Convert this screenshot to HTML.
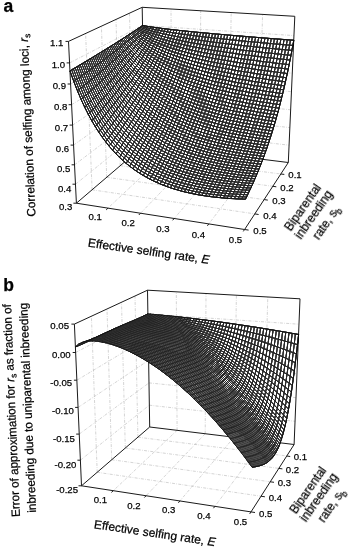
<!DOCTYPE html>
<html><head><meta charset="utf-8"><style>
html,body{margin:0;padding:0;background:#fff;}
svg{display:block;}
.g{stroke:#b0b0b0;stroke-width:0.55;stroke-dasharray:3 1.3 0.7 1.3;fill:none;}
.k{stroke:#1a1a1a;stroke-width:1;fill:none;}
.sf{fill:#fff;stroke:#111;stroke-width:0.6;}
.m{stroke:#000;stroke-width:0.92;fill:none;}
text{font-family:"Liberation Sans",sans-serif;fill:#000;}
.tx{opacity:0.995;}
.tx text{stroke:#000;stroke-width:0.25;}
.t text{font-size:9.6px;}
.ti,.ti text{font-size:12px;}
.pl{font-size:17.5px;font-weight:bold;}
</style></head><body>
<svg width="348" height="550" viewBox="0 0 348 550">
<defs><filter id="dk" x="-0.03" y="-0.03" width="1.06" height="1.06" color-interpolation-filters="sRGB"><feComponentTransfer><feFuncA type="table" tableValues="0 0.62 0.77 0.84 0.88"/></feComponentTransfer><feGaussianBlur stdDeviation="0.45"/></filter></defs>
<path class="g" d="M171.9 148.1L108 208.1M171.9 148.1L171 9M199.9 151.6L140.6 213.2M199.9 151.6L200.7 10.7M228.6 155.1L174.2 218.5M228.6 155.1L231.2 12.5M258.1 158.8L208.8 223.9M258.1 158.8L262.6 14.4M132.8 154.9L280.8 174M132.8 154.9L129.5 13.1M120.2 165.7L272.8 186.3M120.2 165.7L116 19.4M106.7 177.3L264.1 199.6M106.7 177.3L101.4 26.2M92.1 189.8L254.8 213.9M92.1 189.8L85.6 33.5M75.5 184.2L144.4 128.4M144.4 128.4L289.1 145.2M74.6 164.8L144.1 111.9M144.1 111.9L289.9 127.6M73.6 145.1L143.8 95.1M143.8 95.1L290.7 109.8M72.6 125.1L143.5 78M143.5 78L291.5 91.7M71.6 104.7L143.1 60.7M143.1 60.7L292.3 73.2M70.6 84L142.8 43.2M142.8 43.2L293.1 54.6M69.6 62.9L142.5 25.4M142.5 25.4L294 35.6"/>
<path class="k" d="M76.4 203.2L144.7 144.8M144.7 144.8L288.3 162.5M144.7 144.8L142.2 7.3M68.5 41.4L142.2 7.3M142.2 7.3L294.8 16.3M288.3 162.5L294.8 16.3"/>
<path class="sf" d="M97.7 54.2L96.2 55.1L94.6 56L93.1 57L91.5 57.9L89.9 58.9L88.3 59.8L86.7 60.8L85.1 61.8L83.5 62.8L81.8 63.7L80.2 64.7L78.5 65.7L76.8 66.7L75.1 67.7L73.4 68.8L71.7 69.8L70 70.8L70 70.8L70 70.8L69.9 70.8L69.9 70.8L69.9 70.8L69.9 70.8L69.9 70.8L69.9 70.8L69.9 70.9L69.9 70.9L69.9 70.9L69.9 70.9L69.9 70.9L69.9 70.9L73.7 81.4L73.7 81.4L77.4 90.8L77.4 90.8L81.1 99.4L81.1 99.4L84.7 107.2L84.7 107.2L88.2 114.3L88.2 114.3L91.8 120.8L91.8 120.8L95.3 126.7L95.3 126.7L98.8 132.2L98.8 132.2L102.2 137.2L102.2 137.2L105.7 141.9L105.7 141.9L109.1 146.2L109.1 146.2L112.5 150.1L112.5 150.1L115.9 153.8L115.9 153.8L119.3 157.3L119.3 157.3L122.7 160.4L122.7 160.4L126.1 163.4L126.1 163.4L129.5 166.2L129.5 166.2L132.9 168.7L132.9 168.7L136.3 171.1L136.3 171.1L139.7 173.4L139.7 173.4L143.1 175.4L143.1 175.4L146.5 177.4L146.5 177.4L149.9 179.2L149.9 179.2L153.4 180.9L153.4 180.9L156.8 182.5L156.8 182.5L160.2 184L160.2 184L163.6 185.3L163.6 185.3L167.1 186.6L167.1 186.6L170.5 187.8L170.5 187.8L174 189L174 189L177.4 190L177.4 190L180.9 191L180.9 191L184.4 191.9L184.4 191.9L187.9 192.7L187.9 192.7L191.4 193.5L191.4 193.5L194.9 194.2L194.9 194.2L198.4 194.8L198.4 194.8L202 195.4L202 195.4L205.5 196L205.5 196L209.1 196.5L209.1 196.5L212.7 196.9L212.7 196.9L216.3 197.3L216.3 197.3L219.9 197.7L219.9 197.7L223.5 198L223.5 198L227.1 198.3L227.1 198.3L230.7 198.6L230.7 198.6L234.4 198.8L234.4 198.8L238 199L238 199L241.7 199.1L241.7 199.1L245.4 199.2L245.4 199.2L245.4 199.2L245.4 199.2L245.4 199.2L245.4 199.2L245.4 199.2L245.4 199.2L245.5 199.2L245.5 199.2L245.5 199.2L245.5 199.2L245.5 199.2L246.5 197L246.5 197L247.6 194.8L247.6 194.8L248.7 192.6L248.7 192.6L249.7 190.3L249.7 190.3L250.8 188.1L250.8 188.1L251.8 185.8L251.8 185.8L252.9 183.5L252.9 183.5L253.9 181.2L253.9 181.2L254.9 178.8L254.9 178.8L256 176.4L256 176.4L257 174L257 174L258 171.6L258 171.6L259 169.2L259 169.2L260 166.7L260 166.7L261 164.2L261 164.2L262 161.6L262 161.6L262.9 159L262.9 159L263.9 156.4L263.9 156.4L264.9 153.7L264.9 153.7L265.9 151L265.9 151L266.8 148.3L266.8 148.3L267.8 145.5L267.8 145.5L268.7 142.7L268.7 142.7L269.7 139.8L269.7 139.8L270.6 136.9L270.6 136.9L271.6 134L271.6 134L272.5 131L272.5 131L273.5 127.9L273.5 127.9L274.4 124.8L274.4 124.8L275.3 121.6L275.3 121.6L276.2 118.3L276.2 118.3L277.2 115L277.2 115L278.1 111.6L278.1 111.6L279 108.2L279 108.2L279.9 104.7L279.9 104.7L280.9 101.1L280.9 101.1L281.8 97.4L281.8 97.4L282.7 93.7L282.7 93.7L283.6 89.8L283.6 89.8L284.5 85.9L284.5 85.9L285.5 81.8L285.5 81.8L286.4 77.7L286.4 77.7L287.3 73.5L287.3 73.5L288.2 69.1L288.2 69.1L289.2 64.6L289.2 64.6L290.1 60L290.1 60L291 55.3L291 55.3L291.9 50.5L291.9 50.5L292.9 45.4L292.9 45.4L293.8 40.3L293.8 40.3L293.8 40.3L293.8 40.3L293.8 40.3L293.8 40.3L293.8 40.3L293.8 40.3L293.8 40.3L293.8 40.2L293.8 40.2L293.8 40.2L293.8 40.2L293.8 40.2L293.8 40.2L293.8 40.2L293.8 40.2L293.8 40.2L290.5 40L287.3 39.7L284.1 39.5L280.9 39.2L277.7 39L274.5 38.8L271.3 38.5L268.2 38.3L265 38L261.8 37.8L258.7 37.5L255.6 37.3L252.4 37L249.3 36.8L246.2 36.5L243.1 36.2L240 36L236.9 35.7L233.9 35.5L230.8 35.2L227.7 35L224.7 34.7L221.7 34.4L218.6 34.2L215.6 33.9L212.6 33.6L209.6 33.4L206.6 33.1L203.6 32.8L200.6 32.5L197.6 32.2L194.6 32L191.7 31.7L188.7 31.4L185.8 31.1L182.9 30.8L179.9 30.5L177 30.1L174.1 29.8L171.2 29.5L168.3 29.1L165.4 28.8L162.5 28.4L159.6 28.1L156.8 27.7L153.9 27.3L151 26.9L148.2 26.5L145.4 26L142.5 25.5L142.5 25.5L142.5 25.5L142.5 25.5L142.5 25.5L142.5 25.5L142.5 25.5L142.5 25.5L142.5 25.5L141.3 26.4L140.1 27.2L138.8 28L137.6 28.9L136.3 29.7L135.1 30.5L133.8 31.4L132.6 32.2L131.3 33.1L130 33.9L128.7 34.7L127.4 35.6L126.1 36.4L124.8 37.3L123.4 38.1L122.1 39L120.7 39.9L119.4 40.7L118 41.6L116.6 42.5L115.2 43.3L113.8 44.2L112.4 45.1L111 46L109.6 46.9L108.1 47.8L106.7 48.7L105.2 49.6L103.7 50.5L102.2 51.4L100.7 52.3L99.2 53.2L97.7 54.2Z"/>
<g filter="url(#dk)"><path class="m" style="stroke-width:0.920" d="M142.5 25.6L141.3 26.4L140.1 27.2L138.9 28.1L137.6 28.9L136.4 29.7L135.1 30.6L133.9 31.4L132.6 32.3L131.3 33.1L130 33.9L128.7 34.8L127.4 35.6L126.1 36.5L124.8 37.3L123.5 38.2L122.1 39L120.8 39.9L119.4 40.8L118 41.6L116.7 42.5L115.3 43.4L113.9 44.3L112.4 45.1L111 46L109.6 46.9L108.1 47.8L106.7 48.7L105.2 49.6L103.8 50.5L102.3 51.4L100.8 52.3L99.3 53.3L97.7 54.2L96.2 55.1L94.7 56.1L93.1 57L91.5 58L90 58.9L88.4 59.9L86.8 60.8L85.1 61.8L83.5 62.8L81.9 63.8L80.2 64.8L78.5 65.8L76.9 66.8L75.2 67.8L73.4 68.8L71.7 69.8L70 70.9M145.3 26L144.1 27.2L142.9 28.3L141.7 29.4L140.5 30.4L139.3 31.5L138 32.6L136.8 33.7L135.5 34.8L134.3 35.8L133 36.9L131.7 38L130.4 39.1L129.1 40.1L127.8 41.2L126.5 42.3L125.2 43.3L123.8 44.4L122.5 45.5L121.1 46.5L119.8 47.6L118.4 48.7L117 49.8L115.6 50.8L114.2 51.9L112.8 53L111.4 54.1L110 55.2L108.5 56.3L107.1 57.4L105.6 58.5L104.1 59.6L102.6 60.7L101.1 61.8L99.6 62.9L98.1 64L96.5 65.1L95 66.2L93.4 67.4L91.9 68.5L90.3 69.6L88.7 70.8L87.1 71.9L85.5 73.1L83.8 74.3L82.2 75.4L80.5 76.6L78.9 77.8L77.2 79L75.5 80.2L73.8 81.4M148.2 26.5L147 27.9L145.8 29.2L144.6 30.5L143.4 31.9L142.2 33.2L141 34.5L139.7 35.8L138.5 37.1L137.2 38.4L136 39.6L134.7 40.9L133.4 42.2L132.1 43.5L130.9 44.7L129.6 46L128.2 47.3L126.9 48.5L125.6 49.8L124.3 51L122.9 52.3L121.5 53.5L120.2 54.8L118.8 56L117.4 57.3L116 58.5L114.6 59.8L113.2 61.1L111.8 62.3L110.3 63.6L108.9 64.8L107.4 66.1L105.9 67.4L104.5 68.6L103 69.9L101.5 71.2L99.9 72.5L98.4 73.7L96.9 75L95.3 76.3L93.8 77.6L92.2 78.9L90.6 80.2L89 81.5L87.4 82.8L85.8 84.1L84.1 85.5L82.5 86.8L80.8 88.1L79.1 89.5L77.5 90.8M151 26.9L149.9 28.5L148.7 30.1L147.5 31.6L146.3 33.2L145.1 34.7L143.9 36.2L142.7 37.7L141.4 39.2L140.2 40.7L138.9 42.2L137.7 43.6L136.4 45.1L135.2 46.5L133.9 48L132.6 49.4L131.3 50.9L130 52.3L128.7 53.7L127.3 55.1L126 56.6L124.7 58L123.3 59.4L121.9 60.8L120.6 62.2L119.2 63.6L117.8 65L116.4 66.4L115 67.8L113.6 69.2L112.1 70.7L110.7 72.1L109.2 73.5L107.8 74.9L106.3 76.3L104.8 77.7L103.3 79.1L101.8 80.6L100.3 82L98.8 83.4L97.2 84.8L95.7 86.3L94.1 87.7L92.5 89.1L90.9 90.6L89.3 92L87.7 93.5L86.1 95L84.4 96.4L82.8 97.9L81.1 99.4M153.9 27.3L152.7 29.1L151.6 30.9L150.4 32.7L149.2 34.4L148 36.1L146.8 37.8L145.6 39.5L144.4 41.2L143.1 42.9L141.9 44.5L140.7 46.1L139.4 47.8L138.2 49.4L136.9 51L135.6 52.6L134.3 54.2L133 55.8L131.7 57.3L130.4 58.9L129.1 60.5L127.8 62.1L126.4 63.6L125.1 65.2L123.7 66.7L122.4 68.3L121 69.8L119.6 71.4L118.2 72.9L116.8 74.4L115.4 76L114 77.5L112.5 79.1L111.1 80.6L109.6 82.1L108.1 83.7L106.7 85.2L105.2 86.8L103.7 88.3L102.1 89.9L100.6 91.4L99.1 93L97.5 94.5L96 96.1L94.4 97.7L92.8 99.2L91.2 100.8L89.6 102.4L88 104L86.4 105.6L84.7 107.2M156.8 27.7L155.6 29.7L154.4 31.7L153.3 33.6L152.1 35.6L150.9 37.5L149.7 39.3L148.5 41.2L147.3 43L146.1 44.9L144.9 46.7L143.6 48.5L142.4 50.2L141.2 52L139.9 53.8L138.6 55.5L137.4 57.3L136.1 59L134.8 60.7L133.5 62.4L132.2 64.1L130.9 65.8L129.5 67.5L128.2 69.2L126.9 70.9L125.5 72.5L124.2 74.2L122.8 75.9L121.4 77.6L120 79.2L118.6 80.9L117.2 82.5L115.8 84.2L114.3 85.8L112.9 87.5L111.4 89.2L110 90.8L108.5 92.5L107 94.1L105.5 95.8L104 97.5L102.5 99.1L101 100.8L99.4 102.5L97.9 104.1L96.3 105.8L94.7 107.5L93.1 109.2L91.5 110.9L89.9 112.6L88.3 114.3M159.6 28.1L158.5 30.3L157.3 32.4L156.2 34.6L155 36.6L153.8 38.7L152.6 40.7L151.5 42.8L150.3 44.8L149.1 46.7L147.8 48.7L146.6 50.6L145.4 52.6L144.2 54.5L142.9 56.4L141.7 58.2L140.4 60.1L139.1 62L137.9 63.8L136.6 65.6L135.3 67.5L134 69.3L132.7 71.1L131.3 72.9L130 74.7L128.7 76.5L127.3 78.3L126 80.1L124.6 81.8L123.2 83.6L121.8 85.4L120.4 87.1L119 88.9L117.6 90.7L116.2 92.4L114.7 94.2L113.3 96L111.8 97.7L110.3 99.5L108.9 101.2L107.4 103L105.9 104.8L104.4 106.5L102.8 108.3L101.3 110.1L99.7 111.8L98.2 113.6L96.6 115.4L95 117.2L93.4 119L91.8 120.8M162.5 28.5L161.4 30.8L160.2 33.1L159.1 35.4L157.9 37.7L156.7 39.9L155.6 42.1L154.4 44.2L153.2 46.4L152 48.5L150.8 50.6L149.6 52.6L148.4 54.7L147.2 56.7L145.9 58.8L144.7 60.8L143.4 62.8L142.2 64.7L140.9 66.7L139.6 68.6L138.3 70.6L137.1 72.5L135.8 74.4L134.4 76.4L133.1 78.3L131.8 80.2L130.5 82L129.1 83.9L127.8 85.8L126.4 87.7L125 89.5L123.6 91.4L122.2 93.3L120.8 95.1L119.4 97L118 98.8L116.6 100.7L115.1 102.5L113.7 104.4L112.2 106.2L110.7 108.1L109.2 109.9L107.7 111.8L106.2 113.7L104.7 115.5L103.2 117.4L101.6 119.2L100.1 121.1L98.5 123L96.9 124.8L95.3 126.7M165.4 28.8L164.3 31.3L163.1 33.8L162 36.2L160.8 38.6L159.7 41L158.5 43.3L157.3 45.6L156.2 47.9L155 50.1L153.8 52.3L152.6 54.5L151.4 56.7L150.2 58.9L148.9 61L147.7 63.1L146.5 65.2L145.2 67.3L144 69.4L142.7 71.4L141.4 73.5L140.1 75.5L138.9 77.5L137.6 79.6L136.2 81.6L134.9 83.6L133.6 85.5L132.3 87.5L130.9 89.5L129.6 91.4L128.2 93.4L126.8 95.4L125.5 97.3L124.1 99.3L122.7 101.2L121.3 103.1L119.8 105.1L118.4 107L117 108.9L115.5 110.9L114 112.8L112.6 114.7L111.1 116.7L109.6 118.6L108.1 120.5L106.6 122.5L105 124.4L103.5 126.3L101.9 128.3L100.4 130.2L98.8 132.2M168.3 29.2L167.2 31.8L166 34.4L164.9 37L163.7 39.5L162.6 42L161.4 44.5L160.3 46.9L159.1 49.3L157.9 51.7L156.8 54L155.6 56.3L154.4 58.6L153.2 60.9L151.9 63.1L150.7 65.3L149.5 67.5L148.3 69.7L147 71.9L145.8 74.1L144.5 76.2L143.2 78.3L141.9 80.4L140.7 82.5L139.4 84.6L138.1 86.7L136.7 88.8L135.4 90.8L134.1 92.9L132.8 95L131.4 97L130 99L128.7 101.1L127.3 103.1L125.9 105.1L124.5 107.1L123.1 109.1L121.7 111.1L120.3 113.1L118.8 115.1L117.4 117.1L115.9 119.1L114.4 121.1L112.9 123.2L111.5 125.2L110 127.2L108.4 129.2L106.9 131.2L105.4 133.2L103.8 135.2L102.3 137.2M171.2 29.5L170.1 32.3L168.9 35.1L167.8 37.8L166.7 40.4L165.5 43L164.4 45.6L163.2 48.1L162.1 50.6L160.9 53.1L159.7 55.6L158.5 58L157.4 60.4L156.2 62.7L155 65.1L153.7 67.4L152.5 69.7L151.3 72L150.1 74.3L148.8 76.5L147.6 78.7L146.3 80.9L145 83.1L143.8 85.3L142.5 87.5L141.2 89.7L139.9 91.8L138.6 94L137.3 96.1L135.9 98.2L134.6 100.3L133.2 102.4L131.9 104.5L130.5 106.6L129.1 108.7L127.8 110.8L126.4 112.9L124.9 115L123.5 117L122.1 119.1L120.7 121.2L119.2 123.2L117.8 125.3L116.3 127.4L114.8 129.4L113.3 131.5L111.8 133.6L110.3 135.6L108.8 137.7L107.2 139.8L105.7 141.8M174.1 29.9L173 32.8L171.9 35.6L170.7 38.5L169.6 41.2L168.5 44L167.3 46.6L166.2 49.3L165 51.9L163.9 54.5L162.7 57L161.5 59.6L160.4 62L159.2 64.5L158 66.9L156.8 69.4L155.6 71.8L154.3 74.1L153.1 76.5L151.9 78.8L150.6 81.1L149.4 83.4L148.1 85.7L146.9 87.9L145.6 90.2L144.3 92.4L143 94.6L141.7 96.9L140.4 99.1L139.1 101.3L137.8 103.4L136.4 105.6L135.1 107.8L133.7 109.9L132.4 112.1L131 114.2L129.6 116.4L128.2 118.5L126.8 120.6L125.4 122.8L124 124.9L122.5 127L121.1 129.2L119.6 131.3L118.2 133.4L116.7 135.5L115.2 137.6L113.7 139.8L112.2 141.9L110.7 144L109.1 146.1M177 30.2L175.9 33.2L174.8 36.2L173.7 39.1L172.6 42L171.4 44.9L170.3 47.7L169.2 50.4L168 53.1L166.9 55.8L165.7 58.4L164.5 61.1L163.4 63.6L162.2 66.2L161 68.7L159.8 71.2L158.6 73.7L157.4 76.1L156.2 78.5L155 80.9L153.7 83.3L152.5 85.7L151.2 88.1L150 90.4L148.7 92.7L147.4 95L146.2 97.3L144.9 99.6L143.6 101.8L142.3 104.1L140.9 106.3L139.6 108.6L138.3 110.8L136.9 113L135.6 115.2L134.2 117.4L132.8 119.6L131.5 121.8L130.1 124L128.7 126.2L127.3 128.4L125.8 130.6L124.4 132.7L123 134.9L121.5 137.1L120 139.3L118.6 141.4L117.1 143.6L115.6 145.8L114.1 147.9L112.6 150.1M179.9 30.5L178.8 33.7L177.7 36.8L176.6 39.8L175.5 42.8L174.4 45.7L173.3 48.6L172.1 51.5L171 54.3L169.8 57L168.7 59.8L167.5 62.5L166.4 65.1L165.2 67.8L164 70.4L162.8 72.9L161.6 75.5L160.4 78L159.2 80.5L158 83L156.8 85.4L155.6 87.9L154.3 90.3L153.1 92.7L151.8 95.1L150.6 97.4L149.3 99.8L148 102.1L146.7 104.4L145.4 106.8L144.1 109.1L142.8 111.3L141.5 113.6L140.1 115.9L138.8 118.2L137.5 120.4L136.1 122.7L134.7 124.9L133.3 127.2L131.9 129.4L130.5 131.6L129.1 133.8L127.7 136.1L126.3 138.3L124.8 140.5L123.4 142.7L121.9 144.9L120.5 147.2L119 149.4L117.5 151.6L116 153.8M182.8 30.8L181.8 34.1L180.7 37.3L179.6 40.4L178.5 43.5L177.3 46.5L176.2 49.5L175.1 52.5L174 55.4L172.8 58.2L171.7 61L170.5 63.8L169.4 66.5L168.2 69.3L167 71.9L165.9 74.6L164.7 77.2L163.5 79.8L162.3 82.3L161.1 84.9L159.9 87.4L158.7 89.9L157.4 92.4L156.2 94.8L154.9 97.3L153.7 99.7L152.4 102.1L151.2 104.5L149.9 106.9L148.6 109.3L147.3 111.6L146 114L144.7 116.3L143.4 118.6L142 120.9L140.7 123.2L139.3 125.5L138 127.8L136.6 130.1L135.2 132.4L133.8 134.6L132.4 136.9L131 139.2L129.6 141.4L128.2 143.7L126.7 146L125.3 148.2L123.8 150.5L122.3 152.7L120.9 155L119.4 157.2M185.8 31.1L184.7 34.5L183.6 37.8L182.5 41L181.4 44.2L180.3 47.3L179.2 50.4L178.1 53.4L177 56.4L175.8 59.3L174.7 62.2L173.5 65.1L172.4 67.9L171.2 70.7L170.1 73.4L168.9 76.1L167.7 78.8L166.6 81.5L165.4 84.1L164.2 86.7L163 89.3L161.7 91.8L160.5 94.4L159.3 96.9L158.1 99.4L156.8 101.9L155.6 104.3L154.3 106.8L153 109.2L151.8 111.6L150.5 114L149.2 116.4L147.9 118.8L146.6 121.1L145.2 123.5L143.9 125.8L142.6 128.2L141.2 130.5L139.9 132.8L138.5 135.2L137.1 137.5L135.7 139.8L134.3 142.1L132.9 144.4L131.5 146.7L130.1 149L128.6 151.3L127.2 153.5L125.7 155.8L124.3 158.1L122.8 160.4M188.7 31.4L187.7 34.9L186.6 38.3L185.5 41.6L184.4 44.9L183.3 48.1L182.2 51.2L181.1 54.3L180 57.4L178.8 60.4L177.7 63.4L176.6 66.3L175.4 69.2L174.3 72L173.1 74.8L172 77.6L170.8 80.3L169.6 83.1L168.4 85.8L167.2 88.4L166 91L164.8 93.7L163.6 96.2L162.4 98.8L161.2 101.4L159.9 103.9L158.7 106.4L157.5 108.9L156.2 111.3L154.9 113.8L153.6 116.3L152.4 118.7L151.1 121.1L149.8 123.5L148.5 125.9L147.1 128.3L145.8 130.7L144.5 133L143.1 135.4L141.8 137.8L140.4 140.1L139 142.4L137.6 144.8L136.2 147.1L134.8 149.4L133.4 151.8L132 154.1L130.5 156.4L129.1 158.7L127.6 161L126.2 163.4M191.7 31.7L190.6 35.3L189.5 38.7L188.4 42.2L187.4 45.5L186.3 48.8L185.2 52L184.1 55.2L183 58.3L181.8 61.4L180.7 64.5L179.6 67.4L178.5 70.4L177.3 73.3L176.2 76.2L175 79L173.8 81.8L172.7 84.6L171.5 87.3L170.3 90L169.1 92.7L167.9 95.4L166.7 98L165.5 100.6L164.3 103.2L163.1 105.8L161.8 108.3L160.6 110.9L159.4 113.4L158.1 115.9L156.8 118.4L155.6 120.8L154.3 123.3L153 125.7L151.7 128.2L150.4 130.6L149.1 133L147.7 135.4L146.4 137.8L145 140.2L143.7 142.6L142.3 144.9L140.9 147.3L139.6 149.7L138.2 152L136.8 154.4L135.3 156.7L133.9 159.1L132.5 161.4L131 163.8L129.6 166.1M194.6 32L193.6 35.6L192.5 39.2L191.4 42.7L190.3 46.1L189.3 49.5L188.2 52.8L187.1 56.1L186 59.3L184.8 62.4L183.7 65.5L182.6 68.5L181.5 71.6L180.4 74.5L179.2 77.5L178.1 80.3L176.9 83.2L175.8 86L174.6 88.8L173.4 91.6L172.2 94.3L171 97L169.9 99.7L168.6 102.4L167.4 105L166.2 107.6L165 110.2L163.8 112.8L162.5 115.3L161.3 117.9L160 120.4L158.8 122.9L157.5 125.4L156.2 127.8L154.9 130.3L153.6 132.8L152.3 135.2L151 137.6L149.6 140.1L148.3 142.5L147 144.9L145.6 147.3L144.2 149.7L142.9 152.1L141.5 154.5L140.1 156.8L138.7 159.2L137.3 161.6L135.8 164L134.4 166.3L133 168.7M197.6 32.3L196.5 36L195.5 39.7L194.4 43.2L193.3 46.7L192.2 50.2L191.2 53.6L190.1 56.9L189 60.1L187.9 63.3L186.8 66.5L185.6 69.6L184.5 72.7L183.4 75.7L182.3 78.7L181.1 81.6L180 84.5L178.8 87.4L177.7 90.2L176.5 93L175.3 95.8L174.2 98.6L173 101.3L171.8 104L170.6 106.7L169.4 109.3L168.1 111.9L166.9 114.5L165.7 117.1L164.5 119.7L163.2 122.3L161.9 124.8L160.7 127.3L159.4 129.8L158.1 132.3L156.8 134.8L155.5 137.3L154.2 139.7L152.9 142.2L151.6 144.6L150.3 147.1L148.9 149.5L147.6 151.9L146.2 154.3L144.8 156.7L143.4 159.1L142 161.5L140.6 163.9L139.2 166.3L137.8 168.7L136.4 171.1M200.6 32.6L199.5 36.4L198.5 40.1L197.4 43.7L196.3 47.3L195.3 50.8L194.2 54.3L193.1 57.6L192 61L190.9 64.2L189.8 67.5L188.7 70.6L187.6 73.7L186.5 76.8L185.3 79.8L184.2 82.8L183.1 85.8L181.9 88.7L180.8 91.6L179.6 94.4L178.4 97.3L177.3 100L176.1 102.8L174.9 105.5L173.7 108.2L172.5 110.9L171.3 113.6L170.1 116.2L168.9 118.9L167.6 121.5L166.4 124L165.2 126.6L163.9 129.2L162.6 131.7L161.4 134.2L160.1 136.7L158.8 139.2L157.5 141.7L156.2 144.2L154.9 146.7L153.5 149.1L152.2 151.6L150.9 154L149.5 156.4L148.1 158.9L146.8 161.3L145.4 163.7L144 166.1L142.6 168.5L141.2 170.9L139.8 173.3M203.6 32.9L202.5 36.7L201.5 40.5L200.4 44.2L199.3 47.9L198.3 51.5L197.2 55L196.1 58.4L195 61.8L193.9 65.1L192.8 68.4L191.7 71.6L190.6 74.8L189.5 77.9L188.4 81L187.3 84L186.1 87L185 90L183.9 92.9L182.7 95.8L181.6 98.6L180.4 101.4L179.2 104.2L178 107L176.9 109.8L175.7 112.5L174.5 115.2L173.3 117.8L172 120.5L170.8 123.1L169.6 125.7L168.4 128.3L167.1 130.9L165.9 133.5L164.6 136L163.3 138.5L162 141.1L160.8 143.6L159.5 146.1L158.2 148.5L156.8 151L155.5 153.5L154.2 155.9L152.8 158.4L151.5 160.8L150.1 163.3L148.7 165.7L147.4 168.1L146 170.6L144.6 173L143.2 175.4M206.6 33.1L205.5 37.1L204.5 40.9L203.4 44.7L202.3 48.4L201.3 52.1L200.2 55.6L199.1 59.1L198.1 62.6L197 65.9L195.9 69.3L194.8 72.5L193.7 75.7L192.6 78.9L191.5 82L190.4 85.1L189.2 88.1L188.1 91.1L187 94.1L185.8 97L184.7 99.9L183.5 102.8L182.4 105.6L181.2 108.4L180 111.2L178.8 113.9L177.6 116.7L176.4 119.4L175.2 122L174 124.7L172.8 127.3L171.6 129.9L170.3 132.5L169.1 135.1L167.8 137.7L166.6 140.2L165.3 142.8L164 145.3L162.7 147.8L161.4 150.3L160.1 152.8L158.8 155.3L157.5 157.8L156.2 160.3L154.8 162.7L153.5 165.2L152.1 167.6L150.7 170L149.4 172.5L148 174.9L146.6 177.3M209.6 33.4L208.5 37.4L207.5 41.4L206.4 45.2L205.4 49L204.3 52.7L203.2 56.3L202.2 59.8L201.1 63.3L200 66.7L198.9 70.1L197.8 73.4L196.8 76.7L195.7 79.9L194.5 83.1L193.4 86.2L192.3 89.3L191.2 92.3L190.1 95.3L188.9 98.2L187.8 101.2L186.6 104.1L185.5 106.9L184.3 109.7L183.2 112.5L182 115.3L180.8 118.1L179.6 120.8L178.4 123.5L177.2 126.2L176 128.8L174.8 131.5L173.6 134.1L172.3 136.7L171.1 139.3L169.8 141.9L168.6 144.4L167.3 147L166 149.5L164.7 152L163.4 154.5L162.1 157L160.8 159.5L159.5 162L158.2 164.5L156.8 166.9L155.5 169.4L154.1 171.8L152.7 174.3L151.4 176.7L150 179.2M212.6 33.7L211.5 37.8L210.5 41.8L209.4 45.7L208.4 49.5L207.3 53.2L206.3 56.9L205.2 60.5L204.1 64L203.1 67.5L202 70.9L200.9 74.3L199.8 77.6L198.7 80.8L197.6 84L196.5 87.2L195.4 90.3L194.3 93.4L193.2 96.4L192.1 99.4L190.9 102.4L189.8 105.3L188.6 108.2L187.5 111L186.3 113.8L185.2 116.6L184 119.4L182.8 122.2L181.6 124.9L180.4 127.6L179.2 130.3L178 132.9L176.8 135.6L175.6 138.2L174.3 140.8L173.1 143.4L171.8 146L170.6 148.5L169.3 151.1L168 153.6L166.7 156.1L165.5 158.6L164.1 161.1L162.8 163.6L161.5 166.1L160.2 168.6L158.8 171L157.5 173.5L156.1 176L154.8 178.4L153.4 180.9M215.6 34L214.6 38.1L213.5 42.2L212.5 46.1L211.4 50L210.4 53.8L209.3 57.5L208.3 61.2L207.2 64.8L206.1 68.3L205.1 71.7L204 75.1L202.9 78.5L201.8 81.8L200.7 85L199.6 88.2L198.5 91.3L197.4 94.4L196.3 97.5L195.2 100.5L194.1 103.5L192.9 106.4L191.8 109.4L190.7 112.2L189.5 115.1L188.3 117.9L187.2 120.7L186 123.5L184.8 126.2L183.6 128.9L182.4 131.6L181.2 134.3L180 137L178.8 139.6L177.6 142.2L176.4 144.8L175.1 147.4L173.9 150L172.6 152.5L171.3 155.1L170.1 157.6L168.8 160.1L167.5 162.7L166.2 165.2L164.9 167.6L163.5 170.1L162.2 172.6L160.9 175.1L159.5 177.5L158.2 180L156.8 182.4M218.6 34.2L217.6 38.4L216.5 42.5L215.5 46.6L214.5 50.5L213.4 54.3L212.4 58.1L211.3 61.8L210.3 65.4L209.2 69L208.1 72.5L207.1 75.9L206 79.3L204.9 82.6L203.8 85.9L202.7 89.1L201.7 92.3L200.6 95.4L199.4 98.5L198.3 101.6L197.2 104.6L196.1 107.6L195 110.5L193.8 113.4L192.7 116.3L191.5 119.1L190.4 121.9L189.2 124.7L188 127.5L186.9 130.2L185.7 132.9L184.5 135.6L183.3 138.3L182.1 140.9L180.9 143.6L179.6 146.2L178.4 148.8L177.2 151.4L175.9 153.9L174.7 156.5L173.4 159L172.1 161.6L170.8 164.1L169.5 166.6L168.2 169.1L166.9 171.6L165.6 174.1L164.3 176.5L162.9 179L161.6 181.5L160.2 183.9M221.6 34.5L220.6 38.7L219.6 42.9L218.6 47L217.5 51L216.5 54.9L215.4 58.7L214.4 62.4L213.3 66.1L212.3 69.7L211.2 73.2L210.2 76.7L209.1 80.1L208 83.5L206.9 86.8L205.9 90L204.8 93.2L203.7 96.4L202.6 99.5L201.5 102.6L200.4 105.6L199.3 108.6L198.1 111.6L197 114.5L195.9 117.4L194.7 120.3L193.6 123.1L192.4 125.9L191.3 128.7L190.1 131.4L188.9 134.2L187.7 136.9L186.5 139.6L185.3 142.2L184.1 144.9L182.9 147.5L181.7 150.1L180.5 152.7L179.2 155.3L178 157.8L176.7 160.4L175.4 162.9L174.2 165.4L172.9 168L171.6 170.5L170.3 173L169 175.4L167.7 177.9L166.3 180.4L165 182.8L163.7 185.3M224.7 34.7L223.7 39.1L222.6 43.3L221.6 47.4L220.6 51.4L219.5 55.4L218.5 59.2L217.5 63L216.4 66.7L215.4 70.4L214.3 74L213.3 77.5L212.2 80.9L211.1 84.3L210.1 87.6L209 90.9L207.9 94.1L206.8 97.3L205.7 100.5L204.6 103.6L203.5 106.6L202.4 109.6L201.3 112.6L200.2 115.6L199.1 118.5L197.9 121.4L196.8 124.2L195.6 127L194.5 129.8L193.3 132.6L192.2 135.3L191 138.1L189.8 140.7L188.6 143.4L187.4 146.1L186.2 148.7L185 151.3L183.8 153.9L182.5 156.5L181.3 159.1L180 161.6L178.8 164.2L177.5 166.7L176.3 169.2L175 171.7L173.7 174.2L172.4 176.7L171.1 179.2L169.8 181.7L168.4 184.1L167.1 186.6M227.7 35L226.7 39.4L225.7 43.7L224.7 47.8L223.6 51.9L222.6 55.9L221.6 59.8L220.5 63.6L219.5 67.4L218.5 71L217.4 74.6L216.4 78.2L215.3 81.7L214.3 85.1L213.2 88.5L212.1 91.8L211 95L210 98.2L208.9 101.4L207.8 104.5L206.7 107.6L205.6 110.6L204.5 113.6L203.4 116.6L202.3 119.5L201.1 122.4L200 125.3L198.9 128.1L197.7 130.9L196.6 133.7L195.4 136.4L194.2 139.2L193.1 141.9L191.9 144.6L190.7 147.2L189.5 149.9L188.3 152.5L187.1 155.1L185.9 157.7L184.6 160.3L183.4 162.8L182.1 165.4L180.9 167.9L179.6 170.4L178.4 172.9L177.1 175.4L175.8 177.9L174.5 180.4L173.2 182.9L171.9 185.3L170.5 187.8M230.8 35.3L229.8 39.7L228.8 44L227.7 48.2L226.7 52.4L225.7 56.4L224.7 60.3L223.6 64.2L222.6 68L221.6 71.7L220.5 75.3L219.5 78.9L218.4 82.4L217.4 85.9L216.3 89.2L215.3 92.6L214.2 95.9L213.1 99.1L212 102.3L211 105.4L209.9 108.5L208.8 111.6L207.7 114.6L206.6 117.6L205.5 120.5L204.3 123.4L203.2 126.3L202.1 129.1L201 132L199.8 134.7L198.7 137.5L197.5 140.2L196.3 143L195.2 145.7L194 148.3L192.8 151L191.6 153.6L190.4 156.2L189.2 158.8L188 161.4L186.7 163.9L185.5 166.5L184.3 169L183 171.6L181.8 174.1L180.5 176.6L179.2 179L177.9 181.5L176.6 184L175.3 186.5L174 188.9M233.9 35.5L232.9 40L231.8 44.4L230.8 48.6L229.8 52.8L228.8 56.9L227.8 60.9L226.7 64.7L225.7 68.6L224.7 72.3L223.6 76L222.6 79.6L221.6 83.1L220.5 86.6L219.5 90L218.4 93.4L217.3 96.7L216.3 99.9L215.2 103.1L214.1 106.3L213.1 109.4L212 112.5L210.9 115.5L209.8 118.5L208.7 121.5L207.6 124.4L206.5 127.3L205.3 130.1L204.2 133L203.1 135.8L201.9 138.5L200.8 141.3L199.6 144L198.5 146.7L197.3 149.4L196.1 152L194.9 154.6L193.7 157.3L192.5 159.9L191.3 162.4L190.1 165L188.9 167.6L187.6 170.1L186.4 172.6L185.2 175.1L183.9 177.6L182.6 180.1L181.3 182.6L180.1 185L178.8 187.5L177.5 189.9M236.9 35.8L235.9 40.3L234.9 44.7L233.9 49L232.9 53.2L231.9 57.3L230.9 61.4L229.8 65.3L228.8 69.1L227.8 72.9L226.8 76.6L225.7 80.2L224.7 83.8L223.7 87.3L222.6 90.7L221.6 94.1L220.5 97.5L219.5 100.7L218.4 104L217.3 107.1L216.3 110.3L215.2 113.3L214.1 116.4L213 119.4L211.9 122.4L210.8 125.3L209.7 128.2L208.6 131.1L207.5 133.9L206.3 136.7L205.2 139.5L204.1 142.2L202.9 145L201.8 147.7L200.6 150.3L199.4 153L198.3 155.6L197.1 158.3L195.9 160.9L194.7 163.4L193.5 166L192.3 168.5L191 171.1L189.8 173.6L188.6 176.1L187.3 178.6L186.1 181.1L184.8 183.6L183.5 186L182.2 188.5L180.9 190.9M240 36L239 40.6L238 45.1L237 49.4L236 53.7L235 57.8L234 61.9L233 65.8L231.9 69.7L230.9 73.5L229.9 77.2L228.9 80.9L227.8 84.5L226.8 88L225.8 91.5L224.7 94.9L223.7 98.2L222.6 101.5L221.6 104.7L220.5 107.9L219.5 111.1L218.4 114.2L217.3 117.2L216.2 120.3L215.1 123.2L214 126.2L212.9 129.1L211.8 132L210.7 134.8L209.6 137.6L208.5 140.4L207.4 143.2L206.2 145.9L205.1 148.6L203.9 151.3L202.8 153.9L201.6 156.6L200.4 159.2L199.2 161.8L198.1 164.4L196.9 166.9L195.6 169.5L194.4 172L193.2 174.5L192 177L190.7 179.5L189.5 182L188.2 184.5L187 186.9L185.7 189.4L184.4 191.8M243.1 36.3L242.1 40.9L241.1 45.4L240.1 49.8L239.1 54.1L238.1 58.3L237.1 62.3L236.1 66.3L235.1 70.3L234.1 74.1L233 77.8L232 81.5L231 85.1L230 88.7L228.9 92.2L227.9 95.6L226.9 98.9L225.8 102.3L224.8 105.5L223.7 108.7L222.7 111.9L221.6 115L220.5 118.1L219.5 121.1L218.4 124.1L217.3 127L216.2 129.9L215.1 132.8L214 135.7L212.9 138.5L211.8 141.3L210.7 144L209.5 146.8L208.4 149.5L207.3 152.2L206.1 154.8L204.9 157.5L203.8 160.1L202.6 162.7L201.4 165.3L200.2 167.8L199 170.4L197.8 172.9L196.6 175.4L195.4 177.9L194.2 180.4L192.9 182.9L191.7 185.3L190.4 187.8L189.2 190.2L187.9 192.6M246.2 36.5L245.2 41.2L244.2 45.7L243.2 50.2L242.2 54.5L241.2 58.7L240.2 62.8L239.2 66.9L238.2 70.8L237.2 74.7L236.2 78.4L235.2 82.1L234.2 85.8L233.1 89.3L232.1 92.8L231.1 96.3L230.1 99.7L229 103L228 106.3L226.9 109.5L225.9 112.6L224.8 115.8L223.8 118.8L222.7 121.9L221.6 124.9L220.6 127.8L219.5 130.8L218.4 133.7L217.3 136.5L216.2 139.3L215.1 142.1L214 144.9L212.8 147.6L211.7 150.3L210.6 153L209.5 155.7L208.3 158.3L207.1 160.9L206 163.5L204.8 166.1L203.6 168.7L202.5 171.2L201.3 173.7L200.1 176.2L198.9 178.7L197.6 181.2L196.4 183.7L195.2 186.1L193.9 188.6L192.7 191L191.4 193.4M249.3 36.8L248.3 41.5L247.3 46.1L246.3 50.5L245.3 54.9L244.4 59.1L243.4 63.3L242.4 67.3L241.4 71.3L240.4 75.2L239.3 79L238.3 82.7L237.3 86.4L236.3 90L235.3 93.5L234.3 96.9L233.3 100.3L232.2 103.7L231.2 107L230.1 110.2L229.1 113.4L228.1 116.5L227 119.6L225.9 122.7L224.9 125.7L223.8 128.6L222.7 131.6L221.7 134.4L220.6 137.3L219.5 140.1L218.4 142.9L217.3 145.7L216.2 148.4L215.1 151.1L213.9 153.8L212.8 156.5L211.7 159.1L210.5 161.7L209.4 164.3L208.2 166.9L207 169.4L205.9 172L204.7 174.5L203.5 177L202.3 179.5L201.1 181.9L199.9 184.4L198.7 186.9L197.4 189.3L196.2 191.7L194.9 194.1M252.4 37.1L251.5 41.8L250.5 46.4L249.5 50.9L248.5 55.3L247.5 59.6L246.5 63.8L245.5 67.8L244.5 71.8L243.5 75.7L242.5 79.6L241.5 83.3L240.5 87L239.5 90.6L238.5 94.1L237.5 97.6L236.5 101L235.4 104.4L234.4 107.7L233.4 110.9L232.3 114.1L231.3 117.2L230.3 120.3L229.2 123.4L228.2 126.4L227.1 129.4L226 132.3L225 135.2L223.9 138.1L222.8 140.9L221.7 143.7L220.6 146.5L219.5 149.2L218.4 151.9L217.3 154.6L216.2 157.2L215 159.9L213.9 162.5L212.8 165.1L211.6 167.6L210.5 170.2L209.3 172.7L208.1 175.2L206.9 177.7L205.8 180.2L204.6 182.7L203.4 185.1L202.1 187.5L200.9 190L199.7 192.4L198.5 194.8M255.6 37.3L254.6 42.1L253.6 46.7L252.6 51.3L251.6 55.7L250.6 60L249.7 64.2L248.7 68.3L247.7 72.3L246.7 76.3L245.7 80.1L244.7 83.9L243.7 87.6L242.7 91.2L241.7 94.7L240.7 98.2L239.7 101.7L238.7 105L237.6 108.3L236.6 111.6L235.6 114.8L234.6 117.9L233.5 121L232.5 124.1L231.4 127.1L230.4 130.1L229.3 133L228.3 135.9L227.2 138.8L226.1 141.6L225 144.4L224 147.2L222.9 149.9L221.8 152.6L220.7 155.3L219.6 158L218.4 160.6L217.3 163.2L216.2 165.8L215 168.3L213.9 170.9L212.7 173.4L211.6 175.9L210.4 178.4L209.2 180.9L208 183.3L206.9 185.7L205.6 188.2L204.4 190.6L203.2 193L202 195.4M258.7 37.6L257.7 42.4L256.7 47.1L255.8 51.6L254.8 56.1L253.8 60.4L252.8 64.6L251.8 68.8L250.8 72.8L249.9 76.8L248.9 80.6L247.9 84.4L246.9 88.1L245.9 91.8L244.9 95.4L243.9 98.9L242.9 102.3L241.9 105.7L240.9 109L239.9 112.2L238.8 115.5L237.8 118.6L236.8 121.7L235.8 124.8L234.7 127.8L233.7 130.8L232.6 133.7L231.6 136.6L230.5 139.5L229.5 142.3L228.4 145.1L227.3 147.9L226.2 150.6L225.1 153.3L224 156L222.9 158.6L221.8 161.3L220.7 163.9L219.6 166.4L218.5 169L217.3 171.5L216.2 174L215 176.5L213.9 179L212.7 181.5L211.5 183.9L210.4 186.3L209.2 188.8L208 191.2L206.8 193.5L205.5 195.9M261.8 37.8L260.9 42.7L259.9 47.4L258.9 52L257.9 56.5L257 60.8L256 65.1L255 69.2L254 73.3L253.1 77.3L252.1 81.2L251.1 85L250.1 88.7L249.1 92.4L248.1 95.9L247.1 99.4L246.1 102.9L245.1 106.3L244.1 109.6L243.1 112.9L242.1 116.1L241.1 119.3L240.1 122.4L239 125.4L238 128.5L237 131.5L235.9 134.4L234.9 137.3L233.8 140.2L232.8 143L231.7 145.8L230.7 148.5L229.6 151.3L228.5 154L227.4 156.6L226.3 159.3L225.2 161.9L224.1 164.5L223 167.1L221.9 169.6L220.8 172.1L219.6 174.6L218.5 177.1L217.4 179.6L216.2 182L215 184.5L213.9 186.9L212.7 189.3L211.5 191.7L210.3 194.1L209.1 196.4M265 38.1L264 42.9L263.1 47.7L262.1 52.3L261.1 56.8L260.1 61.2L259.2 65.5L258.2 69.7L257.2 73.8L256.2 77.8L255.3 81.7L254.3 85.5L253.3 89.2L252.3 92.9L251.3 96.5L250.4 100L249.4 103.5L248.4 106.9L247.4 110.2L246.4 113.5L245.4 116.7L244.4 119.9L243.4 123L242.3 126.1L241.3 129.1L240.3 132.1L239.3 135L238.2 137.9L237.2 140.8L236.1 143.6L235.1 146.4L234 149.2L233 151.9L231.9 154.6L230.8 157.3L229.7 159.9L228.7 162.5L227.6 165.1L226.5 167.7L225.4 170.2L224.2 172.7L223.1 175.2L222 177.7L220.9 180.1L219.7 182.6L218.6 185L217.4 187.4L216.2 189.8L215.1 192.2L213.9 194.5L212.7 196.9M268.2 38.3L267.2 43.2L266.2 48L265.3 52.7L264.3 57.2L263.3 61.6L262.4 65.9L261.4 70.1L260.4 74.2L259.5 78.3L258.5 82.2L257.5 86L256.5 89.8L255.6 93.5L254.6 97.1L253.6 100.6L252.6 104.1L251.6 107.5L250.6 110.8L249.7 114.1L248.7 117.3L247.7 120.5L246.7 123.6L245.6 126.7L244.6 129.7L243.6 132.7L242.6 135.7L241.6 138.6L240.5 141.4L239.5 144.2L238.5 147L237.4 149.8L236.4 152.5L235.3 155.2L234.2 157.8L233.2 160.5L232.1 163.1L231 165.7L229.9 168.2L228.8 170.7L227.7 173.2L226.6 175.7L225.5 178.2L224.4 180.6L223.2 183.1L222.1 185.5L220.9 187.9L219.8 190.2L218.6 192.6L217.4 194.9L216.3 197.3M271.3 38.6L270.4 43.5L269.4 48.3L268.4 53L267.5 57.6L266.5 62L265.6 66.3L264.6 70.6L263.6 74.7L262.7 78.7L261.7 82.7L260.7 86.5L259.8 90.3L258.8 94L257.8 97.6L256.9 101.2L255.9 104.6L254.9 108L253.9 111.4L252.9 114.7L252 117.9L251 121.1L250 124.2L249 127.3L248 130.3L247 133.3L245.9 136.2L244.9 139.1L243.9 142L242.9 144.8L241.8 147.6L240.8 150.4L239.8 153.1L238.7 155.8L237.7 158.4L236.6 161L235.5 163.6L234.5 166.2L233.4 168.7L232.3 171.3L231.2 173.8L230.1 176.2L229 178.7L227.9 181.1L226.8 183.5L225.6 185.9L224.5 188.3L223.3 190.7L222.2 193L221 195.3L219.9 197.6M274.5 38.8L273.5 43.8L272.6 48.6L271.6 53.3L270.7 57.9L269.7 62.4L268.8 66.8L267.8 71L266.8 75.1L265.9 79.2L264.9 83.2L264 87L263 90.8L262.1 94.5L261.1 98.1L260.1 101.7L259.2 105.2L258.2 108.6L257.2 112L256.2 115.2L255.3 118.5L254.3 121.7L253.3 124.8L252.3 127.9L251.3 130.9L250.3 133.9L249.3 136.8L248.3 139.7L247.3 142.6L246.3 145.4L245.2 148.2L244.2 150.9L243.2 153.6L242.1 156.3L241.1 158.9L240 161.6L239 164.1L237.9 166.7L236.9 169.2L235.8 171.7L234.7 174.2L233.6 176.7L232.5 179.1L231.4 181.5L230.3 183.9L229.2 186.3L228 188.7L226.9 191L225.8 193.4L224.6 195.7L223.5 198M277.7 39L276.7 44.1L275.8 48.9L274.8 53.7L273.9 58.3L272.9 62.8L272 67.2L271 71.4L270.1 75.6L269.1 79.7L268.2 83.6L267.2 87.5L266.3 91.3L265.3 95L264.4 98.7L263.4 102.2L262.4 105.7L261.5 109.1L260.5 112.5L259.5 115.8L258.6 119L257.6 122.2L256.6 125.3L255.6 128.4L254.6 131.5L253.7 134.4L252.7 137.4L251.7 140.3L250.7 143.1L249.7 145.9L248.6 148.7L247.6 151.4L246.6 154.1L245.6 156.8L244.5 159.4L243.5 162L242.4 164.6L241.4 167.2L240.3 169.7L239.3 172.2L238.2 174.7L237.1 177.1L236 179.5L234.9 181.9L233.8 184.3L232.7 186.7L231.6 189L230.5 191.4L229.4 193.7L228.2 196L227.1 198.3M280.9 39.3L279.9 44.3L279 49.2L278 54L277.1 58.6L276.1 63.2L275.2 67.6L274.3 71.8L273.3 76L272.4 80.1L271.4 84.1L270.5 88L269.5 91.8L268.6 95.5L267.6 99.2L266.7 102.7L265.7 106.2L264.8 109.7L263.8 113L262.8 116.3L261.9 119.6L260.9 122.8L260 125.9L259 129L258 132L257 135L256 137.9L255 140.8L254.1 143.6L253.1 146.4L252.1 149.2L251 151.9L250 154.6L249 157.3L248 159.9L247 162.5L245.9 165.1L244.9 167.6L243.8 170.1L242.8 172.6L241.7 175.1L240.7 177.5L239.6 179.9L238.5 182.3L237.4 184.7L236.3 187L235.2 189.4L234.1 191.7L233 194L231.9 196.2L230.7 198.5M284.1 39.5L283.2 44.6L282.2 49.5L281.3 54.3L280.3 59L279.4 63.5L278.4 67.9L277.5 72.3L276.6 76.5L275.6 80.5L274.7 84.5L273.7 88.5L272.8 92.3L271.9 96L270.9 99.7L270 103.2L269 106.7L268.1 110.2L267.1 113.5L266.2 116.8L265.2 120.1L264.3 123.3L263.3 126.4L262.3 129.5L261.4 132.5L260.4 135.5L259.4 138.4L258.4 141.3L257.5 144.1L256.5 146.9L255.5 149.7L254.5 152.4L253.5 155.1L252.5 157.8L251.5 160.4L250.4 163L249.4 165.5L248.4 168L247.3 170.5L246.3 173L245.3 175.5L244.2 177.9L243.1 180.3L242.1 182.6L241 185L239.9 187.3L238.8 189.6L237.7 191.9L236.6 194.2L235.5 196.5L234.4 198.7M287.3 39.8L286.4 44.9L285.4 49.8L284.5 54.7L283.5 59.3L282.6 63.9L281.7 68.3L280.7 72.7L279.8 76.9L278.9 81L277.9 85L277 88.9L276.1 92.7L275.1 96.5L274.2 100.1L273.3 103.7L272.3 107.2L271.4 110.7L270.4 114L269.5 117.4L268.6 120.6L267.6 123.8L266.7 126.9L265.7 130L264.7 133L263.8 136L262.8 138.9L261.8 141.8L260.9 144.6L259.9 147.4L258.9 150.2L257.9 152.9L256.9 155.5L255.9 158.2L254.9 160.8L253.9 163.4L252.9 165.9L251.9 168.4L250.9 170.9L249.8 173.4L248.8 175.8L247.8 178.2L246.7 180.6L245.6 183L244.6 185.3L243.5 187.6L242.4 189.9L241.3 192.2L240.3 194.4L239.2 196.7L238 198.9M290.5 40L289.6 45.2L288.7 50.1L287.7 55L286.8 59.7L285.9 64.3L284.9 68.7L284 73.1L283.1 77.3L282.1 81.4L281.2 85.4L280.3 89.4L279.4 93.2L278.4 96.9L277.5 100.6L276.6 104.2L275.6 107.7L274.7 111.2L273.8 114.5L272.8 117.8L271.9 121.1L271 124.3L270 127.4L269.1 130.5L268.1 133.5L267.2 136.5L266.2 139.4L265.3 142.2L264.3 145.1L263.3 147.9L262.4 150.6L261.4 153.3L260.4 156L259.4 158.6L258.4 161.2L257.4 163.8L256.4 166.3L255.4 168.8L254.4 171.3L253.4 173.7L252.3 176.1L251.3 178.5L250.3 180.9L249.2 183.2L248.2 185.6L247.1 187.8L246.1 190.1L245 192.4L243.9 194.6L242.8 196.8L241.7 199M293.8 40.3L292.8 45.4L291.9 50.4L291 55.3L290 60L289.1 64.6L288.2 69.1L287.3 73.5L286.3 77.7L285.4 81.8L284.5 85.9L283.6 89.8L282.7 93.6L281.7 97.4L280.8 101.1L279.9 104.7L279 108.2L278.1 111.6L277.1 115L276.2 118.3L275.3 121.6L274.3 124.7L273.4 127.9L272.5 130.9L271.5 134L270.6 136.9L269.6 139.8L268.7 142.7L267.7 145.5L266.8 148.3L265.8 151L264.8 153.7L263.9 156.4L262.9 159L261.9 161.6L260.9 164.1L259.9 166.7L258.9 169.1L257.9 171.6L256.9 174L255.9 176.4L254.9 178.8L253.9 181.2L252.8 183.5L251.8 185.8L250.8 188.1L249.7 190.3L248.6 192.6L247.6 194.8L246.5 197L245.4 199.2M142.5 25.6L145.3 26L148.2 26.5L151 26.9L153.9 27.3L156.8 27.7L159.6 28.1L162.5 28.5L165.4 28.8L168.3 29.2L171.2 29.5L174.1 29.9L177 30.2L179.9 30.5L182.8 30.8L185.8 31.1L188.7 31.4L191.7 31.7L194.6 32L197.6 32.3L200.6 32.6L203.6 32.9L206.6 33.1L209.6 33.4L212.6 33.7L215.6 34L218.6 34.2L221.6 34.5L224.7 34.7L227.7 35L230.8 35.3L233.9 35.5L236.9 35.8L240 36L243.1 36.3L246.2 36.5L249.3 36.8L252.4 37.1L255.6 37.3L258.7 37.6L261.8 37.8L265 38.1L268.2 38.3L271.3 38.6L274.5 38.8L277.7 39L280.9 39.3L284.1 39.5L287.3 39.8L290.5 40L293.8 40.3M141.3 26.4L144.1 27.2L147 27.9L149.9 28.5L152.7 29.1L155.6 29.7L158.5 30.3L161.4 30.8L164.3 31.3L167.2 31.8L170.1 32.3L173 32.8L175.9 33.2L178.8 33.7L181.8 34.1L184.7 34.5L187.7 34.9L190.6 35.3L193.6 35.6L196.5 36L199.5 36.4L202.5 36.7L205.5 37.1L208.5 37.4L211.5 37.8L214.6 38.1L217.6 38.4L220.6 38.7L223.7 39.1L226.7 39.4L229.8 39.7L232.9 40L235.9 40.3L239 40.6L242.1 40.9L245.2 41.2L248.3 41.5L251.5 41.8L254.6 42.1L257.7 42.4L260.9 42.7L264 42.9L267.2 43.2L270.4 43.5L273.5 43.8L276.7 44.1L279.9 44.3L283.2 44.6L286.4 44.9L289.6 45.2L292.8 45.4M140.1 27.2L142.9 28.3L145.8 29.2L148.7 30.1L151.6 30.9L154.4 31.7L157.3 32.4L160.2 33.1L163.1 33.8L166 34.4L168.9 35.1L171.9 35.6L174.8 36.2L177.7 36.8L180.7 37.3L183.6 37.8L186.6 38.3L189.5 38.7L192.5 39.2L195.5 39.7L198.5 40.1L201.5 40.5L204.5 40.9L207.5 41.4L210.5 41.8L213.5 42.2L216.5 42.5L219.6 42.9L222.6 43.3L225.7 43.7L228.8 44L231.8 44.4L234.9 44.7L238 45.1L241.1 45.4L244.2 45.7L247.3 46.1L250.5 46.4L253.6 46.7L256.7 47.1L259.9 47.4L263.1 47.7L266.2 48L269.4 48.3L272.6 48.6L275.8 48.9L279 49.2L282.2 49.5L285.4 49.8L288.7 50.1L291.9 50.4M138.9 28.1L141.7 29.4L144.6 30.5L147.5 31.6L150.4 32.7L153.3 33.6L156.2 34.6L159.1 35.4L162 36.2L164.9 37L167.8 37.8L170.7 38.5L173.7 39.1L176.6 39.8L179.6 40.4L182.5 41L185.5 41.6L188.4 42.2L191.4 42.7L194.4 43.2L197.4 43.7L200.4 44.2L203.4 44.7L206.4 45.2L209.4 45.7L212.5 46.1L215.5 46.6L218.6 47L221.6 47.4L224.7 47.8L227.7 48.2L230.8 48.6L233.9 49L237 49.4L240.1 49.8L243.2 50.2L246.3 50.5L249.5 50.9L252.6 51.3L255.8 51.6L258.9 52L262.1 52.3L265.3 52.7L268.4 53L271.6 53.3L274.8 53.7L278 54L281.3 54.3L284.5 54.7L287.7 55L291 55.3M137.6 28.9L140.5 30.4L143.4 31.9L146.3 33.2L149.2 34.4L152.1 35.6L155 36.6L157.9 37.7L160.8 38.6L163.7 39.5L166.7 40.4L169.6 41.2L172.6 42L175.5 42.8L178.5 43.5L181.4 44.2L184.4 44.9L187.4 45.5L190.3 46.1L193.3 46.7L196.3 47.3L199.3 47.9L202.3 48.4L205.4 49L208.4 49.5L211.4 50L214.5 50.5L217.5 51L220.6 51.4L223.6 51.9L226.7 52.4L229.8 52.8L232.9 53.2L236 53.7L239.1 54.1L242.2 54.5L245.3 54.9L248.5 55.3L251.6 55.7L254.8 56.1L257.9 56.5L261.1 56.8L264.3 57.2L267.5 57.6L270.7 57.9L273.9 58.3L277.1 58.6L280.3 59L283.5 59.3L286.8 59.7L290 60M136.4 29.7L139.3 31.5L142.2 33.2L145.1 34.7L148 36.1L150.9 37.5L153.8 38.7L156.7 39.9L159.7 41L162.6 42L165.5 43L168.5 44L171.4 44.9L174.4 45.7L177.3 46.5L180.3 47.3L183.3 48.1L186.3 48.8L189.3 49.5L192.2 50.2L195.3 50.8L198.3 51.5L201.3 52.1L204.3 52.7L207.3 53.2L210.4 53.8L213.4 54.3L216.5 54.9L219.5 55.4L222.6 55.9L225.7 56.4L228.8 56.9L231.9 57.3L235 57.8L238.1 58.3L241.2 58.7L244.4 59.1L247.5 59.6L250.6 60L253.8 60.4L257 60.8L260.1 61.2L263.3 61.6L266.5 62L269.7 62.4L272.9 62.8L276.1 63.2L279.4 63.5L282.6 63.9L285.9 64.3L289.1 64.6M135.1 30.6L138 32.6L141 34.5L143.9 36.2L146.8 37.8L149.7 39.3L152.6 40.7L155.6 42.1L158.5 43.3L161.4 44.5L164.4 45.6L167.3 46.6L170.3 47.7L173.3 48.6L176.2 49.5L179.2 50.4L182.2 51.2L185.2 52L188.2 52.8L191.2 53.6L194.2 54.3L197.2 55L200.2 55.6L203.2 56.3L206.3 56.9L209.3 57.5L212.4 58.1L215.4 58.7L218.5 59.2L221.6 59.8L224.7 60.3L227.8 60.9L230.9 61.4L234 61.9L237.1 62.3L240.2 62.8L243.4 63.3L246.5 63.8L249.7 64.2L252.8 64.6L256 65.1L259.2 65.5L262.4 65.9L265.6 66.3L268.8 66.8L272 67.2L275.2 67.6L278.4 67.9L281.7 68.3L284.9 68.7L288.2 69.1M133.9 31.4L136.8 33.7L139.7 35.8L142.7 37.7L145.6 39.5L148.5 41.2L151.5 42.8L154.4 44.2L157.3 45.6L160.3 46.9L163.2 48.1L166.2 49.3L169.2 50.4L172.1 51.5L175.1 52.5L178.1 53.4L181.1 54.3L184.1 55.2L187.1 56.1L190.1 56.9L193.1 57.6L196.1 58.4L199.1 59.1L202.2 59.8L205.2 60.5L208.3 61.2L211.3 61.8L214.4 62.4L217.5 63L220.5 63.6L223.6 64.2L226.7 64.7L229.8 65.3L233 65.8L236.1 66.3L239.2 66.9L242.4 67.3L245.5 67.8L248.7 68.3L251.8 68.8L255 69.2L258.2 69.7L261.4 70.1L264.6 70.6L267.8 71L271 71.4L274.3 71.8L277.5 72.3L280.7 72.7L284 73.1L287.3 73.5M132.6 32.3L135.5 34.8L138.5 37.1L141.4 39.2L144.4 41.2L147.3 43L150.3 44.8L153.2 46.4L156.2 47.9L159.1 49.3L162.1 50.6L165 51.9L168 53.1L171 54.3L174 55.4L177 56.4L180 57.4L183 58.3L186 59.3L189 60.1L192 61L195 61.8L198.1 62.6L201.1 63.3L204.1 64L207.2 64.8L210.3 65.4L213.3 66.1L216.4 66.7L219.5 67.4L222.6 68L225.7 68.6L228.8 69.1L231.9 69.7L235.1 70.3L238.2 70.8L241.4 71.3L244.5 71.8L247.7 72.3L250.8 72.8L254 73.3L257.2 73.8L260.4 74.2L263.6 74.7L266.8 75.1L270.1 75.6L273.3 76L276.6 76.5L279.8 76.9L283.1 77.3L286.3 77.7M131.3 33.1L134.3 35.8L137.2 38.4L140.2 40.7L143.1 42.9L146.1 44.9L149.1 46.7L152 48.5L155 50.1L157.9 51.7L160.9 53.1L163.9 54.5L166.9 55.8L169.8 57L172.8 58.2L175.8 59.3L178.8 60.4L181.8 61.4L184.8 62.4L187.9 63.3L190.9 64.2L193.9 65.1L197 65.9L200 66.7L203.1 67.5L206.1 68.3L209.2 69L212.3 69.7L215.4 70.4L218.5 71L221.6 71.7L224.7 72.3L227.8 72.9L230.9 73.5L234.1 74.1L237.2 74.7L240.4 75.2L243.5 75.7L246.7 76.3L249.9 76.8L253.1 77.3L256.2 77.8L259.5 78.3L262.7 78.7L265.9 79.2L269.1 79.7L272.4 80.1L275.6 80.5L278.9 81L282.1 81.4L285.4 81.8M130 33.9L133 36.9L136 39.6L138.9 42.2L141.9 44.5L144.9 46.7L147.8 48.7L150.8 50.6L153.8 52.3L156.8 54L159.7 55.6L162.7 57L165.7 58.4L168.7 59.8L171.7 61L174.7 62.2L177.7 63.4L180.7 64.5L183.7 65.5L186.8 66.5L189.8 67.5L192.8 68.4L195.9 69.3L198.9 70.1L202 70.9L205.1 71.7L208.1 72.5L211.2 73.2L214.3 74L217.4 74.6L220.5 75.3L223.6 76L226.8 76.6L229.9 77.2L233 77.8L236.2 78.4L239.3 79L242.5 79.6L245.7 80.1L248.9 80.6L252.1 81.2L255.3 81.7L258.5 82.2L261.7 82.7L264.9 83.2L268.2 83.6L271.4 84.1L274.7 84.5L277.9 85L281.2 85.4L284.5 85.9M128.7 34.8L131.7 38L134.7 40.9L137.7 43.6L140.7 46.1L143.6 48.5L146.6 50.6L149.6 52.6L152.6 54.5L155.6 56.3L158.5 58L161.5 59.6L164.5 61.1L167.5 62.5L170.5 63.8L173.5 65.1L176.6 66.3L179.6 67.4L182.6 68.5L185.6 69.6L188.7 70.6L191.7 71.6L194.8 72.5L197.8 73.4L200.9 74.3L204 75.1L207.1 75.9L210.2 76.7L213.3 77.5L216.4 78.2L219.5 78.9L222.6 79.6L225.7 80.2L228.9 80.9L232 81.5L235.2 82.1L238.3 82.7L241.5 83.3L244.7 83.9L247.9 84.4L251.1 85L254.3 85.5L257.5 86L260.7 86.5L264 87L267.2 87.5L270.5 88L273.7 88.5L277 88.9L280.3 89.4L283.6 89.8M127.4 35.6L130.4 39.1L133.4 42.2L136.4 45.1L139.4 47.8L142.4 50.2L145.4 52.6L148.4 54.7L151.4 56.7L154.4 58.6L157.4 60.4L160.4 62L163.4 63.6L166.4 65.1L169.4 66.5L172.4 67.9L175.4 69.2L178.5 70.4L181.5 71.6L184.5 72.7L187.6 73.7L190.6 74.8L193.7 75.7L196.8 76.7L199.8 77.6L202.9 78.5L206 79.3L209.1 80.1L212.2 80.9L215.3 81.7L218.4 82.4L221.6 83.1L224.7 83.8L227.8 84.5L231 85.1L234.2 85.8L237.3 86.4L240.5 87L243.7 87.6L246.9 88.1L250.1 88.7L253.3 89.2L256.5 89.8L259.8 90.3L263 90.8L266.3 91.3L269.5 91.8L272.8 92.3L276.1 92.7L279.4 93.2L282.7 93.6M126.1 36.5L129.1 40.1L132.1 43.5L135.2 46.5L138.2 49.4L141.2 52L144.2 54.5L147.2 56.7L150.2 58.9L153.2 60.9L156.2 62.7L159.2 64.5L162.2 66.2L165.2 67.8L168.2 69.3L171.2 70.7L174.3 72L177.3 73.3L180.4 74.5L183.4 75.7L186.5 76.8L189.5 77.9L192.6 78.9L195.7 79.9L198.7 80.8L201.8 81.8L204.9 82.6L208 83.5L211.1 84.3L214.3 85.1L217.4 85.9L220.5 86.6L223.7 87.3L226.8 88L230 88.7L233.1 89.3L236.3 90L239.5 90.6L242.7 91.2L245.9 91.8L249.1 92.4L252.3 92.9L255.6 93.5L258.8 94L262.1 94.5L265.3 95L268.6 95.5L271.9 96L275.1 96.5L278.4 96.9L281.7 97.4M124.8 37.3L127.8 41.2L130.9 44.7L133.9 48L136.9 51L139.9 53.8L142.9 56.4L145.9 58.8L148.9 61L151.9 63.1L155 65.1L158 66.9L161 68.7L164 70.4L167 71.9L170.1 73.4L173.1 74.8L176.2 76.2L179.2 77.5L182.3 78.7L185.3 79.8L188.4 81L191.5 82L194.5 83.1L197.6 84L200.7 85L203.8 85.9L206.9 86.8L210.1 87.6L213.2 88.5L216.3 89.2L219.5 90L222.6 90.7L225.8 91.5L228.9 92.2L232.1 92.8L235.3 93.5L238.5 94.1L241.7 94.7L244.9 95.4L248.1 95.9L251.3 96.5L254.6 97.1L257.8 97.6L261.1 98.1L264.4 98.7L267.6 99.2L270.9 99.7L274.2 100.1L277.5 100.6L280.8 101.1M123.5 38.2L126.5 42.3L129.6 46L132.6 49.4L135.6 52.6L138.6 55.5L141.7 58.2L144.7 60.8L147.7 63.1L150.7 65.3L153.7 67.4L156.8 69.4L159.8 71.2L162.8 72.9L165.9 74.6L168.9 76.1L172 77.6L175 79L178.1 80.3L181.1 81.6L184.2 82.8L187.3 84L190.4 85.1L193.4 86.2L196.5 87.2L199.6 88.2L202.7 89.1L205.9 90L209 90.9L212.1 91.8L215.3 92.6L218.4 93.4L221.6 94.1L224.7 94.9L227.9 95.6L231.1 96.3L234.3 96.9L237.5 97.6L240.7 98.2L243.9 98.9L247.1 99.4L250.4 100L253.6 100.6L256.9 101.2L260.1 101.7L263.4 102.2L266.7 102.7L270 103.2L273.3 103.7L276.6 104.2L279.9 104.7M122.1 39L125.2 43.3L128.2 47.3L131.3 50.9L134.3 54.2L137.4 57.3L140.4 60.1L143.4 62.8L146.5 65.2L149.5 67.5L152.5 69.7L155.6 71.8L158.6 73.7L161.6 75.5L164.7 77.2L167.7 78.8L170.8 80.3L173.8 81.8L176.9 83.2L180 84.5L183.1 85.8L186.1 87L189.2 88.1L192.3 89.3L195.4 90.3L198.5 91.3L201.7 92.3L204.8 93.2L207.9 94.1L211 95L214.2 95.9L217.3 96.7L220.5 97.5L223.7 98.2L226.9 98.9L230.1 99.7L233.3 100.3L236.5 101L239.7 101.7L242.9 102.3L246.1 102.9L249.4 103.5L252.6 104.1L255.9 104.6L259.2 105.2L262.4 105.7L265.7 106.2L269 106.7L272.3 107.2L275.6 107.7L279 108.2M120.8 39.9L123.8 44.4L126.9 48.5L130 52.3L133 55.8L136.1 59L139.1 62L142.2 64.7L145.2 67.3L148.3 69.7L151.3 72L154.3 74.1L157.4 76.1L160.4 78L163.5 79.8L166.6 81.5L169.6 83.1L172.7 84.6L175.8 86L178.8 87.4L181.9 88.7L185 90L188.1 91.1L191.2 92.3L194.3 93.4L197.4 94.4L200.6 95.4L203.7 96.4L206.8 97.3L210 98.2L213.1 99.1L216.3 99.9L219.5 100.7L222.6 101.5L225.8 102.3L229 103L232.2 103.7L235.4 104.4L238.7 105L241.9 105.7L245.1 106.3L248.4 106.9L251.6 107.5L254.9 108L258.2 108.6L261.5 109.1L264.8 109.7L268.1 110.2L271.4 110.7L274.7 111.2L278.1 111.6M119.4 40.8L122.5 45.5L125.6 49.8L128.7 53.7L131.7 57.3L134.8 60.7L137.9 63.8L140.9 66.7L144 69.4L147 71.9L150.1 74.3L153.1 76.5L156.2 78.5L159.2 80.5L162.3 82.3L165.4 84.1L168.4 85.8L171.5 87.3L174.6 88.8L177.7 90.2L180.8 91.6L183.9 92.9L187 94.1L190.1 95.3L193.2 96.4L196.3 97.5L199.4 98.5L202.6 99.5L205.7 100.5L208.9 101.4L212 102.3L215.2 103.1L218.4 104L221.6 104.7L224.8 105.5L228 106.3L231.2 107L234.4 107.7L237.6 108.3L240.9 109L244.1 109.6L247.4 110.2L250.6 110.8L253.9 111.4L257.2 112L260.5 112.5L263.8 113L267.1 113.5L270.4 114L273.8 114.5L277.1 115M118 41.6L121.1 46.5L124.3 51L127.3 55.1L130.4 58.9L133.5 62.4L136.6 65.6L139.6 68.6L142.7 71.4L145.8 74.1L148.8 76.5L151.9 78.8L155 80.9L158 83L161.1 84.9L164.2 86.7L167.2 88.4L170.3 90L173.4 91.6L176.5 93L179.6 94.4L182.7 95.8L185.8 97L188.9 98.2L192.1 99.4L195.2 100.5L198.3 101.6L201.5 102.6L204.6 103.6L207.8 104.5L211 105.4L214.1 106.3L217.3 107.1L220.5 107.9L223.7 108.7L226.9 109.5L230.1 110.2L233.4 110.9L236.6 111.6L239.9 112.2L243.1 112.9L246.4 113.5L249.7 114.1L252.9 114.7L256.2 115.2L259.5 115.8L262.8 116.3L266.2 116.8L269.5 117.4L272.8 117.8L276.2 118.3M116.7 42.5L119.8 47.6L122.9 52.3L126 56.6L129.1 60.5L132.2 64.1L135.3 67.5L138.3 70.6L141.4 73.5L144.5 76.2L147.6 78.7L150.6 81.1L153.7 83.3L156.8 85.4L159.9 87.4L163 89.3L166 91L169.1 92.7L172.2 94.3L175.3 95.8L178.4 97.3L181.6 98.6L184.7 99.9L187.8 101.2L190.9 102.4L194.1 103.5L197.2 104.6L200.4 105.6L203.5 106.6L206.7 107.6L209.9 108.5L213.1 109.4L216.3 110.3L219.5 111.1L222.7 111.9L225.9 112.6L229.1 113.4L232.3 114.1L235.6 114.8L238.8 115.5L242.1 116.1L245.4 116.7L248.7 117.3L252 117.9L255.3 118.5L258.6 119L261.9 119.6L265.2 120.1L268.6 120.6L271.9 121.1L275.3 121.6M115.3 43.4L118.4 48.7L121.5 53.5L124.7 58L127.8 62.1L130.9 65.8L134 69.3L137.1 72.5L140.1 75.5L143.2 78.3L146.3 80.9L149.4 83.4L152.5 85.7L155.6 87.9L158.7 89.9L161.7 91.8L164.8 93.7L167.9 95.4L171 97L174.2 98.6L177.3 100L180.4 101.4L183.5 102.8L186.6 104.1L189.8 105.3L192.9 106.4L196.1 107.6L199.3 108.6L202.4 109.6L205.6 110.6L208.8 111.6L212 112.5L215.2 113.3L218.4 114.2L221.6 115L224.8 115.8L228.1 116.5L231.3 117.2L234.6 117.9L237.8 118.6L241.1 119.3L244.4 119.9L247.7 120.5L251 121.1L254.3 121.7L257.6 122.2L260.9 122.8L264.3 123.3L267.6 123.8L271 124.3L274.3 124.7M113.9 44.3L117 49.8L120.2 54.8L123.3 59.4L126.4 63.6L129.5 67.5L132.7 71.1L135.8 74.4L138.9 77.5L141.9 80.4L145 83.1L148.1 85.7L151.2 88.1L154.3 90.3L157.4 92.4L160.5 94.4L163.6 96.2L166.7 98L169.9 99.7L173 101.3L176.1 102.8L179.2 104.2L182.4 105.6L185.5 106.9L188.6 108.2L191.8 109.4L195 110.5L198.1 111.6L201.3 112.6L204.5 113.6L207.7 114.6L210.9 115.5L214.1 116.4L217.3 117.2L220.5 118.1L223.8 118.8L227 119.6L230.3 120.3L233.5 121L236.8 121.7L240.1 122.4L243.4 123L246.7 123.6L250 124.2L253.3 124.8L256.6 125.3L260 125.9L263.3 126.4L266.7 126.9L270 127.4L273.4 127.9M112.4 45.1L115.6 50.8L118.8 56L121.9 60.8L125.1 65.2L128.2 69.2L131.3 72.9L134.4 76.4L137.6 79.6L140.7 82.5L143.8 85.3L146.9 87.9L150 90.4L153.1 92.7L156.2 94.8L159.3 96.9L162.4 98.8L165.5 100.6L168.6 102.4L171.8 104L174.9 105.5L178 107L181.2 108.4L184.3 109.7L187.5 111L190.7 112.2L193.8 113.4L197 114.5L200.2 115.6L203.4 116.6L206.6 117.6L209.8 118.5L213 119.4L216.2 120.3L219.5 121.1L222.7 121.9L225.9 122.7L229.2 123.4L232.5 124.1L235.8 124.8L239 125.4L242.3 126.1L245.6 126.7L249 127.3L252.3 127.9L255.6 128.4L259 129L262.3 129.5L265.7 130L269.1 130.5L272.5 130.9M111 46L114.2 51.9L117.4 57.3L120.6 62.2L123.7 66.7L126.9 70.9L130 74.7L133.1 78.3L136.2 81.6L139.4 84.6L142.5 87.5L145.6 90.2L148.7 92.7L151.8 95.1L154.9 97.3L158.1 99.4L161.2 101.4L164.3 103.2L167.4 105L170.6 106.7L173.7 108.2L176.9 109.8L180 111.2L183.2 112.5L186.3 113.8L189.5 115.1L192.7 116.3L195.9 117.4L199.1 118.5L202.3 119.5L205.5 120.5L208.7 121.5L211.9 122.4L215.1 123.2L218.4 124.1L221.6 124.9L224.9 125.7L228.2 126.4L231.4 127.1L234.7 127.8L238 128.5L241.3 129.1L244.6 129.7L248 130.3L251.3 130.9L254.6 131.5L258 132L261.4 132.5L264.7 133L268.1 133.5L271.5 134M109.6 46.9L112.8 53L116 58.5L119.2 63.6L122.4 68.3L125.5 72.5L128.7 76.5L131.8 80.2L134.9 83.6L138.1 86.7L141.2 89.7L144.3 92.4L147.4 95L150.6 97.4L153.7 99.7L156.8 101.9L159.9 103.9L163.1 105.8L166.2 107.6L169.4 109.3L172.5 110.9L175.7 112.5L178.8 113.9L182 115.3L185.2 116.6L188.3 117.9L191.5 119.1L194.7 120.3L197.9 121.4L201.1 122.4L204.3 123.4L207.6 124.4L210.8 125.3L214 126.2L217.3 127L220.6 127.8L223.8 128.6L227.1 129.4L230.4 130.1L233.7 130.8L237 131.5L240.3 132.1L243.6 132.7L247 133.3L250.3 133.9L253.7 134.4L257 135L260.4 135.5L263.8 136L267.2 136.5L270.6 136.9M108.1 47.8L111.4 54.1L114.6 59.8L117.8 65L121 69.8L124.2 74.2L127.3 78.3L130.5 82L133.6 85.5L136.7 88.8L139.9 91.8L143 94.6L146.2 97.3L149.3 99.8L152.4 102.1L155.6 104.3L158.7 106.4L161.8 108.3L165 110.2L168.1 111.9L171.3 113.6L174.5 115.2L177.6 116.7L180.8 118.1L184 119.4L187.2 120.7L190.4 121.9L193.6 123.1L196.8 124.2L200 125.3L203.2 126.3L206.5 127.3L209.7 128.2L212.9 129.1L216.2 129.9L219.5 130.8L222.7 131.6L226 132.3L229.3 133L232.6 133.7L235.9 134.4L239.3 135L242.6 135.7L245.9 136.2L249.3 136.8L252.7 137.4L256 137.9L259.4 138.4L262.8 138.9L266.2 139.4L269.6 139.8M106.7 48.7L110 55.2L113.2 61.1L116.4 66.4L119.6 71.4L122.8 75.9L126 80.1L129.1 83.9L132.3 87.5L135.4 90.8L138.6 94L141.7 96.9L144.9 99.6L148 102.1L151.2 104.5L154.3 106.8L157.5 108.9L160.6 110.9L163.8 112.8L166.9 114.5L170.1 116.2L173.3 117.8L176.4 119.4L179.6 120.8L182.8 122.2L186 123.5L189.2 124.7L192.4 125.9L195.6 127L198.9 128.1L202.1 129.1L205.3 130.1L208.6 131.1L211.8 132L215.1 132.8L218.4 133.7L221.7 134.4L225 135.2L228.3 135.9L231.6 136.6L234.9 137.3L238.2 137.9L241.6 138.6L244.9 139.1L248.3 139.7L251.7 140.3L255 140.8L258.4 141.3L261.8 141.8L265.3 142.2L268.7 142.7M105.2 49.6L108.5 56.3L111.8 62.3L115 67.8L118.2 72.9L121.4 77.6L124.6 81.8L127.8 85.8L130.9 89.5L134.1 92.9L137.3 96.1L140.4 99.1L143.6 101.8L146.7 104.4L149.9 106.9L153 109.2L156.2 111.3L159.4 113.4L162.5 115.3L165.7 117.1L168.9 118.9L172 120.5L175.2 122L178.4 123.5L181.6 124.9L184.8 126.2L188 127.5L191.3 128.7L194.5 129.8L197.7 130.9L201 132L204.2 133L207.5 133.9L210.7 134.8L214 135.7L217.3 136.5L220.6 137.3L223.9 138.1L227.2 138.8L230.5 139.5L233.8 140.2L237.2 140.8L240.5 141.4L243.9 142L247.3 142.6L250.7 143.1L254.1 143.6L257.5 144.1L260.9 144.6L264.3 145.1L267.7 145.5M103.8 50.5L107.1 57.4L110.3 63.6L113.6 69.2L116.8 74.4L120 79.2L123.2 83.6L126.4 87.7L129.6 91.4L132.8 95L135.9 98.2L139.1 101.3L142.3 104.1L145.4 106.8L148.6 109.3L151.8 111.6L154.9 113.8L158.1 115.9L161.3 117.9L164.5 119.7L167.6 121.5L170.8 123.1L174 124.7L177.2 126.2L180.4 127.6L183.6 128.9L186.9 130.2L190.1 131.4L193.3 132.6L196.6 133.7L199.8 134.7L203.1 135.8L206.3 136.7L209.6 137.6L212.9 138.5L216.2 139.3L219.5 140.1L222.8 140.9L226.1 141.6L229.5 142.3L232.8 143L236.1 143.6L239.5 144.2L242.9 144.8L246.3 145.4L249.7 145.9L253.1 146.4L256.5 146.9L259.9 147.4L263.3 147.9L266.8 148.3M102.3 51.4L105.6 58.5L108.9 64.8L112.1 70.7L115.4 76L118.6 80.9L121.8 85.4L125 89.5L128.2 93.4L131.4 97L134.6 100.3L137.8 103.4L140.9 106.3L144.1 109.1L147.3 111.6L150.5 114L153.6 116.3L156.8 118.4L160 120.4L163.2 122.3L166.4 124L169.6 125.7L172.8 127.3L176 128.8L179.2 130.3L182.4 131.6L185.7 132.9L188.9 134.2L192.2 135.3L195.4 136.4L198.7 137.5L201.9 138.5L205.2 139.5L208.5 140.4L211.8 141.3L215.1 142.1L218.4 142.9L221.7 143.7L225 144.4L228.4 145.1L231.7 145.8L235.1 146.4L238.5 147L241.8 147.6L245.2 148.2L248.6 148.7L252.1 149.2L255.5 149.7L258.9 150.2L262.4 150.6L265.8 151M100.8 52.3L104.1 59.6L107.4 66.1L110.7 72.1L114 77.5L117.2 82.5L120.4 87.1L123.6 91.4L126.8 95.4L130 99L133.2 102.4L136.4 105.6L139.6 108.6L142.8 111.3L146 114L149.2 116.4L152.4 118.7L155.6 120.8L158.8 122.9L161.9 124.8L165.2 126.6L168.4 128.3L171.6 129.9L174.8 131.5L178 132.9L181.2 134.3L184.5 135.6L187.7 136.9L191 138.1L194.2 139.2L197.5 140.2L200.8 141.3L204.1 142.2L207.4 143.2L210.7 144L214 144.9L217.3 145.7L220.6 146.5L224 147.2L227.3 147.9L230.7 148.5L234 149.2L237.4 149.8L240.8 150.4L244.2 150.9L247.6 151.4L251 151.9L254.5 152.4L257.9 152.9L261.4 153.3L264.8 153.7M99.3 53.3L102.6 60.7L105.9 67.4L109.2 73.5L112.5 79.1L115.8 84.2L119 88.9L122.2 93.3L125.5 97.3L128.7 101.1L131.9 104.5L135.1 107.8L138.3 110.8L141.5 113.6L144.7 116.3L147.9 118.8L151.1 121.1L154.3 123.3L157.5 125.4L160.7 127.3L163.9 129.2L167.1 130.9L170.3 132.5L173.6 134.1L176.8 135.6L180 137L183.3 138.3L186.5 139.6L189.8 140.7L193.1 141.9L196.3 143L199.6 144L202.9 145L206.2 145.9L209.5 146.8L212.8 147.6L216.2 148.4L219.5 149.2L222.9 149.9L226.2 150.6L229.6 151.3L233 151.9L236.4 152.5L239.8 153.1L243.2 153.6L246.6 154.1L250 154.6L253.5 155.1L256.9 155.5L260.4 156L263.9 156.4M97.7 54.2L101.1 61.8L104.5 68.6L107.8 74.9L111.1 80.6L114.3 85.8L117.6 90.7L120.8 95.1L124.1 99.3L127.3 103.1L130.5 106.6L133.7 109.9L136.9 113L140.1 115.9L143.4 118.6L146.6 121.1L149.8 123.5L153 125.7L156.2 127.8L159.4 129.8L162.6 131.7L165.9 133.5L169.1 135.1L172.3 136.7L175.6 138.2L178.8 139.6L182.1 140.9L185.3 142.2L188.6 143.4L191.9 144.6L195.2 145.7L198.5 146.7L201.8 147.7L205.1 148.6L208.4 149.5L211.7 150.3L215.1 151.1L218.4 151.9L221.8 152.6L225.1 153.3L228.5 154L231.9 154.6L235.3 155.2L238.7 155.8L242.1 156.3L245.6 156.8L249 157.3L252.5 157.8L255.9 158.2L259.4 158.6L262.9 159M96.2 55.1L99.6 62.9L103 69.9L106.3 76.3L109.6 82.1L112.9 87.5L116.2 92.4L119.4 97L122.7 101.2L125.9 105.1L129.1 108.7L132.4 112.1L135.6 115.2L138.8 118.2L142 120.9L145.2 123.5L148.5 125.9L151.7 128.2L154.9 130.3L158.1 132.3L161.4 134.2L164.6 136L167.8 137.7L171.1 139.3L174.3 140.8L177.6 142.2L180.9 143.6L184.1 144.9L187.4 146.1L190.7 147.2L194 148.3L197.3 149.4L200.6 150.3L203.9 151.3L207.3 152.2L210.6 153L213.9 153.8L217.3 154.6L220.7 155.3L224 156L227.4 156.6L230.8 157.3L234.2 157.8L237.7 158.4L241.1 158.9L244.5 159.4L248 159.9L251.5 160.4L254.9 160.8L258.4 161.2L261.9 161.6M94.7 56.1L98.1 64L101.5 71.2L104.8 77.7L108.1 83.7L111.4 89.2L114.7 94.2L118 98.8L121.3 103.1L124.5 107.1L127.8 110.8L131 114.2L134.2 117.4L137.5 120.4L140.7 123.2L143.9 125.8L147.1 128.3L150.4 130.6L153.6 132.8L156.8 134.8L160.1 136.7L163.3 138.5L166.6 140.2L169.8 141.9L173.1 143.4L176.4 144.8L179.6 146.2L182.9 147.5L186.2 148.7L189.5 149.9L192.8 151L196.1 152L199.4 153L202.8 153.9L206.1 154.8L209.5 155.7L212.8 156.5L216.2 157.2L219.6 158L222.9 158.6L226.3 159.3L229.7 159.9L233.2 160.5L236.6 161L240 161.6L243.5 162L247 162.5L250.4 163L253.9 163.4L257.4 163.8L260.9 164.1M93.1 57L96.5 65.1L99.9 72.5L103.3 79.1L106.7 85.2L110 90.8L113.3 96L116.6 100.7L119.8 105.1L123.1 109.1L126.4 112.9L129.6 116.4L132.8 119.6L136.1 122.7L139.3 125.5L142.6 128.2L145.8 130.7L149.1 133L152.3 135.2L155.5 137.3L158.8 139.2L162 141.1L165.3 142.8L168.6 144.4L171.8 146L175.1 147.4L178.4 148.8L181.7 150.1L185 151.3L188.3 152.5L191.6 153.6L194.9 154.6L198.3 155.6L201.6 156.6L204.9 157.5L208.3 158.3L211.7 159.1L215 159.9L218.4 160.6L221.8 161.3L225.2 161.9L228.7 162.5L232.1 163.1L235.5 163.6L239 164.1L242.4 164.6L245.9 165.1L249.4 165.5L252.9 165.9L256.4 166.3L259.9 166.7M91.5 58L95 66.2L98.4 73.7L101.8 80.6L105.2 86.8L108.5 92.5L111.8 97.7L115.1 102.5L118.4 107L121.7 111.1L124.9 115L128.2 118.5L131.5 121.8L134.7 124.9L138 127.8L141.2 130.5L144.5 133L147.7 135.4L151 137.6L154.2 139.7L157.5 141.7L160.8 143.6L164 145.3L167.3 147L170.6 148.5L173.9 150L177.2 151.4L180.5 152.7L183.8 153.9L187.1 155.1L190.4 156.2L193.7 157.3L197.1 158.3L200.4 159.2L203.8 160.1L207.1 160.9L210.5 161.7L213.9 162.5L217.3 163.2L220.7 163.9L224.1 164.5L227.6 165.1L231 165.7L234.5 166.2L237.9 166.7L241.4 167.2L244.9 167.6L248.4 168L251.9 168.4L255.4 168.8L258.9 169.1M90 58.9L93.4 67.4L96.9 75L100.3 82L103.7 88.3L107 94.1L110.3 99.5L113.7 104.4L117 108.9L120.3 113.1L123.5 117L126.8 120.6L130.1 124L133.3 127.2L136.6 130.1L139.9 132.8L143.1 135.4L146.4 137.8L149.6 140.1L152.9 142.2L156.2 144.2L159.5 146.1L162.7 147.8L166 149.5L169.3 151.1L172.6 152.5L175.9 153.9L179.2 155.3L182.5 156.5L185.9 157.7L189.2 158.8L192.5 159.9L195.9 160.9L199.2 161.8L202.6 162.7L206 163.5L209.4 164.3L212.8 165.1L216.2 165.8L219.6 166.4L223 167.1L226.5 167.7L229.9 168.2L233.4 168.7L236.9 169.2L240.3 169.7L243.8 170.1L247.3 170.5L250.9 170.9L254.4 171.3L257.9 171.6M88.4 59.9L91.9 68.5L95.3 76.3L98.8 83.4L102.1 89.9L105.5 95.8L108.9 101.2L112.2 106.2L115.5 110.9L118.8 115.1L122.1 119.1L125.4 122.8L128.7 126.2L131.9 129.4L135.2 132.4L138.5 135.2L141.8 137.8L145 140.2L148.3 142.5L151.6 144.6L154.9 146.7L158.2 148.5L161.4 150.3L164.7 152L168 153.6L171.3 155.1L174.7 156.5L178 157.8L181.3 159.1L184.6 160.3L188 161.4L191.3 162.4L194.7 163.4L198.1 164.4L201.4 165.3L204.8 166.1L208.2 166.9L211.6 167.6L215 168.3L218.5 169L221.9 169.6L225.4 170.2L228.8 170.7L232.3 171.3L235.8 171.7L239.3 172.2L242.8 172.6L246.3 173L249.8 173.4L253.4 173.7L256.9 174M86.8 60.8L90.3 69.6L93.8 77.6L97.2 84.8L100.6 91.4L104 97.5L107.4 103L110.7 108.1L114 112.8L117.4 117.1L120.7 121.2L124 124.9L127.3 128.4L130.5 131.6L133.8 134.6L137.1 137.5L140.4 140.1L143.7 142.6L147 144.9L150.3 147.1L153.5 149.1L156.8 151L160.1 152.8L163.4 154.5L166.7 156.1L170.1 157.6L173.4 159L176.7 160.4L180 161.6L183.4 162.8L186.7 163.9L190.1 165L193.5 166L196.9 166.9L200.2 167.8L203.6 168.7L207 169.4L210.5 170.2L213.9 170.9L217.3 171.5L220.8 172.1L224.2 172.7L227.7 173.2L231.2 173.8L234.7 174.2L238.2 174.7L241.7 175.1L245.3 175.5L248.8 175.8L252.3 176.1L255.9 176.4M85.1 61.8L88.7 70.8L92.2 78.9L95.7 86.3L99.1 93L102.5 99.1L105.9 104.8L109.2 109.9L112.6 114.7L115.9 119.1L119.2 123.2L122.5 127L125.8 130.6L129.1 133.8L132.4 136.9L135.7 139.8L139 142.4L142.3 144.9L145.6 147.3L148.9 149.5L152.2 151.6L155.5 153.5L158.8 155.3L162.1 157L165.5 158.6L168.8 160.1L172.1 161.6L175.4 162.9L178.8 164.2L182.1 165.4L185.5 166.5L188.9 167.6L192.3 168.5L195.6 169.5L199 170.4L202.5 171.2L205.9 172L209.3 172.7L212.7 173.4L216.2 174L219.6 174.6L223.1 175.2L226.6 175.7L230.1 176.2L233.6 176.7L237.1 177.1L240.7 177.5L244.2 177.9L247.8 178.2L251.3 178.5L254.9 178.8M83.5 62.8L87.1 71.9L90.6 80.2L94.1 87.7L97.5 94.5L101 100.8L104.4 106.5L107.7 111.8L111.1 116.7L114.4 121.1L117.8 125.3L121.1 129.2L124.4 132.7L127.7 136.1L131 139.2L134.3 142.1L137.6 144.8L140.9 147.3L144.2 149.7L147.6 151.9L150.9 154L154.2 155.9L157.5 157.8L160.8 159.5L164.1 161.1L167.5 162.7L170.8 164.1L174.2 165.4L177.5 166.7L180.9 167.9L184.3 169L187.6 170.1L191 171.1L194.4 172L197.8 172.9L201.3 173.7L204.7 174.5L208.1 175.2L211.6 175.9L215 176.5L218.5 177.1L222 177.7L225.5 178.2L229 178.7L232.5 179.1L236 179.5L239.6 179.9L243.1 180.3L246.7 180.6L250.3 180.9L253.9 181.2M81.9 63.8L85.5 73.1L89 81.5L92.5 89.1L96 96.1L99.4 102.5L102.8 108.3L106.2 113.7L109.6 118.6L112.9 123.2L116.3 127.4L119.6 131.3L123 134.9L126.3 138.3L129.6 141.4L132.9 144.4L136.2 147.1L139.6 149.7L142.9 152.1L146.2 154.3L149.5 156.4L152.8 158.4L156.2 160.3L159.5 162L162.8 163.6L166.2 165.2L169.5 166.6L172.9 168L176.3 169.2L179.6 170.4L183 171.6L186.4 172.6L189.8 173.6L193.2 174.5L196.6 175.4L200.1 176.2L203.5 177L206.9 177.7L210.4 178.4L213.9 179L217.4 179.6L220.9 180.1L224.4 180.6L227.9 181.1L231.4 181.5L234.9 181.9L238.5 182.3L242.1 182.6L245.6 183L249.2 183.2L252.8 183.5M80.2 64.8L83.8 74.3L87.4 82.8L90.9 90.6L94.4 97.7L97.9 104.1L101.3 110.1L104.7 115.5L108.1 120.5L111.5 125.2L114.8 129.4L118.2 133.4L121.5 137.1L124.8 140.5L128.2 143.7L131.5 146.7L134.8 149.4L138.2 152L141.5 154.5L144.8 156.7L148.1 158.9L151.5 160.8L154.8 162.7L158.2 164.5L161.5 166.1L164.9 167.6L168.2 169.1L171.6 170.5L175 171.7L178.4 172.9L181.8 174.1L185.2 175.1L188.6 176.1L192 177L195.4 177.9L198.9 178.7L202.3 179.5L205.8 180.2L209.2 180.9L212.7 181.5L216.2 182L219.7 182.6L223.2 183.1L226.8 183.5L230.3 183.9L233.8 184.3L237.4 184.7L241 185L244.6 185.3L248.2 185.6L251.8 185.8M78.5 65.8L82.2 75.4L85.8 84.1L89.3 92L92.8 99.2L96.3 105.8L99.7 111.8L103.2 117.4L106.6 122.5L110 127.2L113.3 131.5L116.7 135.5L120 139.3L123.4 142.7L126.7 146L130.1 149L133.4 151.8L136.8 154.4L140.1 156.8L143.4 159.1L146.8 161.3L150.1 163.3L153.5 165.2L156.8 166.9L160.2 168.6L163.5 170.1L166.9 171.6L170.3 173L173.7 174.2L177.1 175.4L180.5 176.6L183.9 177.6L187.3 178.6L190.7 179.5L194.2 180.4L197.6 181.2L201.1 181.9L204.6 182.7L208 183.3L211.5 183.9L215 184.5L218.6 185L222.1 185.5L225.6 185.9L229.2 186.3L232.7 186.7L236.3 187L239.9 187.3L243.5 187.6L247.1 187.8L250.8 188.1M76.9 66.8L80.5 76.6L84.1 85.5L87.7 93.5L91.2 100.8L94.7 107.5L98.2 113.6L101.6 119.2L105 124.4L108.4 129.2L111.8 133.6L115.2 137.6L118.6 141.4L121.9 144.9L125.3 148.2L128.6 151.3L132 154.1L135.3 156.7L138.7 159.2L142 161.5L145.4 163.7L148.7 165.7L152.1 167.6L155.5 169.4L158.8 171L162.2 172.6L165.6 174.1L169 175.4L172.4 176.7L175.8 177.9L179.2 179L182.6 180.1L186.1 181.1L189.5 182L192.9 182.9L196.4 183.7L199.9 184.4L203.4 185.1L206.9 185.7L210.4 186.3L213.9 186.9L217.4 187.4L220.9 187.9L224.5 188.3L228 188.7L231.6 189L235.2 189.4L238.8 189.6L242.4 189.9L246.1 190.1L249.7 190.3M75.2 67.8L78.9 77.8L82.5 86.8L86.1 95L89.6 102.4L93.1 109.2L96.6 115.4L100.1 121.1L103.5 126.3L106.9 131.2L110.3 135.6L113.7 139.8L117.1 143.6L120.5 147.2L123.8 150.5L127.2 153.5L130.5 156.4L133.9 159.1L137.3 161.6L140.6 163.9L144 166.1L147.4 168.1L150.7 170L154.1 171.8L157.5 173.5L160.9 175.1L164.3 176.5L167.7 177.9L171.1 179.2L174.5 180.4L177.9 181.5L181.3 182.6L184.8 183.6L188.2 184.5L191.7 185.3L195.2 186.1L198.7 186.9L202.1 187.5L205.6 188.2L209.2 188.8L212.7 189.3L216.2 189.8L219.8 190.2L223.3 190.7L226.9 191L230.5 191.4L234.1 191.7L237.7 191.9L241.3 192.2L245 192.4L248.6 192.6M73.4 68.8L77.2 79L80.8 88.1L84.4 96.4L88 104L91.5 110.9L95 117.2L98.5 123L101.9 128.3L105.4 133.2L108.8 137.7L112.2 141.9L115.6 145.8L119 149.4L122.3 152.7L125.7 155.8L129.1 158.7L132.5 161.4L135.8 164L139.2 166.3L142.6 168.5L146 170.6L149.4 172.5L152.7 174.3L156.1 176L159.5 177.5L162.9 179L166.3 180.4L169.8 181.7L173.2 182.9L176.6 184L180.1 185L183.5 186L187 186.9L190.4 187.8L193.9 188.6L197.4 189.3L200.9 190L204.4 190.6L208 191.2L211.5 191.7L215.1 192.2L218.6 192.6L222.2 193L225.8 193.4L229.4 193.7L233 194L236.6 194.2L240.3 194.4L243.9 194.6L247.6 194.8M71.7 69.8L75.5 80.2L79.1 89.5L82.8 97.9L86.4 105.6L89.9 112.6L93.4 119L96.9 124.8L100.4 130.2L103.8 135.2L107.2 139.8L110.7 144L114.1 147.9L117.5 151.6L120.9 155L124.3 158.1L127.6 161L131 163.8L134.4 166.3L137.8 168.7L141.2 170.9L144.6 173L148 174.9L151.4 176.7L154.8 178.4L158.2 180L161.6 181.5L165 182.8L168.4 184.1L171.9 185.3L175.3 186.5L178.8 187.5L182.2 188.5L185.7 189.4L189.2 190.2L192.7 191L196.2 191.7L199.7 192.4L203.2 193L206.8 193.5L210.3 194.1L213.9 194.5L217.4 194.9L221 195.3L224.6 195.7L228.2 196L231.9 196.2L235.5 196.5L239.2 196.7L242.8 196.8L246.5 197M70 70.9L73.8 81.4L77.5 90.8L81.1 99.4L84.7 107.2L88.3 114.3L91.8 120.8L95.3 126.7L98.8 132.2L102.3 137.2L105.7 141.8L109.1 146.1L112.6 150.1L116 153.8L119.4 157.2L122.8 160.4L126.2 163.4L129.6 166.1L133 168.7L136.4 171.1L139.8 173.3L143.2 175.4L146.6 177.3L150 179.2L153.4 180.9L156.8 182.4L160.2 183.9L163.7 185.3L167.1 186.6L170.5 187.8L174 188.9L177.5 189.9L180.9 190.9L184.4 191.8L187.9 192.6L191.4 193.4L194.9 194.1L198.5 194.8L202 195.4L205.5 195.9L209.1 196.4L212.7 196.9L216.3 197.3L219.9 197.6L223.5 198L227.1 198.3L230.7 198.5L234.4 198.7L238 198.9L241.7 199L245.4 199.2"/></g>
<path class="k" d="M76.4 203.2L68.5 41.4M76.4 203.2L244.6 229.5M244.6 229.5L288.3 162.5M108 208.1L106.2 209.9M140.6 213.2L138.8 215M174.2 218.5L172.6 220.3M208.8 223.9L207.4 225.8M244.6 229.5L243.3 231.4M280.8 174L284.3 174.4M272.8 186.3L276.3 186.8M264.1 199.6L267.8 200.1M254.8 213.9L258.6 214.5M244.6 229.5L248.6 230.1M76.4 203.2h-3M75.5 184.2h-3M74.6 164.8h-3M73.6 145.1h-3M72.6 125.1h-3M71.6 104.7h-3M70.6 84h-3M69.6 62.9h-3M68.5 41.4h-3"/>
<path class="g" d="M177.1 430.3L113.3 490.7M177.1 430.3L176.3 291.8M205.2 433.7L146.1 495.7M205.2 433.7L206 293.5M234.1 437.2L179.9 500.9M234.1 437.2L236.4 295.2M263.7 440.8L214.9 506.3M263.7 440.8L267.8 297M137.9 437.2L286.8 456M137.9 437.2L135 296M125.3 448L278.8 468.4M125.3 448L121.5 302.2M111.7 459.7L270.3 481.8M111.7 459.7L107 308.9M97.2 472.3L261 496.2M97.2 472.3L91.4 316.2M80.4 460.2L149.3 405.2M149.3 405.2L295.1 421.3M79.2 434.1L149 382.9M149 382.9L296 397.7M78.1 407.4L148.6 360.3M148.6 360.3L297 373.7M76.9 380.2L148.2 337.4M148.2 337.4L298 349.2M75.7 352.5L147.9 314M147.9 314L299 324.2"/>
<path class="k" d="M81.5 485.8L149.7 427M149.7 427L294.1 444.5M149.7 427L147.5 290.2M74.4 324.1L147.5 290.2M147.5 290.2L300 298.8M294.1 444.5L300 298.8"/>
<path class="sf" d="M100.1 335.2L98.5 336L96.9 336.7L95.3 337.4L93.7 338.1L92.1 338.8L90.5 339.5L90.3 339.6L88.7 340.2L87 340.8L85.3 341.4L83.6 341.9L81.8 342.5L81.8 342.5L81.8 342.5L78.6 344.1L78.6 344.1L78.6 344.1L78.6 344.1L75.4 346.9L75.4 346.9L75.4 346.9L75.4 346.9L75.4 346.9L75.4 346.9L75.4 346.9L75.4 346.9L75.4 346.9L75.4 346.9L75.4 347L75.4 347L75.4 347L75.4 347L75.4 347L75.4 347L75.4 347L75.4 347L75.4 347L75.4 347L75.4 347L75.4 347L75.4 347L75.4 347L75.4 347L75.4 347L75.4 347L75.4 347L75.4 347L75.4 347L77.2 346.3L77.2 346.3L78.9 345.6L78.9 345.6L80.6 344.8L80.6 344.8L82.4 344.1L82.4 344.1L84 343.4L84 343.4L85.7 342.6L85.7 342.6L87.4 341.8L87.4 341.8L88.9 341.1L91.8 341L95.1 341.2L98.5 341.5L101.9 342.1L105.3 342.8L108.7 343.6L112.1 344.6L115.6 345.8L119.1 347L122.5 348.4L126 349.9L129.5 351.5L133 353.3L136.5 355.1L140.1 357L143.6 359.1L147.1 361.3L150.7 363.5L154.3 365.9L157.8 368.4L161.4 370.9L165 373.6L168.6 376.4L172.2 379.3L175.8 382.3L179.4 385.3L183 388.5L186.6 391.8L190.2 395.2L193.9 398.6L197.5 402.2L201.1 405.9L204.8 409.6L208.4 413.5L212 417.5L215.7 421.5L219.3 425.7L222.9 429.9L226.6 434.3L230.2 438.7L233.9 443.2L237.5 447.8L241.1 452.5L244.8 457.3L248.4 462.2L252 467.2L252 467.2L252 467.2L252 467.2L252.1 467.2L252.1 467.2L252.1 467.2L252.1 467.2L252.1 467.2L252.1 467.2L252.1 467.2L252.1 467.2L253.1 467.1L253.1 467.1L254.1 467L254.1 467L255.1 466.8L255.1 466.8L256.1 466.6L256.1 466.6L257.1 466.4L257.1 466.4L258.1 466.2L258.1 466.2L259.1 466L259.1 466L260 465.7L260 465.7L261 465.4L261 465.4L261.9 465.1L261.9 465.1L262.9 464.7L262.9 464.7L263.8 464.3L263.8 464.3L264.7 463.9L264.7 463.9L265.6 463.4L265.6 463.4L266.6 462.8L266.6 462.8L267.5 462.3L267.5 462.2L268.4 461.6L268.4 461.6L269.3 460.9L269.3 460.9L270.2 460.1L270.2 460.1L271 459.2L271 459.2L271.9 458.2L271.9 458.2L272.8 457.2L272.8 457.2L273.7 456L273.7 456L274.5 454.7L274.5 454.7L275.4 453.3L275.4 453.3L276.3 451.8L276.3 451.8L277.1 450.1L277.1 450.1L278 448.3L278 448.3L278.9 446.3L278.9 446.3L279.7 444.1L279.7 444.1L280.6 441.7L280.6 441.7L281.5 439.1L281.5 439.1L282.3 436.3L282.3 436.3L283.2 433.3L283.2 433.3L284.1 430L284.1 430L285 426.4L285 426.4L285.9 422.6L285.9 422.6L286.8 418.4L286.8 418.4L287.7 413.9L287.7 413.9L288.6 409L288.6 409L289.5 403.7L289.5 403.7L290.4 398.1L290.4 398.1L291.4 392L291.4 392L292.4 385.4L292.4 385.4L293.4 378.4L293.4 378.4L294.4 370.8L294.4 370.8L295.4 362.7L295.4 362.7L296.4 354L296.4 354L297.5 344.6L297.5 344.6L298.6 334.5L298.6 334.5L298.6 334.5L298.6 334.5L298.6 334.5L298.6 334.5L298.6 334.5L298.6 334.5L298.6 334.5L298.6 334.5L298.6 334.5L298.6 334.5L298.6 334.5L298.6 334.5L298.6 334.5L298.6 334.5L295.4 333.9L295.4 333.9L292.2 333.3L292.2 333.3L289 332.7L289 332.7L285.8 332.2L285.8 332.2L282.6 331.6L282.6 331.6L279.4 331.1L279.4 331.1L276.3 330.6L276.3 330.6L273.1 330L273.1 330L270 329.5L270 329.5L266.9 329L266.9 329L263.7 328.5L263.7 328.5L260.6 328L260.6 328L257.5 327.5L257.5 327.5L254.4 327L254.4 327L251.3 326.5L251.3 326.5L248.2 326L248.2 326L245.1 325.6L245.1 325.6L242.1 325.1L242.1 325.1L239 324.7L239 324.7L236 324.2L236 324.2L232.9 323.8L232.9 323.8L229.9 323.3L229.9 323.3L226.8 322.9L226.8 322.9L223.8 322.5L223.8 322.5L220.8 322.1L220.8 322.1L217.8 321.7L217.8 321.7L214.8 321.3L214.8 321.3L211.8 320.9L211.8 320.9L208.8 320.5L208.8 320.5L205.8 320.1L205.8 320.1L202.9 319.7L202.9 319.7L199.9 319.4L199.9 319.4L196.9 319L196.9 319L194 318.6L194 318.6L191.1 318.3L191.1 318.3L188.1 317.9L188.1 317.9L185.2 317.6L185.2 317.6L182.3 317.3L182.3 317.3L179.4 317L179.4 317L176.5 316.6L176.5 316.6L173.6 316.3L173.6 316.3L170.7 316L170.7 316L167.8 315.7L167.8 315.7L164.9 315.5L164.9 315.5L162.1 315.2L162.1 315.2L159.2 314.9L159.2 314.9L156.4 314.6L156.4 314.6L153.5 314.4L153.5 314.4L150.7 314.1L150.7 314.1L147.9 313.9L147.9 313.9L147.9 313.9L147.9 313.9L147.9 313.9L147.9 313.9L147.8 313.9L146.6 314.5L145.4 315.1L144.2 315.7L143 316.3L141.8 316.9L140.5 317.4L139.3 317.9L138 318.5L136.7 319L135.4 319.6L134.1 320.1L132.8 320.7L131.5 321.2L130.2 321.8L130.2 321.8L128.9 322.3L128.9 322.3L127.6 322.9L127.6 322.9L126.2 323.5L126.2 323.5L124.8 324L124.8 324L123.5 324.6L123.5 324.6L122.1 325.2L122.1 325.2L120.7 325.9L120.7 325.9L119.3 326.5L119.3 326.5L117.9 327.1L117.9 327.1L116.5 327.8L116.5 327.8L115.5 328.2L115.2 328.4L115.2 328.4L113.7 329L113.7 329L112.3 329.6L112.3 329.6L110.8 330.3L110.8 330.3L109.3 331L109.3 331L107.8 331.7L107.8 331.7L106.3 332.4L106.3 332.4L104.7 333.1L104.7 333.1L103.2 333.8L101.7 334.5L100.1 335.2Z"/>
<g filter="url(#dk)"><path class="m" style="stroke-width:0.920" d="M147.9 314L146.7 314.6L145.5 315.2L144.2 315.8L143 316.3L141.8 316.9M150.7 314.2L149.5 314.8L148.3 315.4L147.1 316L145.9 316.5L144.6 317.1M153.5 314.4L152.3 315.1L151.2 315.7L149.9 316.3L148.7 316.8L147.5 317.4L146.3 317.8M156.4 314.7L155.2 315.4L154 316.1L152.8 316.7L151.6 317.2L150.4 317.8L149.2 318.2L148 318.7L146.7 319.1M159.2 314.9L158 315.7L156.9 316.4L155.7 317.1L154.5 317.7L153.3 318.2L152.1 318.7L150.9 319.2L149.6 319.6L148.4 320.1L147.1 320.5L145.9 320.8M162.1 315.2L160.9 316.1L159.7 316.8L158.6 317.5L157.4 318.2L156.2 318.7L155 319.3L153.8 319.8L152.6 320.2L151.3 320.6L150.1 321L148.8 321.4L147.6 321.8L146.3 322.2L145 322.5L143.7 322.9L142.5 323.2L141.1 323.6L139.8 323.9L138.5 324.3L137.2 324.7L135.8 325.1L134.5 325.5L133.1 325.9L131.7 326.4L130.3 326.8L128.9 327.3L127.5 327.8L126.1 328.3L124.7 328.8L123.2 329.4L121.8 329.9L120.3 330.5L118.8 331.1L117.3 331.7L115.8 332.3L114.3 333L112.8 333.6L111.3 334.2L109.7 334.8L108.2 335.5M164.9 315.5L163.8 316.4L162.6 317.3L161.5 318L160.3 318.7L159.1 319.3L157.9 319.9L156.7 320.4L155.5 320.9L154.3 321.3L153 321.7L151.8 322.1L150.6 322.5L149.3 322.9L148 323.2L146.8 323.6L145.5 323.9L144.2 324.2L142.9 324.6L141.5 325L140.2 325.3L138.9 325.7L137.5 326.1L136.2 326.5L134.8 326.9L133.4 327.4L132 327.8L130.6 328.3L129.2 328.8L127.8 329.3L126.4 329.8L124.9 330.4L123.5 330.9L122 331.5L120.5 332.1L119 332.7L117.5 333.3L116 333.9L114.5 334.5L113 335.1L111.4 335.7L109.8 336.3L108.3 337L106.7 337.6L105.1 338.1L103.4 338.7M167.8 315.8L166.7 316.8L165.5 317.7L164.4 318.5L163.2 319.3L162 319.9L160.8 320.5L159.6 321.1L158.4 321.6L157.2 322.1L156 322.5L154.8 322.9L153.5 323.3L152.3 323.7L151 324L149.8 324.4L148.5 324.7L147.2 325L145.9 325.4L144.6 325.7L143.3 326.1L141.9 326.4L140.6 326.8L139.3 327.2L137.9 327.6L136.5 328L135.2 328.5L133.8 328.9L132.4 329.4L131 329.9L129.5 330.4L128.1 330.9L126.6 331.5L125.2 332L123.7 332.6L122.2 333.2L120.8 333.8L119.3 334.4L117.7 335L116.2 335.6L114.7 336.2L113.1 336.8L111.5 337.4L110 338L108.4 338.5L106.8 339.1L105.1 339.6L103.5 340.1L101.8 340.6M170.7 316.1L169.6 317.2L168.4 318.2L167.3 319L166.1 319.9L164.9 320.6L163.8 321.2L162.6 321.8L161.4 322.4L160.2 322.9L159 323.3L157.8 323.8L156.5 324.2L155.3 324.5L154 324.9L152.8 325.3L151.5 325.6L150.2 325.9L149 326.3L147.7 326.6L146.3 327L145 327.3L143.7 327.7L142.4 328.1L141 328.5L139.7 328.9L138.3 329.3L136.9 329.7L135.5 330.2L134.1 330.7L132.7 331.2L131.3 331.7L129.8 332.2L128.4 332.7L126.9 333.3L125.5 333.9L124 334.4L122.5 335L121 335.6L119.5 336.2L117.9 336.8L116.4 337.4L114.8 338L113.3 338.5L111.7 339.1L110.1 339.7L108.5 340.2L106.9 340.7L105.2 341.2L103.6 341.6L101.9 342M173.6 316.4L172.4 317.6L171.3 318.6L170.2 319.6L169 320.5L167.9 321.3L166.7 322L165.5 322.6L164.4 323.2L163.2 323.7L162 324.2L160.8 324.7L159.5 325.1L158.3 325.5L157.1 325.9L155.8 326.2L154.6 326.6L153.3 326.9L152 327.3L150.7 327.6L149.4 328L148.1 328.3L146.8 328.7L145.5 329.1L144.1 329.4L142.8 329.8L141.4 330.2L140.1 330.7L138.7 331.1L137.3 331.6L135.9 332.1L134.5 332.6L133 333.1L131.6 333.6L130.2 334.1L128.7 334.7L127.2 335.2L125.8 335.8L124.3 336.4L122.8 337L121.2 337.6L119.7 338.1L118.2 338.7L116.6 339.3L115 339.8L113.4 340.4L111.8 340.9L110.2 341.4L108.6 341.9L107 342.3L105.3 342.7M176.5 316.7L175.4 318L174.2 319.1L173.1 320.2L172 321.1L170.8 322L169.7 322.8L168.5 323.5L167.3 324.1L166.1 324.7L164.9 325.2L163.7 325.7L162.5 326.1L161.3 326.6L160.1 327L158.9 327.3L157.6 327.7L156.3 328L155.1 328.4L153.8 328.7L152.5 329.1L151.2 329.4L149.9 329.8L148.6 330.1L147.3 330.5L145.9 330.9L144.6 331.3L143.2 331.7L141.9 332.2L140.5 332.6L139.1 333.1L137.7 333.6L136.3 334.1L134.8 334.6L133.4 335.1L132 335.6L130.5 336.2L129 336.8L127.5 337.3L126.1 337.9L124.5 338.5L123 339L121.5 339.6L119.9 340.2L118.4 340.7L116.8 341.3L115.2 341.8L113.6 342.3L112 342.7L110.4 343.2L108.7 343.6M179.4 317L178.3 318.4L177.1 319.7L176 320.8L174.9 321.8L173.8 322.8L172.6 323.6L171.5 324.4L170.3 325L169.1 325.7L167.9 326.2L166.8 326.8L165.6 327.2L164.3 327.7L163.1 328.1L161.9 328.5L160.7 328.9L159.4 329.2L158.2 329.6L156.9 329.9L155.6 330.3L154.3 330.6L153 331L151.7 331.4L150.4 331.7L149.1 332.1L147.7 332.5L146.4 332.9L145 333.3L143.7 333.8L142.3 334.2L140.9 334.7L139.5 335.2L138.1 335.7L136.7 336.2L135.2 336.7L133.8 337.3L132.3 337.8L130.8 338.4L129.4 338.9L127.9 339.5L126.4 340.1L124.8 340.6L123.3 341.2L121.7 341.7L120.2 342.3L118.6 342.8L117 343.3L115.4 343.7L113.8 344.2L112.2 344.6M182.3 317.3L181.2 318.8L180.1 320.2L179 321.4L177.8 322.6L176.7 323.6L175.6 324.5L174.4 325.3L173.3 326L172.1 326.7L170.9 327.3L169.8 327.9L168.6 328.4L167.4 328.9L166.2 329.3L165 329.7L163.7 330.1L162.5 330.5L161.2 330.9L160 331.2L158.7 331.6L157.4 331.9L156.2 332.3L154.9 332.7L153.6 333L152.2 333.4L150.9 333.8L149.6 334.2L148.2 334.6L146.9 335.1L145.5 335.5L144.1 336L142.7 336.4L141.3 336.9L139.9 337.4L138.5 338L137.1 338.5L135.6 339L134.1 339.6L132.7 340.1L131.2 340.7L129.7 341.2L128.2 341.8L126.7 342.3L125.1 342.9L123.6 343.4L122 343.9L120.4 344.4L118.8 344.9L117.2 345.3L115.6 345.7M185.2 317.7L184.1 319.3L183 320.8L181.9 322.1L180.8 323.3L179.7 324.4L178.5 325.4L177.4 326.3L176.3 327.1L175.1 327.8L174 328.5L172.8 329.1L171.6 329.6L170.4 330.2L169.2 330.6L168 331.1L166.8 331.5L165.6 331.9L164.3 332.3L163.1 332.6L161.8 333L160.6 333.4L159.3 333.7L158 334.1L156.7 334.4L155.4 334.8L154.1 335.2L152.8 335.6L151.4 336L150.1 336.4L148.7 336.9L147.4 337.3L146 337.8L144.6 338.3L143.2 338.8L141.8 339.3L140.3 339.8L138.9 340.3L137.5 340.9L136 341.4L134.5 342L133 342.5L131.5 343.1L130 343.6L128.5 344.1L127 344.7L125.4 345.2L123.9 345.7L122.3 346.1L120.7 346.6L119.1 347M188.1 318L187 319.7L185.9 321.3L184.9 322.8L183.7 324.1L182.6 325.3L181.5 326.3L180.4 327.3L179.3 328.2L178.1 329L177 329.7L175.8 330.3L174.6 330.9L173.5 331.5L172.3 332L171.1 332.5L169.9 332.9L168.7 333.3L167.4 333.7L166.2 334.1L165 334.5L163.7 334.9L162.4 335.2L161.2 335.6L159.9 336L158.6 336.3L157.3 336.7L156 337.1L154.6 337.5L153.3 337.9L152 338.4L150.6 338.8L149.2 339.3L147.9 339.8L146.5 340.2L145.1 340.7L143.6 341.3L142.2 341.8L140.8 342.3L139.3 342.8L137.9 343.4L136.4 343.9L134.9 344.5L133.4 345L131.9 345.5L130.4 346.1L128.8 346.6L127.3 347.1L125.7 347.5L124.1 348L122.6 348.4M191 318.3L190 320.2L188.9 321.9L187.8 323.5L186.7 324.9L185.6 326.2L184.5 327.3L183.4 328.4L182.3 329.3L181.1 330.2L180 331L178.8 331.7L177.7 332.3L176.5 332.9L175.3 333.4L174.1 334L173 334.4L171.8 334.9L170.5 335.3L169.3 335.7L168.1 336.1L166.8 336.5L165.6 336.8L164.3 337.2L163 337.6L161.8 338L160.5 338.3L159.2 338.7L157.9 339.1L156.5 339.6L155.2 340L153.9 340.4L152.5 340.9L151.1 341.3L149.7 341.8L148.4 342.3L147 342.8L145.5 343.3L144.1 343.8L142.7 344.4L141.2 344.9L139.8 345.4L138.3 346L136.8 346.5L135.3 347L133.8 347.6L132.3 348.1L130.7 348.6L129.2 349L127.6 349.5L126 349.9M194 318.7L192.9 320.7L191.8 322.5L190.8 324.2L189.7 325.7L188.6 327.1L187.5 328.3L186.4 329.5L185.3 330.5L184.1 331.4L183 332.3L181.9 333L180.7 333.7L179.6 334.4L178.4 335L177.2 335.5L176 336L174.9 336.5L173.6 336.9L172.4 337.3L171.2 337.8L170 338.1L168.7 338.5L167.5 338.9L166.2 339.3L165 339.7L163.7 340.1L162.4 340.5L161.1 340.9L159.8 341.3L158.4 341.7L157.1 342.1L155.8 342.6L154.4 343L153 343.5L151.7 344L150.3 344.5L148.9 345L147.5 345.5L146 346L144.6 346.5L143.2 347.1L141.7 347.6L140.2 348.1L138.7 348.7L137.2 349.2L135.7 349.7L134.2 350.2L132.7 350.6L131.1 351.1L129.5 351.5M196.9 319L195.9 321.2L194.8 323.2L193.7 325L192.7 326.6L191.6 328.1L190.5 329.4L189.4 330.6L188.3 331.7L187.2 332.7L186 333.6L184.9 334.5L183.8 335.2L182.6 335.9L181.5 336.5L180.3 337.1L179.1 337.7L178 338.2L176.8 338.6L175.6 339.1L174.4 339.5L173.1 339.9L171.9 340.3L170.7 340.7L169.4 341.1L168.2 341.5L166.9 341.9L165.6 342.3L164.3 342.7L163 343.1L161.7 343.5L160.4 343.9L159 344.4L157.7 344.8L156.3 345.3L155 345.8L153.6 346.3L152.2 346.8L150.8 347.3L149.4 347.8L148 348.3L146.5 348.8L145.1 349.4L143.6 349.9L142.2 350.4L140.7 350.9L139.2 351.4L137.7 351.9L136.1 352.4L134.6 352.8L133 353.2M199.9 319.4L198.8 321.7L197.8 323.8L196.7 325.7L195.6 327.5L194.6 329.1L193.5 330.5L192.4 331.8L191.3 333L190.2 334.1L189.1 335.1L188 336L186.8 336.8L185.7 337.5L184.6 338.2L183.4 338.8L182.2 339.4L181.1 339.9L179.9 340.4L178.7 340.9L177.5 341.4L176.3 341.8L175.1 342.2L173.8 342.6L172.6 343L171.4 343.4L170.1 343.8L168.8 344.2L167.6 344.6L166.3 345L165 345.4L163.7 345.9L162.3 346.3L161 346.7L159.7 347.2L158.3 347.7L156.9 348.2L155.6 348.7L154.2 349.1L152.8 349.7L151.4 350.2L149.9 350.7L148.5 351.2L147.1 351.7L145.6 352.2L144.1 352.7L142.6 353.2L141.1 353.7L139.6 354.2L138.1 354.6L136.6 355.1M202.8 319.8L201.8 322.2L200.8 324.5L199.7 326.5L198.6 328.4L197.6 330.1L196.5 331.7L195.4 333.1L194.3 334.3L193.2 335.5L192.1 336.6L191 337.5L189.9 338.4L188.8 339.2L187.6 339.9L186.5 340.6L185.3 341.2L184.2 341.8L183 342.3L181.8 342.8L180.7 343.3L179.5 343.8L178.2 344.2L177 344.6L175.8 345L174.6 345.4L173.3 345.8L172.1 346.2L170.8 346.6L169.5 347L168.2 347.5L166.9 347.9L165.6 348.3L164.3 348.8L163 349.2L161.6 349.7L160.3 350.2L158.9 350.6L157.5 351.1L156.2 351.6L154.8 352.1L153.4 352.7L151.9 353.2L150.5 353.7L149 354.2L147.6 354.7L146.1 355.2L144.6 355.7L143.1 356.1L141.6 356.6L140.1 357M205.8 320.1L204.8 322.8L203.7 325.2L202.7 327.4L201.6 329.4L200.6 331.2L199.5 332.8L198.4 334.3L197.4 335.7L196.3 337L195.2 338.1L194.1 339.1L193 340.1L191.9 340.9L190.7 341.7L189.6 342.4L188.5 343.1L187.3 343.7L186.2 344.3L185 344.8L183.8 345.3L182.6 345.8L181.4 346.3L180.2 346.7L179 347.1L177.8 347.5L176.5 347.9L175.3 348.4L174.1 348.8L172.8 349.2L171.5 349.6L170.2 350L168.9 350.5L167.6 350.9L166.3 351.3L165 351.8L163.6 352.3L162.3 352.8L160.9 353.2L159.6 353.7L158.2 354.2L156.8 354.7L155.4 355.2L153.9 355.7L152.5 356.3L151.1 356.8L149.6 357.2L148.1 357.7L146.6 358.2L145.1 358.6L143.6 359.1M208.8 320.5L207.8 323.3L206.7 325.9L205.7 328.2L204.6 330.3L203.6 332.3L202.5 334L201.5 335.7L200.4 337.1L199.3 338.5L198.2 339.7L197.2 340.8L196.1 341.8L194.9 342.7L193.8 343.6L192.7 344.4L191.6 345.1L190.4 345.7L189.3 346.3L188.1 346.9L187 347.4L185.8 347.9L184.6 348.4L183.4 348.9L182.2 349.3L181 349.7L179.8 350.2L178.6 350.6L177.3 351L176.1 351.4L174.8 351.8L173.5 352.3L172.2 352.7L170.9 353.1L169.6 353.6L168.3 354L167 354.5L165.7 355L164.3 355.4L162.9 355.9L161.6 356.4L160.2 356.9L158.8 357.4L157.4 357.9L156 358.4L154.5 358.9L153.1 359.4L151.6 359.9L150.2 360.4L148.7 360.8L147.2 361.2M211.8 320.9L210.8 323.9L209.7 326.6L208.7 329.1L207.7 331.3L206.6 333.4L205.6 335.3L204.5 337L203.4 338.6L202.4 340L201.3 341.3L200.2 342.5L199.1 343.6L198 344.6L196.9 345.5L195.8 346.3L194.7 347.1L193.6 347.8L192.4 348.5L191.3 349.1L190.1 349.6L189 350.2L187.8 350.7L186.6 351.1L185.4 351.6L184.2 352L183 352.5L181.8 352.9L180.6 353.3L179.3 353.7L178.1 354.2L176.8 354.6L175.5 355L174.3 355.5L173 355.9L171.7 356.4L170.4 356.8L169 357.3L167.7 357.8L166.3 358.2L165 358.7L163.6 359.2L162.2 359.7L160.8 360.2L159.4 360.7L158 361.2L156.6 361.7L155.1 362.2L153.7 362.6L152.2 363.1L150.7 363.5M214.8 321.3L213.8 324.4L212.7 327.3L211.7 329.9L210.7 332.4L209.6 334.6L208.6 336.6L207.5 338.4L206.5 340.1L205.4 341.6L204.4 343L203.3 344.3L202.2 345.5L201.1 346.5L200 347.5L198.9 348.4L197.8 349.2L196.7 350L195.6 350.7L194.5 351.3L193.3 351.9L192.2 352.5L191 353L189.8 353.5L188.7 354L187.5 354.4L186.3 354.9L185.1 355.3L183.8 355.7L182.6 356.2L181.4 356.6L180.1 357L178.9 357.5L177.6 357.9L176.3 358.3L175 358.8L173.7 359.3L172.4 359.7L171.1 360.2L169.8 360.7L168.4 361.1L167.1 361.6L165.7 362.1L164.3 362.6L162.9 363.1L161.5 363.6L160.1 364.1L158.7 364.5L157.2 365L155.8 365.4L154.3 365.9M217.8 321.7L216.8 325L215.7 328.1L214.7 330.9L213.7 333.4L212.7 335.8L211.6 337.9L210.6 339.9L209.5 341.7L208.5 343.3L207.4 344.8L206.4 346.2L205.3 347.4L204.2 348.5L203.2 349.6L202.1 350.5L201 351.4L199.9 352.2L198.7 352.9L197.6 353.6L196.5 354.3L195.3 354.9L194.2 355.4L193 355.9L191.9 356.4L190.7 356.9L189.5 357.4L188.3 357.8L187.1 358.3L185.9 358.7L184.7 359.1L183.4 359.6L182.2 360L180.9 360.4L179.7 360.9L178.4 361.3L177.1 361.8L175.8 362.2L174.5 362.7L173.2 363.2L171.8 363.7L170.5 364.1L169.1 364.6L167.8 365.1L166.4 365.6L165 366.1L163.6 366.5L162.2 367L160.8 367.5L159.3 367.9L157.9 368.3M220.8 322.1L219.8 325.6L218.8 328.8L217.7 331.8L216.7 334.5L215.7 337L214.7 339.3L213.6 341.4L212.6 343.3L211.6 345L210.5 346.6L209.5 348.1L208.4 349.4L207.3 350.6L206.3 351.7L205.2 352.7L204.1 353.7L203 354.5L201.9 355.3L200.8 356L199.7 356.7L198.5 357.3L197.4 357.9L196.3 358.5L195.1 359L193.9 359.5L192.8 360L191.6 360.4L190.4 360.9L189.2 361.3L188 361.8L186.8 362.2L185.5 362.7L184.3 363.1L183 363.5L181.8 364L180.5 364.4L179.2 364.9L177.9 365.3L176.6 365.8L175.3 366.3L173.9 366.8L172.6 367.2L171.3 367.7L169.9 368.2L168.5 368.7L167.1 369.1L165.7 369.6L164.3 370L162.9 370.5L161.4 370.9M223.8 322.5L222.8 326.2L221.8 329.6L220.8 332.8L219.8 335.6L218.7 338.3L217.7 340.7L216.7 342.9L215.7 344.9L214.6 346.8L213.6 348.5L212.6 350L211.5 351.4L210.4 352.7L209.4 353.9L208.3 355L207.2 356L206.2 356.9L205.1 357.7L204 358.5L202.9 359.2L201.7 359.9L200.6 360.5L199.5 361.1L198.3 361.7L197.2 362.2L196 362.7L194.9 363.2L193.7 363.6L192.5 364.1L191.3 364.5L190.1 365L188.9 365.4L187.6 365.8L186.4 366.3L185.1 366.7L183.9 367.2L182.6 367.6L181.3 368.1L180 368.5L178.7 369L177.4 369.5L176.1 369.9L174.7 370.4L173.4 370.9L172 371.4L170.6 371.8L169.3 372.3L167.9 372.7L166.4 373.2L165 373.6M226.8 323L225.8 326.8L224.8 330.4L223.8 333.7L222.8 336.8L221.8 339.6L220.8 342.1L219.8 344.5L218.7 346.6L217.7 348.6L216.7 350.4L215.7 352L214.6 353.5L213.6 354.9L212.5 356.2L211.4 357.3L210.4 358.4L209.3 359.4L208.2 360.3L207.1 361.1L206 361.8L204.9 362.5L203.8 363.2L202.7 363.8L201.6 364.4L200.4 364.9L199.3 365.5L198.1 366L197 366.4L195.8 366.9L194.6 367.4L193.4 367.8L192.2 368.3L191 368.7L189.7 369.1L188.5 369.6L187.3 370L186 370.5L184.7 370.9L183.5 371.4L182.2 371.8L180.9 372.3L179.5 372.8L178.2 373.2L176.9 373.7L175.5 374.2L174.2 374.6L172.8 375.1L171.4 375.5L170 375.9L168.6 376.4M229.9 323.4L228.9 327.5L227.9 331.3L226.9 334.7L225.9 337.9L224.8 340.9L223.8 343.6L222.8 346.1L221.8 348.3L220.8 350.4L219.8 352.4L218.7 354.1L217.7 355.7L216.7 357.2L215.6 358.5L214.6 359.7L213.5 360.9L212.5 361.9L211.4 362.9L210.3 363.7L209.2 364.5L208.1 365.3L207 366L205.9 366.6L204.8 367.2L203.7 367.8L202.5 368.3L201.4 368.9L200.2 369.4L199.1 369.8L197.9 370.3L196.7 370.8L195.5 371.2L194.3 371.7L193.1 372.1L191.9 372.5L190.7 373L189.4 373.4L188.2 373.9L186.9 374.3L185.6 374.8L184.3 375.2L183 375.7L181.7 376.1L180.4 376.6L179.1 377.1L177.7 377.5L176.4 378L175 378.4L173.6 378.8L172.2 379.2M232.9 323.8L231.9 328.1L230.9 332.1L229.9 335.8L228.9 339.1L227.9 342.2L226.9 345.1L225.9 347.7L224.9 350.1L223.9 352.3L222.9 354.4L221.9 356.2L220.8 357.9L219.8 359.5L218.8 360.9L217.7 362.2L216.7 363.4L215.6 364.5L214.6 365.5L213.5 366.5L212.4 367.3L211.3 368.1L210.3 368.8L209.2 369.5L208 370.2L206.9 370.7L205.8 371.3L204.7 371.9L203.5 372.4L202.4 372.9L201.2 373.3L200.1 373.8L198.9 374.3L197.7 374.7L196.5 375.2L195.3 375.6L194.1 376L192.8 376.5L191.6 376.9L190.3 377.4L189.1 377.8L187.8 378.3L186.5 378.7L185.2 379.2L183.9 379.6L182.6 380.1L181.3 380.5L179.9 381L178.6 381.4L177.2 381.8L175.8 382.2M235.9 324.3L234.9 328.8L234 333L233 336.8L232 340.4L231 343.6L230 346.6L229 349.4L228 352L227 354.3L226 356.4L225 358.4L223.9 360.2L222.9 361.9L221.9 363.4L220.9 364.8L219.8 366L218.8 367.2L217.7 368.3L216.7 369.3L215.6 370.2L214.6 371L213.5 371.8L212.4 372.5L211.3 373.2L210.2 373.8L209.1 374.4L208 374.9L206.8 375.5L205.7 376L204.5 376.5L203.4 376.9L202.2 377.4L201 377.9L199.9 378.3L198.7 378.8L197.5 379.2L196.2 379.6L195 380.1L193.8 380.5L192.5 381L191.3 381.4L190 381.9L188.7 382.3L187.4 382.7L186.1 383.2L184.8 383.6L183.5 384.1L182.1 384.5L180.8 384.9L179.4 385.3M239 324.7L238 329.4L237 333.8L236 337.9L235 341.6L234 345.1L233.1 348.2L232.1 351.2L231.1 353.8L230.1 356.3L229.1 358.6L228.1 360.7L227.1 362.6L226.1 364.3L225 365.9L224 367.4L223 368.7L222 370L220.9 371.1L219.9 372.1L218.8 373.1L217.8 374L216.7 374.8L215.6 375.6L214.5 376.3L213.4 376.9L212.4 377.5L211.2 378.1L210.1 378.7L209 379.2L207.9 379.7L206.7 380.2L205.6 380.7L204.4 381.1L203.2 381.6L202.1 382L200.9 382.5L199.7 382.9L198.4 383.3L197.2 383.8L196 384.2L194.7 384.7L193.5 385.1L192.2 385.5L190.9 386L189.7 386.4L188.4 386.8L187 387.3L185.7 387.7L184.4 388.1L183 388.5M242.1 325.2L241.1 330.1L240.1 334.7L239.1 339L238.1 342.9L237.1 346.5L236.1 349.9L235.1 352.9L234.2 355.8L233.2 358.4L232.2 360.8L231.2 363L230.2 365L229.2 366.8L228.2 368.5L227.2 370.1L226.1 371.5L225.1 372.8L224.1 374L223.1 375.1L222 376.1L221 377.1L219.9 377.9L218.9 378.7L217.8 379.5L216.7 380.2L215.6 380.8L214.5 381.4L213.4 382L212.3 382.5L211.2 383L210.1 383.5L208.9 384L207.8 384.5L206.6 384.9L205.4 385.4L204.3 385.8L203.1 386.3L201.9 386.7L200.7 387.1L199.5 387.6L198.2 388L197 388.4L195.7 388.9L194.5 389.3L193.2 389.7L191.9 390.1L190.6 390.6L189.3 391L188 391.4L186.6 391.7M245.1 325.6L244.1 330.8L243.2 335.6L242.2 340.1L241.2 344.2L240.2 348L239.2 351.5L238.2 354.8L237.3 357.7L236.3 360.5L235.3 363L234.3 365.3L233.3 367.4L232.3 369.4L231.3 371.2L230.3 372.8L229.3 374.3L228.3 375.7L227.3 377L226.3 378.2L225.2 379.2L224.2 380.2L223.1 381.1L222.1 382L221 382.7L220 383.5L218.9 384.1L217.8 384.8L216.7 385.4L215.6 385.9L214.5 386.5L213.4 387L212.3 387.5L211.1 387.9L210 388.4L208.8 388.9L207.7 389.3L206.5 389.7L205.3 390.2L204.1 390.6L202.9 391L201.7 391.4L200.5 391.9L199.2 392.3L198 392.7L196.7 393.1L195.5 393.5L194.2 394L192.9 394.4L191.6 394.7L190.3 395.1M248.2 326.1L247.2 331.5L246.2 336.6L245.2 341.2L244.3 345.6L243.3 349.5L242.3 353.2L241.3 356.6L240.4 359.7L239.4 362.6L238.4 365.3L237.4 367.7L236.4 370L235.5 372L234.5 373.9L233.5 375.7L232.5 377.2L231.5 378.7L230.5 380L229.5 381.3L228.4 382.4L227.4 383.5L226.4 384.4L225.3 385.3L224.3 386.1L223.2 386.9L222.2 387.6L221.1 388.2L220 388.9L218.9 389.4L217.8 390L216.7 390.5L215.6 391L214.5 391.5L213.4 392L212.2 392.4L211.1 392.9L209.9 393.3L208.8 393.7L207.6 394.2L206.4 394.6L205.2 395L204 395.4L202.8 395.8L201.5 396.2L200.3 396.6L199 397.1L197.8 397.5L196.5 397.8L195.2 398.2L193.9 398.6M251.3 326.6L250.3 332.2L249.3 337.5L248.3 342.4L247.4 346.9L246.4 351.1L245.4 355L244.4 358.5L243.5 361.8L242.5 364.8L241.5 367.6L240.5 370.2L239.6 372.5L238.6 374.7L237.6 376.7L236.6 378.5L235.6 380.2L234.6 381.8L233.6 383.2L232.6 384.5L231.6 385.7L230.6 386.8L229.6 387.8L228.6 388.7L227.5 389.6L226.5 390.4L225.5 391.1L224.4 391.8L223.3 392.4L222.3 393L221.2 393.6L220.1 394.1L219 394.7L217.9 395.2L216.8 395.6L215.6 396.1L214.5 396.5L213.4 397L212.2 397.4L211 397.8L209.9 398.2L208.7 398.7L207.5 399.1L206.3 399.5L205.1 399.9L203.8 400.3L202.6 400.7L201.3 401.1L200.1 401.4L198.8 401.8L197.5 402.2M254.4 327L253.4 333L252.4 338.5L251.4 343.6L250.5 348.3L249.5 352.7L248.5 356.7L247.5 360.5L246.6 363.9L245.6 367.1L244.6 370L243.7 372.7L242.7 375.2L241.7 377.5L240.8 379.6L239.8 381.5L238.8 383.3L237.8 384.9L236.8 386.4L235.8 387.8L234.8 389L233.8 390.2L232.8 391.2L231.8 392.2L230.8 393.1L229.8 394L228.7 394.7L227.7 395.4L226.6 396.1L225.6 396.7L224.5 397.3L223.4 397.9L222.3 398.4L221.3 398.9L220.2 399.4L219 399.9L217.9 400.3L216.8 400.7L215.6 401.2L214.5 401.6L213.3 402L212.2 402.4L211 402.8L209.8 403.2L208.6 403.6L207.4 404L206.2 404.4L204.9 404.8L203.7 405.1L202.4 405.5L201.2 405.8M257.5 327.5L256.5 333.7L255.5 339.5L254.5 344.8L253.6 349.7L252.6 354.3L251.6 358.5L250.6 362.4L249.7 366L248.7 369.4L247.8 372.5L246.8 375.3L245.8 377.9L244.9 380.3L243.9 382.5L242.9 384.5L242 386.4L241 388.1L240 389.7L239 391.1L238.1 392.4L237.1 393.7L236.1 394.8L235.1 395.8L234 396.8L233 397.6L232 398.4L231 399.2L229.9 399.9L228.9 400.5L227.8 401.1L226.8 401.7L225.7 402.2L224.6 402.8L223.5 403.2L222.4 403.7L221.3 404.2L220.2 404.6L219.1 405L218 405.5L216.8 405.9L215.7 406.3L214.5 406.7L213.3 407L212.1 407.4L210.9 407.8L209.7 408.2L208.5 408.6L207.3 408.9L206 409.3L204.8 409.6M260.6 328L259.6 334.5L258.6 340.5L257.6 346L256.7 351.2L255.7 356L254.7 360.4L253.8 364.5L252.8 368.2L251.8 371.7L250.9 374.9L249.9 377.9L249 380.7L248 383.2L247.1 385.5L246.1 387.6L245.1 389.6L244.2 391.4L243.2 393L242.2 394.6L241.3 395.9L240.3 397.2L239.3 398.4L238.3 399.5L237.3 400.5L236.3 401.4L235.3 402.2L234.3 403L233.2 403.7L232.2 404.4L231.2 405L230.1 405.6L229.1 406.2L228 406.7L226.9 407.2L225.8 407.7L224.8 408.1L223.6 408.6L222.5 409L221.4 409.4L220.3 409.8L219.2 410.2L218 410.6L216.8 411L215.7 411.4L214.5 411.7L213.3 412.1L212.1 412.5L210.9 412.8L209.7 413.1L208.4 413.5M263.7 328.5L262.7 335.3L261.7 341.5L260.7 347.3L259.8 352.7L258.8 357.6L257.8 362.3L256.9 366.5L255.9 370.5L255 374.1L254 377.5L253.1 380.6L252.1 383.5L251.2 386.1L250.2 388.5L249.3 390.8L248.3 392.8L247.4 394.7L246.4 396.5L245.4 398.1L244.5 399.5L243.5 400.9L242.5 402.1L241.5 403.2L240.6 404.3L239.6 405.2L238.6 406.1L237.6 406.9L236.5 407.7L235.5 408.4L234.5 409L233.5 409.7L232.4 410.2L231.4 410.8L230.3 411.3L229.2 411.7L228.2 412.2L227.1 412.6L226 413.1L224.9 413.5L223.8 413.9L222.6 414.3L221.5 414.7L220.4 415L219.2 415.4L218 415.8L216.9 416.1L215.7 416.5L214.5 416.8L213.3 417.1L212.1 417.4M266.9 329L265.8 336L264.8 342.5L263.9 348.6L262.9 354.2L261.9 359.4L260.9 364.2L260 368.6L259 372.8L258.1 376.6L257.1 380.1L256.2 383.4L255.3 386.4L254.3 389.1L253.4 391.7L252.4 394L251.5 396.2L250.5 398.2L249.6 400L248.6 401.7L247.7 403.2L246.7 404.6L245.8 405.9L244.8 407.1L243.8 408.2L242.8 409.2L241.8 410.1L240.8 411L239.8 411.7L238.8 412.5L237.8 413.1L236.8 413.8L235.8 414.4L234.7 414.9L233.7 415.4L232.6 415.9L231.6 416.4L230.5 416.8L229.4 417.2L228.3 417.6L227.2 418L226.1 418.4L225 418.8L223.9 419.2L222.7 419.5L221.6 419.9L220.4 420.2L219.3 420.5L218.1 420.9L216.9 421.2L215.7 421.5M270 329.6L269 336.8L268 343.6L267 349.9L266 355.7L265 361.1L264.1 366.1L263.1 370.8L262.2 375.1L261.2 379.1L260.3 382.8L259.3 386.2L258.4 389.3L257.5 392.2L256.5 394.9L255.6 397.3L254.7 399.6L253.7 401.7L252.8 403.6L251.8 405.3L250.9 406.9L249.9 408.4L249 409.8L248 411L247.1 412.2L246.1 413.2L245.1 414.2L244.1 415.1L243.1 415.9L242.2 416.6L241.2 417.3L240.1 418L239.1 418.6L238.1 419.1L237.1 419.7L236 420.2L235 420.6L233.9 421.1L232.9 421.5L231.8 421.9L230.7 422.3L229.6 422.7L228.5 423L227.4 423.4L226.3 423.8L225.2 424.1L224 424.4L222.9 424.7L221.7 425L220.5 425.3L219.3 425.6M273.1 330.1L272.1 337.6L271.1 344.7L270.1 351.2L269.1 357.3L268.2 362.9L267.2 368.1L266.2 373L265.3 377.5L264.3 381.6L263.4 385.5L262.5 389L261.5 392.3L260.6 395.3L259.7 398.1L258.8 400.7L257.8 403L256.9 405.2L256 407.2L255 409.1L254.1 410.8L253.2 412.3L252.2 413.7L251.3 415L250.3 416.2L249.4 417.3L248.4 418.3L247.4 419.3L246.4 420.1L245.5 420.9L244.5 421.6L243.5 422.3L242.5 422.9L241.5 423.5L240.5 424L239.4 424.5L238.4 425L237.4 425.4L236.3 425.9L235.3 426.3L234.2 426.7L233.1 427L232 427.4L230.9 427.7L229.8 428.1L228.7 428.4L227.6 428.7L226.5 429L225.3 429.3L224.1 429.6L223 429.9M276.3 330.6L275.3 338.5L274.2 345.8L273.2 352.6L272.3 358.9L271.3 364.7L270.3 370.2L269.4 375.2L268.4 379.9L267.5 384.2L266.5 388.2L265.6 391.9L264.7 395.3L263.8 398.5L262.8 401.4L261.9 404.1L261 406.6L260.1 408.9L259.1 411L258.2 412.9L257.3 414.7L256.4 416.3L255.4 417.8L254.5 419.1L253.6 420.4L252.6 421.5L251.7 422.6L250.7 423.5L249.7 424.4L248.8 425.2L247.8 426L246.8 426.7L245.8 427.3L244.8 427.9L243.8 428.5L242.8 429L241.8 429.5L240.8 429.9L239.8 430.3L238.7 430.7L237.7 431.1L236.6 431.5L235.5 431.8L234.5 432.2L233.4 432.5L232.3 432.8L231.2 433.1L230 433.4L228.9 433.7L227.8 434L226.6 434.2M279.4 331.1L278.4 339.3L277.4 346.9L276.4 353.9L275.4 360.5L274.4 366.6L273.5 372.2L272.5 377.5L271.6 382.3L270.6 386.9L269.7 391L268.8 394.9L267.8 398.5L266.9 401.8L266 404.8L265.1 407.6L264.2 410.2L263.2 412.6L262.3 414.8L261.4 416.8L260.5 418.6L259.6 420.3L258.7 421.9L257.7 423.3L256.8 424.6L255.9 425.8L254.9 426.9L254 427.9L253 428.8L252.1 429.7L251.1 430.5L250.2 431.2L249.2 431.8L248.2 432.4L247.2 433L246.2 433.5L245.2 434L244.2 434.5L243.2 434.9L242.2 435.3L241.1 435.7L240.1 436L239 436.4L238 436.7L236.9 437L235.8 437.3L234.7 437.6L233.6 437.9L232.5 438.2L231.4 438.4L230.3 438.7M282.6 331.7L281.6 340.1L280.5 348L279.5 355.3L278.5 362.1L277.6 368.5L276.6 374.3L275.6 379.8L274.7 384.9L273.8 389.5L272.8 393.9L271.9 397.9L271 401.6L270.1 405.1L269.1 408.2L268.2 411.2L267.3 413.9L266.4 416.4L265.5 418.6L264.6 420.7L263.7 422.7L262.8 424.5L261.9 426.1L261 427.6L260 428.9L259.1 430.2L258.2 431.3L257.3 432.4L256.3 433.3L255.4 434.2L254.4 435L253.5 435.8L252.5 436.4L251.6 437.1L250.6 437.6L249.6 438.2L248.6 438.7L247.6 439.1L246.6 439.5L245.6 439.9L244.6 440.3L243.6 440.7L242.5 441L241.5 441.3L240.4 441.6L239.4 441.9L238.3 442.2L237.2 442.5L236.1 442.7L235 443L233.9 443.2M285.8 332.2L284.7 341L283.7 349.2L282.7 356.8L281.7 363.8L280.7 370.4L279.7 376.5L278.8 382.2L277.8 387.4L276.9 392.3L276 396.8L275 401L274.1 404.9L273.2 408.4L272.3 411.8L271.4 414.8L270.5 417.6L269.6 420.2L268.7 422.6L267.8 424.8L266.9 426.8L266 428.7L265.1 430.4L264.2 431.9L263.3 433.3L262.4 434.6L261.5 435.8L260.5 436.9L259.6 437.9L258.7 438.8L257.8 439.7L256.8 440.4L255.9 441.1L254.9 441.8L254 442.4L253 442.9L252 443.4L251.1 443.9L250.1 444.3L249.1 444.7L248.1 445.1L247.1 445.4L246 445.7L245 446.1L244 446.4L242.9 446.6L241.9 446.9L240.8 447.1L239.7 447.4L238.6 447.6L237.5 447.8M289 332.8L287.9 341.9L286.9 350.3L285.8 358.2L284.8 365.5L283.8 372.3L282.9 378.7L281.9 384.5L281 390L280 395.1L279.1 399.8L278.2 404.1L277.3 408.2L276.4 411.9L275.5 415.3L274.6 418.5L273.7 421.4L272.8 424.1L271.9 426.6L271 428.9L270.1 431L269.2 432.9L268.3 434.7L267.4 436.3L266.5 437.8L265.6 439.2L264.7 440.4L263.8 441.6L262.9 442.6L262 443.5L261.1 444.4L260.2 445.2L259.2 445.9L258.3 446.6L257.3 447.2L256.4 447.7L255.4 448.2L254.5 448.7L253.5 449.1L252.5 449.5L251.5 449.9L250.5 450.3L249.5 450.6L248.5 450.9L247.5 451.2L246.5 451.4L245.4 451.7L244.4 451.9L243.3 452.1L242.3 452.3L241.2 452.5M292.2 333.4L291.1 342.8L290 351.5L289 359.7L288 367.3L287 374.3L286 380.9L285.1 387L284.1 392.7L283.2 397.9L282.2 402.8L281.3 407.3L280.4 411.5L279.5 415.4L278.6 419L277.7 422.3L276.8 425.3L275.9 428.1L275.1 430.7L274.2 433.1L273.3 435.3L272.4 437.3L271.5 439.2L270.7 440.8L269.8 442.4L268.9 443.8L268 445.1L267.1 446.3L266.2 447.4L265.3 448.3L264.4 449.2L263.5 450.1L262.6 450.8L261.6 451.5L260.7 452.1L259.8 452.7L258.8 453.2L257.9 453.7L256.9 454.1L256 454.5L255 454.9L254 455.2L253 455.5L252 455.8L251 456.1L250 456.3L249 456.5L248 456.8L246.9 457L245.9 457.1L244.8 457.3M295.4 333.9L294.3 343.7L293.2 352.7L292.2 361.2L291.1 369L290.2 376.3L289.2 383.1L288.2 389.5L287.3 395.3L286.3 400.8L285.4 405.9L284.5 410.6L283.6 414.9L282.7 418.9L281.8 422.7L280.9 426.1L280 429.3L279.1 432.2L278.2 434.9L277.4 437.4L276.5 439.7L275.6 441.8L274.7 443.7L273.9 445.4L273 447L272.1 448.5L271.2 449.9L270.4 451.1L269.5 452.2L268.6 453.2L267.7 454.2L266.8 455L265.9 455.8L265 456.5L264.1 457.1L263.2 457.7L262.2 458.2L261.3 458.7L260.4 459.1L259.4 459.5L258.5 459.9L257.5 460.2L256.5 460.5L255.5 460.8L254.6 461.1L253.6 461.3L252.6 461.5L251.5 461.7L250.5 461.9L249.5 462.1L248.4 462.2M298.6 334.5L297.5 344.6L296.4 353.9L295.3 362.7L294.3 370.8L293.3 378.4L292.3 385.4L291.4 392L290.4 398.1L289.5 403.7L288.5 409L287.6 413.9L286.7 418.4L285.8 422.5L284.9 426.4L284 430L283.2 433.3L282.3 436.3L281.4 439.1L280.5 441.7L279.7 444.1L278.8 446.3L278 448.3L277.1 450.1L276.2 451.8L275.4 453.3L274.5 454.7L273.6 456L272.8 457.2L271.9 458.2L271 459.2L270.1 460L269.2 460.8L268.3 461.6L267.4 462.2L266.5 462.8L265.6 463.3L264.7 463.8L263.8 464.3L262.9 464.7L261.9 465L261 465.3L260 465.6L259.1 465.9L258.1 466.1L257.1 466.4L256.1 466.6L255.1 466.8L254.1 466.9L253.1 467.1L252.1 467.2M176.5 316.7L179.4 317L182.3 317.3L185.2 317.7L188.1 318L191 318.3L194 318.7L196.9 319L199.9 319.4L202.8 319.8L205.8 320.1L208.8 320.5L211.8 320.9L214.8 321.3L217.8 321.7L220.8 322.1L223.8 322.5L226.8 323L229.9 323.4L232.9 323.8L235.9 324.3L239 324.7L242.1 325.2L245.1 325.6L248.2 326.1L251.3 326.6L254.4 327L257.5 327.5L260.6 328L263.7 328.5L266.9 329L270 329.6L273.1 330.1L276.3 330.6L279.4 331.1L282.6 331.7L285.8 332.2L289 332.8L292.2 333.4L295.4 333.9L298.6 334.5M175.4 318L178.3 318.4L181.2 318.8L184.1 319.3L187 319.7L190 320.2L192.9 320.7L195.9 321.2L198.8 321.7L201.8 322.2L204.8 322.8L207.8 323.3L210.8 323.9L213.8 324.4L216.8 325L219.8 325.6L222.8 326.2L225.8 326.8L228.9 327.5L231.9 328.1L234.9 328.8L238 329.4L241.1 330.1L244.1 330.8L247.2 331.5L250.3 332.2L253.4 333L256.5 333.7L259.6 334.5L262.7 335.3L265.8 336L269 336.8L272.1 337.6L275.3 338.5L278.4 339.3L281.6 340.1L284.7 341L287.9 341.9L291.1 342.8L294.3 343.7L297.5 344.6M177.1 319.7L180.1 320.2L183 320.8L185.9 321.3L188.9 321.9L191.8 322.5L194.8 323.2L197.8 323.8L200.8 324.5L203.7 325.2L206.7 325.9L209.7 326.6L212.7 327.3L215.7 328.1L218.8 328.8L221.8 329.6L224.8 330.4L227.9 331.3L230.9 332.1L234 333L237 333.8L240.1 334.7L243.2 335.6L246.2 336.6L249.3 337.5L252.4 338.5L255.5 339.5L258.6 340.5L261.7 341.5L264.8 342.5L268 343.6L271.1 344.7L274.2 345.8L277.4 346.9L280.5 348L283.7 349.2L286.9 350.3L290 351.5L293.2 352.7L296.4 353.9M179 321.4L181.9 322.1L184.9 322.8L187.8 323.5L190.8 324.2L193.7 325L196.7 325.7L199.7 326.5L202.7 327.4L205.7 328.2L208.7 329.1L211.7 329.9L214.7 330.9L217.7 331.8L220.8 332.8L223.8 333.7L226.9 334.7L229.9 335.8L233 336.8L236 337.9L239.1 339L242.2 340.1L245.2 341.2L248.3 342.4L251.4 343.6L254.5 344.8L257.6 346L260.7 347.3L263.9 348.6L267 349.9L270.1 351.2L273.2 352.6L276.4 353.9L279.5 355.3L282.7 356.8L285.8 358.2L289 359.7L292.2 361.2L295.3 362.7M180.8 323.3L183.7 324.1L186.7 324.9L189.7 325.7L192.7 326.6L195.6 327.5L198.6 328.4L201.6 329.4L204.6 330.3L207.7 331.3L210.7 332.4L213.7 333.4L216.7 334.5L219.8 335.6L222.8 336.8L225.9 337.9L228.9 339.1L232 340.4L235 341.6L238.1 342.9L241.2 344.2L244.3 345.6L247.4 346.9L250.5 348.3L253.6 349.7L256.7 351.2L259.8 352.7L262.9 354.2L266 355.7L269.1 357.3L272.3 358.9L275.4 360.5L278.5 362.1L281.7 363.8L284.8 365.5L288 367.3L291.1 369L294.3 370.8M182.6 325.3L185.6 326.2L188.6 327.1L191.6 328.1L194.6 329.1L197.6 330.1L200.6 331.2L203.6 332.3L206.6 333.4L209.6 334.6L212.7 335.8L215.7 337L218.7 338.3L221.8 339.6L224.8 340.9L227.9 342.2L231 343.6L234 345.1L237.1 346.5L240.2 348L243.3 349.5L246.4 351.1L249.5 352.7L252.6 354.3L255.7 356L258.8 357.6L261.9 359.4L265 361.1L268.2 362.9L271.3 364.7L274.4 366.6L277.6 368.5L280.7 370.4L283.8 372.3L287 374.3L290.2 376.3L293.3 378.4M184.5 327.3L187.5 328.3L190.5 329.4L193.5 330.5L196.5 331.7L199.5 332.8L202.5 334L205.6 335.3L208.6 336.6L211.6 337.9L214.7 339.3L217.7 340.7L220.8 342.1L223.8 343.6L226.9 345.1L230 346.6L233.1 348.2L236.1 349.9L239.2 351.5L242.3 353.2L245.4 355L248.5 356.7L251.6 358.5L254.7 360.4L257.8 362.3L260.9 364.2L264.1 366.1L267.2 368.1L270.3 370.2L273.5 372.2L276.6 374.3L279.7 376.5L282.9 378.7L286 380.9L289.2 383.1L292.3 385.4M186.4 329.5L189.4 330.6L192.4 331.8L195.4 333.1L198.4 334.3L201.5 335.7L204.5 337L207.5 338.4L210.6 339.9L213.6 341.4L216.7 342.9L219.8 344.5L222.8 346.1L225.9 347.7L229 349.4L232.1 351.2L235.1 352.9L238.2 354.8L241.3 356.6L244.4 358.5L247.5 360.5L250.6 362.4L253.8 364.5L256.9 366.5L260 368.6L263.1 370.8L266.2 373L269.4 375.2L272.5 377.5L275.6 379.8L278.8 382.2L281.9 384.5L285.1 387L288.2 389.5L291.4 392M188.3 331.7L191.3 333L194.3 334.3L197.4 335.7L200.4 337.1L203.4 338.6L206.5 340.1L209.5 341.7L212.6 343.3L215.7 344.9L218.7 346.6L221.8 348.3L224.9 350.1L228 352L231.1 353.8L234.2 355.8L237.3 357.7L240.4 359.7L243.5 361.8L246.6 363.9L249.7 366L252.8 368.2L255.9 370.5L259 372.8L262.2 375.1L265.3 377.5L268.4 379.9L271.6 382.3L274.7 384.9L277.8 387.4L281 390L284.1 392.7L287.3 395.3L290.4 398.1M190.2 334.1L193.2 335.5L196.3 337L199.3 338.5L202.4 340L205.4 341.6L208.5 343.3L211.6 345L214.6 346.8L217.7 348.6L220.8 350.4L223.9 352.3L227 354.3L230.1 356.3L233.2 358.4L236.3 360.5L239.4 362.6L242.5 364.8L245.6 367.1L248.7 369.4L251.8 371.7L255 374.1L258.1 376.6L261.2 379.1L264.3 381.6L267.5 384.2L270.6 386.9L273.8 389.5L276.9 392.3L280 395.1L283.2 397.9L286.3 400.8L289.5 403.7M192.1 336.6L195.2 338.1L198.2 339.7L201.3 341.3L204.4 343L207.4 344.8L210.5 346.6L213.6 348.5L216.7 350.4L219.8 352.4L222.9 354.4L226 356.4L229.1 358.6L232.2 360.8L235.3 363L238.4 365.3L241.5 367.6L244.6 370L247.8 372.5L250.9 374.9L254 377.5L257.1 380.1L260.3 382.8L263.4 385.5L266.5 388.2L269.7 391L272.8 393.9L276 396.8L279.1 399.8L282.2 402.8L285.4 405.9L288.5 409M194.1 339.1L197.2 340.8L200.2 342.5L203.3 344.3L206.4 346.2L209.5 348.1L212.6 350L215.7 352L218.7 354.1L221.9 356.2L225 358.4L228.1 360.7L231.2 363L234.3 365.3L237.4 367.7L240.5 370.2L243.7 372.7L246.8 375.3L249.9 377.9L253.1 380.6L256.2 383.4L259.3 386.2L262.5 389L265.6 391.9L268.8 394.9L271.9 397.9L275 401L278.2 404.1L281.3 407.3L284.5 410.6L287.6 413.9M196.1 341.8L199.1 343.6L202.2 345.5L205.3 347.4L208.4 349.4L211.5 351.4L214.6 353.5L217.7 355.7L220.8 357.9L223.9 360.2L227.1 362.6L230.2 365L233.3 367.4L236.4 370L239.6 372.5L242.7 375.2L245.8 377.9L249 380.7L252.1 383.5L255.3 386.4L258.4 389.3L261.5 392.3L264.7 395.3L267.8 398.5L271 401.6L274.1 404.9L277.3 408.2L280.4 411.5L283.6 414.9L286.7 418.4M198 344.6L201.1 346.5L204.2 348.5L207.3 350.6L210.4 352.7L213.6 354.9L216.7 357.2L219.8 359.5L222.9 361.9L226.1 364.3L229.2 366.8L232.3 369.4L235.5 372L238.6 374.7L241.7 377.5L244.9 380.3L248 383.2L251.2 386.1L254.3 389.1L257.5 392.2L260.6 395.3L263.8 398.5L266.9 401.8L270.1 405.1L273.2 408.4L276.4 411.9L279.5 415.4L282.7 418.9L285.8 422.5M200 347.5L203.2 349.6L206.3 351.7L209.4 353.9L212.5 356.2L215.6 358.5L218.8 360.9L221.9 363.4L225 365.9L228.2 368.5L231.3 371.2L234.5 373.9L237.6 376.7L240.8 379.6L243.9 382.5L247.1 385.5L250.2 388.5L253.4 391.7L256.5 394.9L259.7 398.1L262.8 401.4L266 404.8L269.1 408.2L272.3 411.8L275.5 415.3L278.6 419L281.8 422.7L284.9 426.4M202.1 350.5L205.2 352.7L208.3 355L211.4 357.3L214.6 359.7L217.7 362.2L220.9 364.8L224 367.4L227.2 370.1L230.3 372.8L233.5 375.7L236.6 378.5L239.8 381.5L242.9 384.5L246.1 387.6L249.3 390.8L252.4 394L255.6 397.3L258.8 400.7L261.9 404.1L265.1 407.6L268.2 411.2L271.4 414.8L274.6 418.5L277.7 422.3L280.9 426.1L284 430M204.1 353.7L207.2 356L210.4 358.4L213.5 360.9L216.7 363.4L219.8 366L223 368.7L226.1 371.5L229.3 374.3L232.5 377.2L235.6 380.2L238.8 383.3L242 386.4L245.1 389.6L248.3 392.8L251.5 396.2L254.7 399.6L257.8 403L261 406.6L264.2 410.2L267.3 413.9L270.5 417.6L273.7 421.4L276.8 425.3L280 429.3L283.2 433.3M206.2 356.9L209.3 359.4L212.5 361.9L215.6 364.5L218.8 367.2L222 370L225.1 372.8L228.3 375.7L231.5 378.7L234.6 381.8L237.8 384.9L241 388.1L244.2 391.4L247.4 394.7L250.5 398.2L253.7 401.7L256.9 405.2L260.1 408.9L263.2 412.6L266.4 416.4L269.6 420.2L272.8 424.1L275.9 428.1L279.1 432.2L282.3 436.3M208.2 360.3L211.4 362.9L214.6 365.5L217.7 368.3L220.9 371.1L224.1 374L227.3 377L230.5 380L233.6 383.2L236.8 386.4L240 389.7L243.2 393L246.4 396.5L249.6 400L252.8 403.6L256 407.2L259.1 411L262.3 414.8L265.5 418.6L268.7 422.6L271.9 426.6L275.1 430.7L278.2 434.9L281.4 439.1M213.5 366.5L216.7 369.3L219.9 372.1L223.1 375.1L226.3 378.2L229.5 381.3L232.6 384.5L235.8 387.8L239 391.1L242.2 394.6L245.4 398.1L248.6 401.7L251.8 405.3L255 409.1L258.2 412.9L261.4 416.8L264.6 420.7L267.8 424.8L271 428.9L274.2 433.1L277.4 437.4L280.5 441.7M215.6 370.2L218.8 373.1L222 376.1L225.2 379.2L228.4 382.4L231.6 385.7L234.8 389L238.1 392.4L241.3 395.9L244.5 399.5L247.7 403.2L250.9 406.9L254.1 410.8L257.3 414.7L260.5 418.6L263.7 422.7L266.9 426.8L270.1 431L273.3 435.3L276.5 439.7L279.7 444.1M221 377.1L224.2 380.2L227.4 383.5L230.6 386.8L233.8 390.2L237.1 393.7L240.3 397.2L243.5 400.9L246.7 404.6L249.9 408.4L253.2 412.3L256.4 416.3L259.6 420.3L262.8 424.5L266 428.7L269.2 432.9L272.4 437.3L275.6 441.8L278.8 446.3M223.1 381.1L226.4 384.4L229.6 387.8L232.8 391.2L236.1 394.8L239.3 398.4L242.5 402.1L245.8 405.9L249 409.8L252.2 413.7L255.4 417.8L258.7 421.9L261.9 426.1L265.1 430.4L268.3 434.7L271.5 439.2L274.7 443.7L278 448.3M228.6 388.7L231.8 392.2L235.1 395.8L238.3 399.5L241.5 403.2L244.8 407.1L248 411L251.3 415L254.5 419.1L257.7 423.3L261 427.6L264.2 431.9L267.4 436.3L270.7 440.8L273.9 445.4L277.1 450.1M234 396.8L237.3 400.5L240.6 404.3L243.8 408.2L247.1 412.2L250.3 416.2L253.6 420.4L256.8 424.6L260 428.9L263.3 433.3L266.5 437.8L269.8 442.4L273 447L276.2 451.8M239.6 405.2L242.8 409.2L246.1 413.2L249.4 417.3L252.6 421.5L255.9 425.8L259.1 430.2L262.4 434.6L265.6 439.2L268.9 443.8L272.1 448.5L275.4 453.3M248.4 418.3L251.7 422.6L254.9 426.9L258.2 431.3L261.5 435.8L264.7 440.4L268 445.1L271.2 449.9L274.5 454.7M260.5 436.9L263.8 441.6L267.1 446.3L270.4 451.1L273.6 456"/><path class="m" style="stroke-width:0.736" d="M141.8 316.9L140.5 317.4L139.3 318L138 318.5L136.7 319.1M78.9 345.5L77.2 346.2L75.4 346.9M144.6 317.1L143.4 317.6L142.2 318.1L140.9 318.5L139.6 319M146.3 317.8L145.1 318.3L143.8 318.8L142.5 319.2L141.3 319.6L140 320L138.7 320.5L137.4 320.9M146.7 319.1L145.5 319.6L144.2 320L142.9 320.4L141.7 320.8L140.4 321.1L139.1 321.5L137.8 321.9L136.5 322.3L135.1 322.7L133.8 323.1L132.4 323.5L131.1 324L129.7 324.4M145.9 320.8L144.6 321.2L143.3 321.6L142.1 321.9L140.8 322.3L139.4 322.7L138.1 323.1L136.8 323.4L135.5 323.8L134.1 324.2L132.8 324.7L131.4 325.1L130 325.5L128.6 326L127.2 326.5L125.8 327L124.4 327.5L123 328L121.5 328.6L120.1 329.2L118.6 329.7L117.1 330.3L115.7 331L114.2 331.6L112.7 332.2L111.1 332.9L109.6 333.5L108.1 334.1L106.5 334.8L104.9 335.4L103.3 336.1L101.7 336.7M108.2 335.5L106.6 336.1L105 336.7L103.4 337.3L101.8 337.9L100.1 338.5L98.5 339.1M103.4 338.7L101.8 339.2L100.2 339.8L98.5 340.2L96.8 340.7M101.8 340.6L100.2 341.1L98.5 341.5M167.8 315.8L170.7 316.1L173.6 316.4L176.5 316.7M166.7 316.8L169.6 317.2L172.4 317.6L175.4 318M168.4 318.2L171.3 318.6L174.2 319.1L177.1 319.7M170.2 319.6L173.1 320.2L176 320.8L179 321.4M172 321.1L174.9 321.8L177.8 322.6L180.8 323.3M170.8 322L173.8 322.8L176.7 323.6L179.7 324.4L182.6 325.3M172.6 323.6L175.6 324.5L178.5 325.4L181.5 326.3L184.5 327.3M174.4 325.3L177.4 326.3L180.4 327.3L183.4 328.4L186.4 329.5M176.3 327.1L179.3 328.2L182.3 329.3L185.3 330.5L188.3 331.7M175.1 327.8L178.1 329L181.1 330.2L184.1 331.4L187.2 332.7L190.2 334.1M177 329.7L180 331L183 332.3L186 333.6L189.1 335.1L192.1 336.6M178.8 331.7L181.9 333L184.9 334.5L188 336L191 337.5L194.1 339.1M180.7 333.7L183.8 335.2L186.8 336.8L189.9 338.4L193 340.1L196.1 341.8M179.6 334.4L182.6 335.9L185.7 337.5L188.8 339.2L191.9 340.9L194.9 342.7L198 344.6M181.5 336.5L184.6 338.2L187.6 339.9L190.7 341.7L193.8 343.6L196.9 345.5L200 347.5M183.4 338.8L186.5 340.6L189.6 342.4L192.7 344.4L195.8 346.3L198.9 348.4L202.1 350.5M182.2 339.4L185.3 341.2L188.5 343.1L191.6 345.1L194.7 347.1L197.8 349.2L201 351.4L204.1 353.7M184.2 341.8L187.3 343.7L190.4 345.7L193.6 347.8L196.7 350L199.9 352.2L203 354.5L206.2 356.9M186.2 344.3L189.3 346.3L192.4 348.5L195.6 350.7L198.7 352.9L201.9 355.3L205.1 357.7L208.2 360.3M185 344.8L188.1 346.9L191.3 349.1L194.5 351.3L197.6 353.6L200.8 356L204 358.5L207.1 361.1L210.3 363.7L213.5 366.5M187 347.4L190.1 349.6L193.3 351.9L196.5 354.3L199.7 356.7L202.9 359.2L206 361.8L209.2 364.5L212.4 367.3L215.6 370.2M185.8 347.9L189 350.2L192.2 352.5L195.3 354.9L198.5 357.3L201.7 359.9L204.9 362.5L208.1 365.3L211.3 368.1L214.6 371L217.8 374L221 377.1M184.6 348.4L187.8 350.7L191 353L194.2 355.4L197.4 357.9L200.6 360.5L203.8 363.2L207 366L210.3 368.8L213.5 371.8L216.7 374.8L219.9 377.9L223.1 381.1M186.6 351.1L189.8 353.5L193 355.9L196.3 358.5L199.5 361.1L202.7 363.8L205.9 366.6L209.2 369.5L212.4 372.5L215.6 375.6L218.9 378.7L222.1 382L225.3 385.3L228.6 388.7M185.4 351.6L188.7 354L191.9 356.4L195.1 359L198.3 361.7L201.6 364.4L204.8 367.2L208 370.2L211.3 373.2L214.5 376.3L217.8 379.5L221 382.7L224.3 386.1L227.5 389.6L230.8 393.1L234 396.8M184.2 352L187.5 354.4L190.7 356.9L193.9 359.5L197.2 362.2L200.4 364.9L203.7 367.8L206.9 370.7L210.2 373.8L213.4 376.9L216.7 380.2L220 383.5L223.2 386.9L226.5 390.4L229.8 394L233 397.6L236.3 401.4L239.6 405.2M183 352.5L186.3 354.9L189.5 357.4L192.8 360L196 362.7L199.3 365.5L202.5 368.3L205.8 371.3L209.1 374.4L212.4 377.5L215.6 380.8L218.9 384.1L222.2 387.6L225.5 391.1L228.7 394.7L232 398.4L235.3 402.2L238.6 406.1L241.8 410.1L245.1 414.2L248.4 418.3M181.8 352.9L185.1 355.3L188.3 357.8L191.6 360.4L194.9 363.2L198.1 366L201.4 368.9L204.7 371.9L208 374.9L211.2 378.1L214.5 381.4L217.8 384.8L221.1 388.2L224.4 391.8L227.7 395.4L231 399.2L234.3 403L237.6 406.9L240.8 411L244.1 415.1L247.4 419.3L250.7 423.5L254 427.9L257.3 432.4L260.5 436.9M180.6 353.3L183.8 355.7L187.1 358.3L190.4 360.9L193.7 363.6L197 366.4L200.2 369.4L203.5 372.4L206.8 375.5L210.1 378.7L213.4 382L216.7 385.4L220 388.9L223.3 392.4L226.6 396.1L229.9 399.9L233.2 403.7L236.5 407.7L239.8 411.7L243.1 415.9L246.4 420.1L249.7 424.4L253 428.8L256.3 433.3L259.6 437.9L262.9 442.6L266.2 447.4L269.5 452.2L272.8 457.2M176.1 351.4L179.3 353.7L182.6 356.2L185.9 358.7L189.2 361.3L192.5 364.1L195.8 366.9L199.1 369.8L202.4 372.9L205.7 376L209 379.2L212.3 382.5L215.6 385.9L218.9 389.4L222.3 393L225.6 396.7L228.9 400.5L232.2 404.4L235.5 408.4L238.8 412.5L242.2 416.6L245.5 420.9L248.8 425.2L252.1 429.7L255.4 434.2L258.7 438.8L262 443.5L265.3 448.3L268.6 453.2L271.9 458.2M171.5 349.6L174.8 351.8L178.1 354.2L181.4 356.6L184.7 359.1L188 361.8L191.3 364.5L194.6 367.4L197.9 370.3L201.2 373.3L204.5 376.5L207.9 379.7L211.2 383L214.5 386.5L217.8 390L221.2 393.6L224.5 397.3L227.8 401.1L231.2 405L234.5 409L237.8 413.1L241.2 417.3L244.5 421.6L247.8 426L251.1 430.5L254.4 435L257.8 439.7L261.1 444.4L264.4 449.2L267.7 454.2L271 459.2M166.9 347.9L170.2 350L173.5 352.3L176.8 354.6L180.1 357L183.4 359.6L186.8 362.2L190.1 365L193.4 367.8L196.7 370.8L200.1 373.8L203.4 376.9L206.7 380.2L210.1 383.5L213.4 387L216.7 390.5L220.1 394.1L223.4 397.9L226.8 401.7L230.1 405.6L233.5 409.7L236.8 413.8L240.1 418L243.5 422.3L246.8 426.7L250.2 431.2L253.5 435.8L256.8 440.4L260.2 445.2L263.5 450.1L266.8 455L270.1 460M162.3 346.3L165.6 348.3L168.9 350.5L172.2 352.7L175.5 355L178.9 357.5L182.2 360L185.5 362.7L188.9 365.4L192.2 368.3L195.5 371.2L198.9 374.3L202.2 377.4L205.6 380.7L208.9 384L212.3 387.5L215.6 391L219 394.7L222.3 398.4L225.7 402.2L229.1 406.2L232.4 410.2L235.8 414.4L239.1 418.6L242.5 422.9L245.8 427.3L249.2 431.8L252.5 436.4L255.9 441.1L259.2 445.9L262.6 450.8L265.9 455.8L269.2 460.8M157.7 344.8L161 346.7L164.3 348.8L167.6 350.9L170.9 353.1L174.3 355.5L177.6 357.9L180.9 360.4L184.3 363.1L187.6 365.8L191 368.7L194.3 371.7L197.7 374.7L201 377.9L204.4 381.1L207.8 384.5L211.1 387.9L214.5 391.5L217.9 395.2L221.3 398.9L224.6 402.8L228 406.7L231.4 410.8L234.7 414.9L238.1 419.1L241.5 423.5L244.8 427.9L248.2 432.4L251.6 437.1L254.9 441.8L258.3 446.6L261.6 451.5L265 456.5L268.3 461.6M153 343.5L156.3 345.3L159.7 347.2L163 349.2L166.3 351.3L169.6 353.6L173 355.9L176.3 358.3L179.7 360.9L183 363.5L186.4 366.3L189.7 369.1L193.1 372.1L196.5 375.2L199.9 378.3L203.2 381.6L206.6 384.9L210 388.4L213.4 392L216.8 395.6L220.2 399.4L223.5 403.2L226.9 407.2L230.3 411.3L233.7 415.4L237.1 419.7L240.5 424L243.8 428.5L247.2 433L250.6 437.6L254 442.4L257.3 447.2L260.7 452.1L264.1 457.1L267.4 462.2M148.4 342.3L151.7 344L155 345.8L158.3 347.7L161.6 349.7L165 351.8L168.3 354L171.7 356.4L175 358.8L178.4 361.3L181.8 364L185.1 366.7L188.5 369.6L191.9 372.5L195.3 375.6L198.7 378.8L202.1 382L205.4 385.4L208.8 388.9L212.2 392.4L215.6 396.1L219 399.9L222.4 403.7L225.8 407.7L229.2 411.7L232.6 415.9L236 420.2L239.4 424.5L242.8 429L246.2 433.5L249.6 438.2L253 442.9L256.4 447.7L259.8 452.7L263.2 457.7L266.5 462.8M143.6 341.3L147 342.8L150.3 344.5L153.6 346.3L156.9 348.2L160.3 350.2L163.6 352.3L167 354.5L170.4 356.8L173.7 359.3L177.1 361.8L180.5 364.4L183.9 367.2L187.3 370L190.7 373L194.1 376L197.5 379.2L200.9 382.5L204.3 385.8L207.7 389.3L211.1 392.9L214.5 396.5L217.9 400.3L221.3 404.2L224.8 408.1L228.2 412.2L231.6 416.4L235 420.6L238.4 425L241.8 429.5L245.2 434L248.6 438.7L252 443.4L255.4 448.2L258.8 453.2M142.2 341.8L145.5 343.3L148.9 345L152.2 346.8L155.6 348.7L158.9 350.6L162.3 352.8L165.7 355L169 357.3L172.4 359.7L175.8 362.2L179.2 364.9L182.6 367.6L186 370.5L189.4 373.4L192.8 376.5L196.2 379.6L199.7 382.9L203.1 386.3L206.5 389.7L209.9 393.3L213.4 397L216.8 400.7L220.2 404.6L223.6 408.6L227.1 412.6L230.5 416.8L233.9 421.1L237.4 425.4L240.8 429.9L244.2 434.5L247.6 439.1L251.1 443.9M137.5 340.9L140.8 342.3L144.1 343.8L147.5 345.5L150.8 347.3L154.2 349.1L157.5 351.1L160.9 353.2L164.3 355.4L167.7 357.8L171.1 360.2L174.5 362.7L177.9 365.3L181.3 368.1L184.7 370.9L188.2 373.9L191.6 376.9L195 380.1L198.4 383.3L201.9 386.7L205.3 390.2L208.8 393.7L212.2 397.4L215.6 401.2L219.1 405L222.5 409L226 413.1L229.4 417.2L232.9 421.5L236.3 425.9L239.8 430.3L243.2 434.9L246.6 439.5M136 341.4L139.3 342.8L142.7 344.4L146 346L149.4 347.8L152.8 349.7L156.2 351.6L159.6 353.7L162.9 355.9L166.3 358.2L169.8 360.7L173.2 363.2L176.6 365.8L180 368.5L183.5 371.4L186.9 374.3L190.3 377.4L193.8 380.5L197.2 383.8L200.7 387.1L204.1 390.6L207.6 394.2L211 397.8L214.5 401.6L218 405.5L221.4 409.4L224.9 413.5L228.3 417.6L231.8 421.9L235.3 426.3L238.7 430.7L242.2 435.3M134.5 342L137.9 343.4L141.2 344.9L144.6 346.5L148 348.3L151.4 350.2L154.8 352.1L158.2 354.2L161.6 356.4L165 358.7L168.4 361.1L171.8 363.7L175.3 366.3L178.7 369L182.2 371.8L185.6 374.8L189.1 377.8L192.5 381L196 384.2L199.5 387.6L202.9 391L206.4 394.6L209.9 398.2L213.3 402L216.8 405.9L220.3 409.8L223.8 413.9L227.2 418L230.7 422.3L234.2 426.7L237.7 431.1L241.1 435.7M133 342.5L136.4 343.9L139.8 345.4L143.2 347.1L146.5 348.8L149.9 350.7L153.4 352.7L156.8 354.7L160.2 356.9L163.6 359.2L167.1 361.6L170.5 364.1L173.9 366.8L177.4 369.5L180.9 372.3L184.3 375.2L187.8 378.3L191.3 381.4L194.7 384.7L198.2 388L201.7 391.4L205.2 395L208.7 398.7L212.2 402.4L215.7 406.3L219.2 410.2L222.6 414.3L226.1 418.4L229.6 422.7L233.1 427L236.6 431.5M131.5 343.1L134.9 344.5L138.3 346L141.7 347.6L145.1 349.4L148.5 351.2L151.9 353.2L155.4 355.2L158.8 357.4L162.2 359.7L165.7 362.1L169.1 364.6L172.6 367.2L176.1 369.9L179.5 372.8L183 375.7L186.5 378.7L190 381.9L193.5 385.1L197 388.4L200.5 391.9L204 395.4L207.5 399.1L211 402.8L214.5 406.7L218 410.6L221.5 414.7L225 418.8L228.5 423L232 427.4L235.5 431.8M130 343.6L133.4 345L136.8 346.5L140.2 348.1L143.6 349.9L147.1 351.7L150.5 353.7L153.9 355.7L157.4 357.9L160.8 360.2L164.3 362.6L167.8 365.1L171.3 367.7L174.7 370.4L178.2 373.2L181.7 376.1L185.2 379.2L188.7 382.3L192.2 385.5L195.7 388.9L199.2 392.3L202.8 395.8L206.3 399.5L209.8 403.2L213.3 407L216.8 411L220.4 415L223.9 419.2L227.4 423.4L230.9 427.7L234.5 432.2M128.5 344.1L131.9 345.5L135.3 347L138.7 348.7L142.2 350.4L145.6 352.2L149 354.2L152.5 356.3L156 358.4L159.4 360.7L162.9 363.1L166.4 365.6L169.9 368.2L173.4 370.9L176.9 373.7L180.4 376.6L183.9 379.6L187.4 382.7L190.9 386L194.5 389.3L198 392.7L201.5 396.2L205.1 399.9L208.6 403.6L212.1 407.4L215.7 411.4L219.2 415.4L222.7 419.5L226.3 423.8L229.8 428.1L233.4 432.5M130.4 346.1L133.8 347.6L137.2 349.2L140.7 350.9L144.1 352.7L147.6 354.7L151.1 356.8L154.5 358.9L158 361.2L161.5 363.6L165 366.1L168.5 368.7L172 371.4L175.5 374.2L179.1 377.1L182.6 380.1L186.1 383.2L189.7 386.4L193.2 389.7L196.7 393.1L200.3 396.6L203.8 400.3L207.4 404L210.9 407.8L214.5 411.7L218 415.8L221.6 419.9L225.2 424.1L228.7 428.4L232.3 432.8M128.8 346.6L132.3 348.1L135.7 349.7L139.2 351.4L142.6 353.2L146.1 355.2L149.6 357.2L153.1 359.4L156.6 361.7L160.1 364.1L163.6 366.5L167.1 369.1L170.6 371.8L174.2 374.6L177.7 377.5L181.3 380.5L184.8 383.6L188.4 386.8L191.9 390.1L195.5 393.5L199 397.1L202.6 400.7L206.2 404.4L209.7 408.2L213.3 412.1L216.9 416.1L220.4 420.2L224 424.4L227.6 428.7L231.2 433.1M130.7 348.6L134.2 350.2L137.7 351.9L141.1 353.7L144.6 355.7L148.1 357.7L151.6 359.9L155.1 362.2L158.7 364.5L162.2 367L165.7 369.6L169.3 372.3L172.8 375.1L176.4 378L179.9 381L183.5 384.1L187 387.3L190.6 390.6L194.2 394L197.8 397.5L201.3 401.1L204.9 404.8L208.5 408.6L212.1 412.5L215.7 416.5L219.3 420.5L222.9 424.7L226.5 429L230 433.4M129.2 349L132.7 350.6L136.1 352.4L139.6 354.2L143.1 356.1L146.6 358.2L150.2 360.4L153.7 362.6L157.2 365L160.8 367.5L164.3 370L167.9 372.7L171.4 375.5L175 378.4L178.6 381.4L182.1 384.5L185.7 387.7L189.3 391L192.9 394.4L196.5 397.8L200.1 401.4L203.7 405.1L207.3 408.9L210.9 412.8L214.5 416.8L218.1 420.9L221.7 425L225.3 429.3L228.9 433.7M131.1 351.1L134.6 352.8L138.1 354.6L141.6 356.6L145.1 358.6L148.7 360.8L152.2 363.1L155.8 365.4L159.3 367.9L162.9 370.5L166.4 373.2L170 375.9L173.6 378.8L177.2 381.8L180.8 384.9L184.4 388.1L188 391.4L191.6 394.7L195.2 398.2L198.8 401.8L202.4 405.5L206 409.3L209.7 413.1L213.3 417.1L216.9 421.2L220.5 425.3L224.1 429.6L227.8 434M129.5 351.5L133 353.2L136.6 355.1L140.1 357L143.6 359.1L147.2 361.2L150.7 363.5L154.3 365.9L157.9 368.3L161.4 370.9L165 373.6L168.6 376.4L172.2 379.2L175.8 382.2L179.4 385.3L183 388.5L186.6 391.7L190.3 395.1L193.9 398.6L197.5 402.2L201.2 405.8L204.8 409.6L208.4 413.5L212.1 417.4L215.7 421.5L219.3 425.6L223 429.9L226.6 434.2"/><path class="m" style="stroke-width:0.570" d="M136.7 319.1L135.5 319.6L134.2 320.2L132.9 320.7L131.6 321.3M84 343.3L82.3 344.1L80.6 344.8L78.9 345.5M139.6 319L138.4 319.5L137.1 319.9L135.8 320.4L134.5 320.9M82.1 343L80.3 343.6L78.6 344.1M137.4 320.9L136.1 321.3L134.8 321.7L133.5 322.1L132.1 322.6L130.8 323L129.4 323.5L128.1 324L126.7 324.5M129.7 324.4L128.4 324.9L127 325.4L125.6 325.9L124.2 326.4L122.7 326.9L121.3 327.5L119.9 328L118.4 328.6L117 329.2L115.5 329.8L114 330.4L112.5 331.1L111 331.7L109.5 332.4L108 333L106.4 333.7L104.9 334.4L103.3 335L101.7 335.7L100.1 336.4M101.7 336.7L100.1 337.3L98.5 338L96.9 338.6L95.2 339.1M98.5 339.1L96.8 339.6L95.2 340.1L93.5 340.5M96.8 340.7L95.1 341.1M159.2 314.9L162.1 315.2L164.9 315.5L167.8 315.8M158 315.7L160.9 316.1L163.8 316.4L166.7 316.8M156.9 316.4L159.7 316.8L162.6 317.3L165.5 317.7L168.4 318.2M158.6 317.5L161.5 318L164.4 318.5L167.3 319L170.2 319.6M160.3 318.7L163.2 319.3L166.1 319.9L169 320.5L172 321.1M159.1 319.3L162 319.9L164.9 320.6L167.9 321.3L170.8 322M160.8 320.5L163.8 321.2L166.7 322L169.7 322.8L172.6 323.6M162.6 321.8L165.5 322.6L168.5 323.5L171.5 324.4L174.4 325.3M161.4 322.4L164.4 323.2L167.3 324.1L170.3 325L173.3 326L176.3 327.1M163.2 323.7L166.1 324.7L169.1 325.7L172.1 326.7L175.1 327.8M164.9 325.2L167.9 326.2L170.9 327.3L174 328.5L177 329.7M163.7 325.7L166.8 326.8L169.8 327.9L172.8 329.1L175.8 330.3L178.8 331.7M165.6 327.2L168.6 328.4L171.6 329.6L174.6 330.9L177.7 332.3L180.7 333.7M164.3 327.7L167.4 328.9L170.4 330.2L173.5 331.5L176.5 332.9L179.6 334.4M163.1 328.1L166.2 329.3L169.2 330.6L172.3 332L175.3 333.4L178.4 335L181.5 336.5M165 329.7L168 331.1L171.1 332.5L174.1 334L177.2 335.5L180.3 337.1L183.4 338.8M163.7 330.1L166.8 331.5L169.9 332.9L173 334.4L176 336L179.1 337.7L182.2 339.4M162.5 330.5L165.6 331.9L168.7 333.3L171.8 334.9L174.9 336.5L178 338.2L181.1 339.9L184.2 341.8M161.2 330.9L164.3 332.3L167.4 333.7L170.5 335.3L173.6 336.9L176.8 338.6L179.9 340.4L183 342.3L186.2 344.3M160 331.2L163.1 332.6L166.2 334.1L169.3 335.7L172.4 337.3L175.6 339.1L178.7 340.9L181.8 342.8L185 344.8M158.7 331.6L161.8 333L165 334.5L168.1 336.1L171.2 337.8L174.4 339.5L177.5 341.4L180.7 343.3L183.8 345.3L187 347.4M154.3 330.6L157.4 331.9L160.6 333.4L163.7 334.9L166.8 336.5L170 338.1L173.1 339.9L176.3 341.8L179.5 343.8L182.6 345.8L185.8 347.9M153 331L156.2 332.3L159.3 333.7L162.4 335.2L165.6 336.8L168.7 338.5L171.9 340.3L175.1 342.2L178.2 344.2L181.4 346.3L184.6 348.4M151.7 331.4L154.9 332.7L158 334.1L161.2 335.6L164.3 337.2L167.5 338.9L170.7 340.7L173.8 342.6L177 344.6L180.2 346.7L183.4 348.9L186.6 351.1M147.3 330.5L150.4 331.7L153.6 333L156.7 334.4L159.9 336L163 337.6L166.2 339.3L169.4 341.1L172.6 343L175.8 345L179 347.1L182.2 349.3L185.4 351.6M145.9 330.9L149.1 332.1L152.2 333.4L155.4 334.8L158.6 336.3L161.8 338L165 339.7L168.2 341.5L171.4 343.4L174.6 345.4L177.8 347.5L181 349.7L184.2 352M141.4 330.2L144.6 331.3L147.7 332.5L150.9 333.8L154.1 335.2L157.3 336.7L160.5 338.3L163.7 340.1L166.9 341.9L170.1 343.8L173.3 345.8L176.5 347.9L179.8 350.2L183 352.5M140.1 330.7L143.2 331.7L146.4 332.9L149.6 334.2L152.8 335.6L156 337.1L159.2 338.7L162.4 340.5L165.6 342.3L168.8 344.2L172.1 346.2L175.3 348.4L178.6 350.6L181.8 352.9M135.5 330.2L138.7 331.1L141.9 332.2L145 333.3L148.2 334.6L151.4 336L154.6 337.5L157.9 339.1L161.1 340.9L164.3 342.7L167.6 344.6L170.8 346.6L174.1 348.8L177.3 351L180.6 353.3M134.1 330.7L137.3 331.6L140.5 332.6L143.7 333.8L146.9 335.1L150.1 336.4L153.3 337.9L156.5 339.6L159.8 341.3L163 343.1L166.3 345L169.5 347L172.8 349.2L176.1 351.4M129.5 330.4L132.7 331.2L135.9 332.1L139.1 333.1L142.3 334.2L145.5 335.5L148.7 336.9L152 338.4L155.2 340L158.4 341.7L161.7 343.5L165 345.4L168.2 347.5L171.5 349.6M128.1 330.9L131.3 331.7L134.5 332.6L137.7 333.6L140.9 334.7L144.1 336L147.4 337.3L150.6 338.8L153.9 340.4L157.1 342.1L160.4 343.9L163.7 345.9L166.9 347.9M126.6 331.5L129.8 332.2L133 333.1L136.3 334.1L139.5 335.2L142.7 336.4L146 337.8L149.2 339.3L152.5 340.9L155.8 342.6L159 344.4L162.3 346.3M125.2 332L128.4 332.7L131.6 333.6L134.8 334.6L138.1 335.7L141.3 336.9L144.6 338.3L147.9 339.8L151.1 341.3L154.4 343L157.7 344.8M123.7 332.6L126.9 333.3L130.2 334.1L133.4 335.1L136.7 336.2L139.9 337.4L143.2 338.8L146.5 340.2L149.7 341.8L153 343.5M119 332.7L122.2 333.2L125.5 333.9L128.7 334.7L132 335.6L135.2 336.7L138.5 338L141.8 339.3L145.1 340.7L148.4 342.3M117.5 333.3L120.8 333.8L124 334.4L127.2 335.2L130.5 336.2L133.8 337.3L137.1 338.5L140.3 339.8L143.6 341.3M258.8 453.2L262.2 458.2L265.6 463.3M116 333.9L119.3 334.4L122.5 335L125.8 335.8L129 336.8L132.3 337.8L135.6 339L138.9 340.3L142.2 341.8M251.1 443.9L254.5 448.7L257.9 453.7L261.3 458.7L264.7 463.8M114.5 334.5L117.7 335L121 335.6L124.3 336.4L127.5 337.3L130.8 338.4L134.1 339.6L137.5 340.9M246.6 439.5L250.1 444.3L253.5 449.1L256.9 454.1L260.4 459.1L263.8 464.3M113 335.1L116.2 335.6L119.5 336.2L122.8 337L126.1 337.9L129.4 338.9L132.7 340.1L136 341.4M242.2 435.3L245.6 439.9L249.1 444.7L252.5 449.5L256 454.5L259.4 459.5L262.9 464.7M114.7 336.2L117.9 336.8L121.2 337.6L124.5 338.5L127.9 339.5L131.2 340.7L134.5 342M241.1 435.7L244.6 440.3L248.1 445.1L251.5 449.9L255 454.9L258.5 459.9L261.9 465M113.1 336.8L116.4 337.4L119.7 338.1L123 339L126.4 340.1L129.7 341.2L133 342.5M236.6 431.5L240.1 436L243.6 440.7L247.1 445.4L250.5 450.3L254 455.2L257.5 460.2L261 465.3M111.5 337.4L114.8 338L118.2 338.7L121.5 339.6L124.8 340.6L128.2 341.8L131.5 343.1M235.5 431.8L239 436.4L242.5 441L246 445.7L249.5 450.6L253 455.5L256.5 460.5L260 465.6M110 338L113.3 338.5L116.6 339.3L119.9 340.2L123.3 341.2L126.7 342.3L130 343.6M234.5 432.2L238 436.7L241.5 441.3L245 446.1L248.5 450.9L252 455.8L255.5 460.8L259.1 465.9M108.4 338.5L111.7 339.1L115 339.8L118.4 340.7L121.7 341.7L125.1 342.9L128.5 344.1M233.4 432.5L236.9 437L240.4 441.6L244 446.4L247.5 451.2L251 456.1L254.6 461.1L258.1 466.1M110.1 339.7L113.4 340.4L116.8 341.3L120.2 342.3L123.6 343.4L127 344.7L130.4 346.1M232.3 432.8L235.8 437.3L239.4 441.9L242.9 446.6L246.5 451.4L250 456.3L253.6 461.3L257.1 466.4M108.5 340.2L111.8 340.9L115.2 341.8L118.6 342.8L122 343.9L125.4 345.2L128.8 346.6M231.2 433.1L234.7 437.6L238.3 442.2L241.9 446.9L245.4 451.7L249 456.5L252.6 461.5L256.1 466.6M110.2 341.4L113.6 342.3L117 343.3L120.4 344.4L123.9 345.7L127.3 347.1L130.7 348.6M230 433.4L233.6 437.9L237.2 442.5L240.8 447.1L244.4 451.9L248 456.8L251.5 461.7L255.1 466.8M108.6 341.9L112 342.7L115.4 343.7L118.8 344.9L122.3 346.1L125.7 347.5L129.2 349M228.9 433.7L232.5 438.2L236.1 442.7L239.7 447.4L243.3 452.1L246.9 457L250.5 461.9L254.1 466.9M110.4 343.2L113.8 344.2L117.2 345.3L120.7 346.6L124.1 348L127.6 349.5L131.1 351.1M227.8 434L231.4 438.4L235 443L238.6 447.6L242.3 452.3L245.9 457.1L249.5 462.1L253.1 467.1M108.7 343.6L112.2 344.6L115.6 345.7L119.1 347L122.6 348.4L126 349.9L129.5 351.5M226.6 434.2L230.3 438.7L233.9 443.2L237.5 447.8L241.2 452.5L244.8 457.3L248.4 462.2L252.1 467.2"/><path class="m" style="stroke-width:0.442" d="M131.6 321.3L130.2 321.8L128.9 322.4L127.6 322.9M87.4 341.8L85.7 342.5L84 343.3M134.5 320.9L133.2 321.3L131.8 321.8L130.5 322.3L129.2 322.8M83.8 342.3L82.1 343M126.7 324.5L125.3 325L123.9 325.5L122.5 326L121.1 326.6L119.7 327.1L118.2 327.7L116.8 328.3L115.3 328.9L113.9 329.5L112.4 330.2L110.9 330.8L109.4 331.5L107.9 332.2M100.1 336.4L98.5 337L96.9 337.7L95.2 338.3L93.6 338.9M95.2 339.1L93.5 339.7L91.8 340.2L90.1 340.7M93.5 340.5L91.8 341M147.9 314L150.7 314.2L153.5 314.4L156.4 314.7L159.2 314.9M146.7 314.6L149.5 314.8L152.3 315.1L155.2 315.4L158 315.7M145.5 315.2L148.3 315.4L151.2 315.7L154 316.1L156.9 316.4M144.2 315.8L147.1 316L149.9 316.3L152.8 316.7L155.7 317.1L158.6 317.5M143 316.3L145.9 316.5L148.7 316.8L151.6 317.2L154.5 317.7L157.4 318.2L160.3 318.7M144.6 317.1L147.5 317.4L150.4 317.8L153.3 318.2L156.2 318.7L159.1 319.3M146.3 317.8L149.2 318.2L152.1 318.7L155 319.3L157.9 319.9L160.8 320.5M148 318.7L150.9 319.2L153.8 319.8L156.7 320.4L159.6 321.1L162.6 321.8M146.7 319.1L149.6 319.6L152.6 320.2L155.5 320.9L158.4 321.6L161.4 322.4M148.4 320.1L151.3 320.6L154.3 321.3L157.2 322.1L160.2 322.9L163.2 323.7M147.1 320.5L150.1 321L153 321.7L156 322.5L159 323.3L162 324.2L164.9 325.2M148.8 321.4L151.8 322.1L154.8 322.9L157.8 323.8L160.8 324.7L163.7 325.7M147.6 321.8L150.6 322.5L153.5 323.3L156.5 324.2L159.5 325.1L162.5 326.1L165.6 327.2M146.3 322.2L149.3 322.9L152.3 323.7L155.3 324.5L158.3 325.5L161.3 326.6L164.3 327.7M145 322.5L148 323.2L151 324L154 324.9L157.1 325.9L160.1 327L163.1 328.1M143.7 322.9L146.8 323.6L149.8 324.4L152.8 325.3L155.8 326.2L158.9 327.3L161.9 328.5L165 329.7M142.5 323.2L145.5 323.9L148.5 324.7L151.5 325.6L154.6 326.6L157.6 327.7L160.7 328.9L163.7 330.1M141.1 323.6L144.2 324.2L147.2 325L150.2 325.9L153.3 326.9L156.3 328L159.4 329.2L162.5 330.5M139.8 323.9L142.9 324.6L145.9 325.4L149 326.3L152 327.3L155.1 328.4L158.2 329.6L161.2 330.9M138.5 324.3L141.5 325L144.6 325.7L147.7 326.6L150.7 327.6L153.8 328.7L156.9 329.9L160 331.2M137.2 324.7L140.2 325.3L143.3 326.1L146.3 327L149.4 328L152.5 329.1L155.6 330.3L158.7 331.6M135.8 325.1L138.9 325.7L141.9 326.4L145 327.3L148.1 328.3L151.2 329.4L154.3 330.6M134.5 325.5L137.5 326.1L140.6 326.8L143.7 327.7L146.8 328.7L149.9 329.8L153 331M133.1 325.9L136.2 326.5L139.3 327.2L142.4 328.1L145.5 329.1L148.6 330.1L151.7 331.4M128.6 326L131.7 326.4L134.8 326.9L137.9 327.6L141 328.5L144.1 329.4L147.3 330.5M127.2 326.5L130.3 326.8L133.4 327.4L136.5 328L139.7 328.9L142.8 329.8L145.9 330.9M125.8 327L128.9 327.3L132 327.8L135.2 328.5L138.3 329.3L141.4 330.2M124.4 327.5L127.5 327.8L130.6 328.3L133.8 328.9L136.9 329.7L140.1 330.7M123 328L126.1 328.3L129.2 328.8L132.4 329.4L135.5 330.2M121.5 328.6L124.7 328.8L127.8 329.3L131 329.9L134.1 330.7M120.1 329.2L123.2 329.4L126.4 329.8L129.5 330.4M118.6 329.7L121.8 329.9L124.9 330.4L128.1 330.9M117.1 330.3L120.3 330.5L123.5 330.9L126.6 331.5M115.7 331L118.8 331.1L122 331.5L125.2 332M114.2 331.6L117.3 331.7L120.5 332.1L123.7 332.6M112.7 332.2L115.8 332.3L119 332.7M111.1 332.9L114.3 333L117.5 333.3M109.6 333.5L112.8 333.6L116 333.9M108.1 334.1L111.3 334.2L114.5 334.5M106.5 334.8L109.7 334.8L113 335.1M104.9 335.4L108.2 335.5L111.4 335.7L114.7 336.2M103.3 336.1L106.6 336.1L109.8 336.3L113.1 336.8M101.7 336.7L105 336.7L108.3 337L111.5 337.4M103.4 337.3L106.7 337.6L110 338M101.8 337.9L105.1 338.1L108.4 338.5M100.1 338.5L103.4 338.7L106.8 339.1L110.1 339.7M98.5 339.1L101.8 339.2L105.1 339.6L108.5 340.2M100.2 339.8L103.5 340.1L106.9 340.7L110.2 341.4M98.5 340.2L101.8 340.6L105.2 341.2L108.6 341.9M100.2 341.1L103.6 341.6L107 342.3L110.4 343.2M75.4 346.9L78.6 344.1M98.5 341.5L101.9 342L105.3 342.7L108.7 343.6"/><path class="m" style="stroke-width:0.331" d="M127.6 322.9L126.2 323.5L124.9 324.1L123.5 324.7L122.1 325.3L120.7 325.9L119.3 326.5L117.9 327.2L116.5 327.8L115.1 328.5L113.6 329.1L112.2 329.8L110.7 330.5L109.2 331.2L107.8 331.9L106.3 332.7L104.8 333.4L103.2 334.1L101.7 334.9L100.2 335.6L98.6 336.4L97 337.2L95.5 337.9L93.9 338.7L92.3 339.5L90.6 340.2L89 341L87.4 341.8M129.2 322.8L127.8 323.3L126.5 323.8L125.1 324.3L123.7 324.9L122.3 325.4L120.9 326L119.5 326.6L118.1 327.2L116.6 327.8L115.2 328.4L113.7 329L112.3 329.7L110.8 330.4L109.3 331L107.8 331.7L106.3 332.4L104.8 333.1L103.2 333.8L101.7 334.6L100.1 335.3L98.5 336L97 336.7L95.4 337.5L93.8 338.2L92.1 338.9L90.5 339.6L88.8 340.3L87.2 341L85.5 341.7L83.8 342.3M107.9 332.2L106.3 332.8L104.8 333.5L103.3 334.2L101.7 334.9L100.1 335.6L98.5 336.3L96.9 337L95.3 337.7L93.7 338.3L92 339L90.4 339.6L88.7 340.3L87 340.9L85.3 341.4L83.6 342L81.8 342.5M93.6 338.9L91.9 339.5L90.3 340.1L88.6 340.6L86.8 341.1L85.1 341.6M90.1 340.7L88.4 341.1M141.8 316.9L144.6 317.1M140.5 317.4L143.4 317.6L146.3 317.8M139.3 318L142.2 318.1L145.1 318.3L148 318.7M138 318.5L140.9 318.5L143.8 318.8L146.7 319.1M136.7 319.1L139.6 319L142.5 319.2L145.5 319.6L148.4 320.1M135.5 319.6L138.4 319.5L141.3 319.6L144.2 320L147.1 320.5M134.2 320.2L137.1 319.9L140 320L142.9 320.4L145.9 320.8L148.8 321.4M132.9 320.7L135.8 320.4L138.7 320.5L141.7 320.8L144.6 321.2L147.6 321.8M131.6 321.3L134.5 320.9L137.4 320.9L140.4 321.1L143.3 321.6L146.3 322.2M130.2 321.8L133.2 321.3L136.1 321.3L139.1 321.5L142.1 321.9L145 322.5M128.9 322.4L131.8 321.8L134.8 321.7L137.8 321.9L140.8 322.3L143.7 322.9M127.6 322.9L130.5 322.3L133.5 322.1L136.5 322.3L139.4 322.7L142.5 323.2M126.2 323.5L129.2 322.8L132.1 322.6L135.1 322.7L138.1 323.1L141.1 323.6M124.9 324.1L127.8 323.3L130.8 323L133.8 323.1L136.8 323.4L139.8 323.9M123.5 324.7L126.5 323.8L129.4 323.5L132.4 323.5L135.5 323.8L138.5 324.3M122.1 325.3L125.1 324.3L128.1 324L131.1 324L134.1 324.2L137.2 324.7M120.7 325.9L123.7 324.9L126.7 324.5L129.7 324.4L132.8 324.7L135.8 325.1M119.3 326.5L122.3 325.4L125.3 325L128.4 324.9L131.4 325.1L134.5 325.5M117.9 327.2L120.9 326L123.9 325.5L127 325.4L130 325.5L133.1 325.9M116.5 327.8L119.5 326.6L122.5 326L125.6 325.9L128.6 326M115.1 328.5L118.1 327.2L121.1 326.6L124.2 326.4L127.2 326.5M113.6 329.1L116.6 327.8L119.7 327.1L122.7 326.9L125.8 327M112.2 329.8L115.2 328.4L118.2 327.7L121.3 327.5L124.4 327.5M110.7 330.5L113.7 329L116.8 328.3L119.9 328L123 328M109.2 331.2L112.3 329.7L115.3 328.9L118.4 328.6L121.5 328.6M107.8 331.9L110.8 330.4L113.9 329.5L117 329.2L120.1 329.2M106.3 332.7L109.3 331L112.4 330.2L115.5 329.8L118.6 329.7M104.8 333.4L107.8 331.7L110.9 330.8L114 330.4L117.1 330.3M103.2 334.1L106.3 332.4L109.4 331.5L112.5 331.1L115.7 331M101.7 334.9L104.8 333.1L107.9 332.2L111 331.7L114.2 331.6M100.2 335.6L103.2 333.8L106.3 332.8L109.5 332.4L112.7 332.2M98.6 336.4L101.7 334.6L104.8 333.5L108 333L111.1 332.9M97 337.2L100.1 335.3L103.3 334.2L106.4 333.7L109.6 333.5M95.5 337.9L98.5 336L101.7 334.9L104.9 334.4L108.1 334.1M93.9 338.7L97 336.7L100.1 335.6L103.3 335L106.5 334.8M92.3 339.5L95.4 337.5L98.5 336.3L101.7 335.7L104.9 335.4M90.6 340.2L93.8 338.2L96.9 337L100.1 336.4L103.3 336.1M89 341L92.1 338.9L95.3 337.7L98.5 337L101.7 336.7M87.4 341.8L90.5 339.6L93.7 338.3L96.9 337.7L100.1 337.3L103.4 337.3M85.7 342.5L88.8 340.3L92 339L95.2 338.3L98.5 338L101.8 337.9M84 343.3L87.2 341L90.4 339.6L93.6 338.9L96.9 338.6L100.1 338.5M82.3 344.1L85.5 341.7L88.7 340.3L91.9 339.5L95.2 339.1L98.5 339.1M80.6 344.8L83.8 342.3L87 340.9L90.3 340.1L93.5 339.7L96.8 339.6L100.2 339.8M78.9 345.5L82.1 343L85.3 341.4L88.6 340.6L91.8 340.2L95.2 340.1L98.5 340.2M77.2 346.2L80.3 343.6L83.6 342L86.8 341.1L90.1 340.7L93.5 340.5L96.8 340.7L100.2 341.1M78.6 344.1L81.8 342.5L85.1 341.6L88.4 341.1L91.8 341L95.1 341.1L98.5 341.5"/></g>
<path class="k" d="M81.5 485.8L74.4 324.1M81.5 485.8L251 511.9M251 511.9L294.1 444.5M113.3 490.7L111.4 492.4M146.1 495.7L144.4 497.5M179.9 500.9L178.4 502.8M214.9 506.3L213.5 508.2M251 511.9L249.7 513.9M286.8 456L290.2 456.5M278.8 468.4L282.4 468.9M270.3 481.8L274 482.3M261 496.2L264.9 496.8M251 511.9L255 512.5M81.5 485.8h-3M80.4 460.2h-3M79.2 434.1h-3M78.1 407.4h-3M76.9 380.2h-3M75.7 352.5h-3M74.4 324.1h-3"/>
<g class="tx">
<g class="t" text-anchor="middle"><text x="65.7" y="210.2">0.3</text><text x="64.7" y="191.5">0.4</text><text x="63.7" y="172.0">0.5</text><text x="62.5" y="151.8">0.6</text><text x="61.5" y="131.3">0.7</text><text x="60.6" y="110.4">0.8</text><text x="59.3" y="89.3">0.9</text><text x="58.3" y="67.7">1.0</text><text x="56.6" y="45.9">1.1</text><text x="67.1" y="493.4">-0.25</text><text x="65.5" y="468.0">-0.20</text><text x="63.9" y="441.8">-0.15</text><text x="62.9" y="414.3">-0.10</text><text x="61.2" y="386.4">-0.05</text><text x="61.3" y="357.9">0.00</text><text x="59.7" y="329.4">0.05</text><text x="95.1" y="220.2">0.1</text><text x="128.1" y="226.0">0.2</text><text x="162.9" y="231.6">0.3</text><text x="198.4" y="237.5">0.4</text><text x="235.5" y="243.3">0.5</text><text x="100.4" y="503.0">0.1</text><text x="133.8" y="508.6">0.2</text><text x="168.6" y="513.1">0.3</text><text x="203.9" y="518.8">0.4</text><text x="240.5" y="524.7">0.5</text><text x="295.0" y="178.3">0.1</text><text x="287.0" y="190.9">0.2</text><text x="279.0" y="203.9">0.3</text><text x="269.9" y="219.0">0.4</text><text x="260.0" y="234.2">0.5</text><text x="300.3" y="460.3">0.1</text><text x="292.5" y="472.9">0.2</text><text x="284.3" y="486.1">0.3</text><text x="275.4" y="500.9">0.4</text><text x="265.6" y="516.8">0.5</text></g>
<text class="ti" transform="translate(35.6,216.5) rotate(-92.5)" textLength="183" lengthAdjust="spacingAndGlyphs">Correlation of selfing among loci, <tspan font-style="italic">r</tspan><tspan font-size="8.5" dy="2.5">s</tspan></text>
<text class="ti" transform="translate(87.6,246.6) rotate(8.1)">Effective selfing rate, <tspan font-style="italic">E</tspan></text>
<text class="ti" transform="translate(93.6,528.2) rotate(8.4)">Effective selfing rate, <tspan font-style="italic">E</tspan></text>
<g class="ti" transform="translate(316.9,216.9) rotate(-55)" text-anchor="middle"><text x="-0.3" y="-13.4">Biparental</text><text x="0" y="0">inbreeding</text><text x="0.7" y="15.4">rate, s<tspan font-size="8.5" dy="2.5">b</tspan></text></g>
<g class="ti" transform="translate(322.1,499.6) rotate(-55)" text-anchor="middle"><text x="-0.3" y="-13.4">Biparental</text><text x="0" y="0">inbreeding</text><text x="0.7" y="15.4">rate, s<tspan font-size="8.5" dy="2.5">b</tspan></text></g>
<g class="ti" transform="translate(19.9,516.8) rotate(-92.4)"><text x="0" y="0" textLength="213" lengthAdjust="spacingAndGlyphs">Error of approximation for <tspan font-style="italic">r</tspan><tspan font-size="8.5" dy="2.5">s</tspan><tspan dy="-2.5"> as fraction of</tspan></text><text x="3.6" y="16.3" textLength="210" lengthAdjust="spacingAndGlyphs">inbreeding due to uniparental inbreeding</text></g>
<text class="pl" x="3.6" y="12">a</text><text class="pl" x="3.2" y="291.4">b</text>
</g>
</svg></body></html>
